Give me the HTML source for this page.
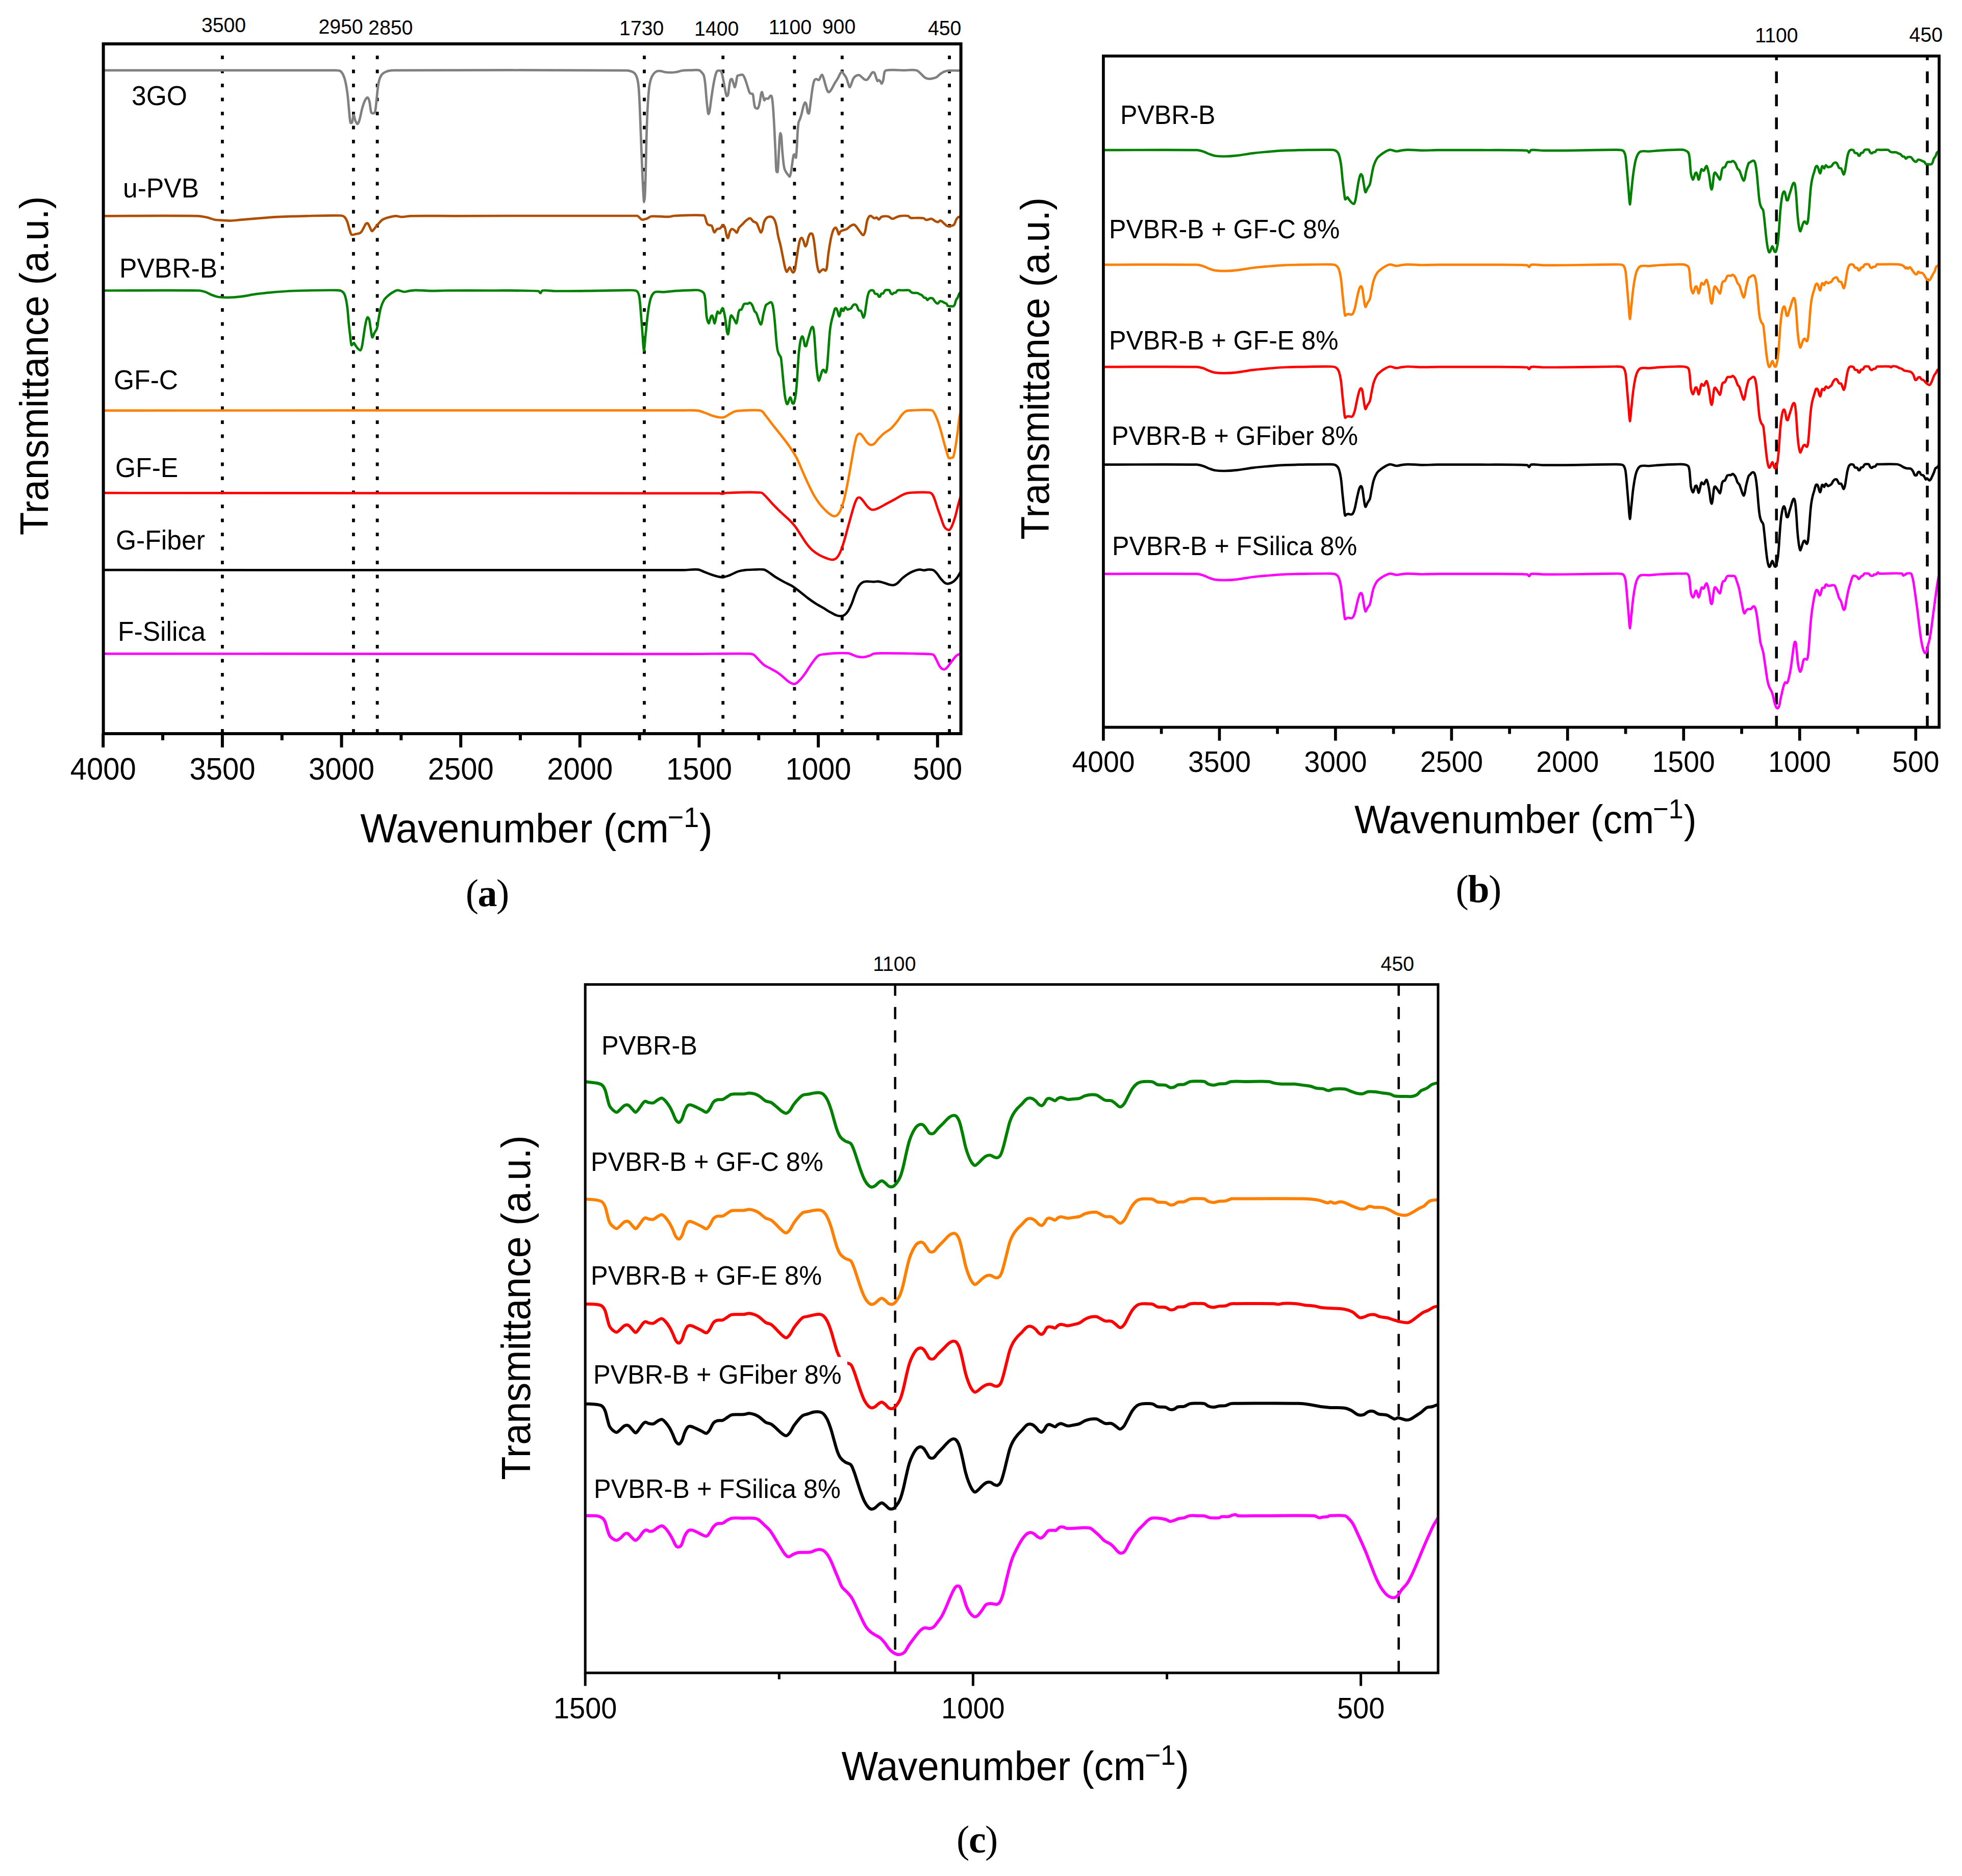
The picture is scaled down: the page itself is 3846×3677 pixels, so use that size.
<!DOCTYPE html>
<html><head><meta charset="utf-8"><title>FTIR</title><style>html,body{margin:0;padding:0;background:#fff}svg{display:block}</style></head><body>
<svg width="3846" height="3677" viewBox="0 0 3846 3677">
<rect width="3846" height="3677" fill="#fff"/>
<line x1="435.9" y1="108.9" x2="435.9" y2="1438.0" stroke="#000" stroke-width="5.8" stroke-dasharray="7 20.5"/>
<line x1="692.9" y1="108.9" x2="692.9" y2="1438.0" stroke="#000" stroke-width="5.8" stroke-dasharray="7 20.5"/>
<line x1="739.6" y1="108.9" x2="739.6" y2="1438.0" stroke="#000" stroke-width="5.8" stroke-dasharray="7 20.5"/>
<line x1="1263.0" y1="108.9" x2="1263.0" y2="1438.0" stroke="#000" stroke-width="5.8" stroke-dasharray="7 20.5"/>
<line x1="1417.2" y1="108.9" x2="1417.2" y2="1438.0" stroke="#000" stroke-width="5.8" stroke-dasharray="7 20.5"/>
<line x1="1557.4" y1="108.9" x2="1557.4" y2="1438.0" stroke="#000" stroke-width="5.8" stroke-dasharray="7 20.5"/>
<line x1="1650.8" y1="108.9" x2="1650.8" y2="1438.0" stroke="#000" stroke-width="5.8" stroke-dasharray="7 20.5"/>
<line x1="1861.1" y1="108.9" x2="1861.1" y2="1438.0" stroke="#000" stroke-width="5.8" stroke-dasharray="7 20.5"/>
<path d="M202.0,137.8C353.5,137.8 505.0,137.2 656.4,137.8C660.2,137.8 664.9,137.6 667.6,139.7C671.2,142.6 673.6,148.1 675.1,152.8C678.0,161.7 679.4,171.3 680.7,180.7C682.5,193.1 683.1,205.6 684.4,218.0C685.2,225.5 685.4,233.8 687.0,240.4C687.2,241.3 689.7,241.2 690.0,240.4C691.7,236.3 691.7,226.2 693.0,225.5C694.0,225.0 695.2,233.1 696.7,236.7C697.6,238.9 699.2,243.0 700.4,243.0C701.7,243.0 703.5,239.0 704.2,236.7C706.8,228.2 708.0,219.2 710.5,210.6C712.0,205.5 713.7,200.3 716.1,195.7C717.1,193.9 719.5,190.7 720.6,191.2C722.2,191.9 723.6,196.5 724.3,199.4C726.0,206.4 725.7,214.9 728.0,221.0C728.5,222.4 731.6,222.3 732.9,221.8C734.1,221.3 735.2,219.5 735.5,218.0C737.1,209.6 737.5,200.7 738.5,192.0C739.7,182.0 740.2,171.8 742.2,162.0C743.3,156.9 744.9,151.4 747.8,147.2C749.9,144.2 753.7,141.8 757.2,140.4C761.8,138.6 767.0,137.8 772.0,137.8C924.1,137.1 1076.4,137.4 1228.5,138.1C1231.7,138.1 1234.9,138.9 1237.8,140.0C1240.2,140.9 1242.8,142.2 1244.4,144.1C1246.5,146.7 1248.1,150.1 1249.0,153.4C1250.5,158.8 1251.3,164.6 1251.8,170.2C1252.8,180.7 1253.2,191.3 1253.7,201.9C1254.5,217.5 1255.0,233.0 1255.6,248.6C1256.2,264.1 1256.8,279.7 1257.4,295.2C1258.0,310.8 1258.6,326.3 1259.3,341.9C1259.9,354.9 1260.4,368.0 1261.2,381.0C1261.5,386.0 1262.1,396.0 1262.6,396.0C1263.1,396.0 1264.0,386.0 1264.3,381.0C1265.1,364.9 1265.4,348.7 1265.8,332.5C1266.3,313.9 1266.6,295.2 1267.1,276.6C1267.5,261.0 1268.0,245.5 1268.6,229.9C1269.1,218.1 1269.7,206.3 1270.5,194.5C1271.1,186.4 1271.6,178.2 1272.7,170.2C1273.4,164.9 1274.4,159.4 1276.1,154.4C1277.4,150.7 1279.3,147.1 1281.7,144.1C1283.3,142.1 1285.8,140.2 1288.2,139.4C1290.5,138.6 1293.2,139.1 1295.7,139.4C1298.2,139.7 1300.6,140.9 1303.1,141.3C1306.8,141.9 1310.6,142.2 1314.3,142.2C1318.0,142.2 1321.8,141.9 1325.5,141.3C1329.3,140.7 1332.9,139.0 1336.7,138.5C1342.9,137.7 1349.2,137.8 1355.4,137.6C1360.4,137.5 1365.6,136.7 1370.3,137.6C1372.2,138.0 1373.7,139.8 1375.0,141.3C1376.8,143.2 1378.8,145.3 1379.6,147.8C1381.3,153.1 1381.7,159.0 1382.4,164.6C1383.3,172.0 1383.6,179.5 1384.3,187.0C1385.0,195.1 1385.7,203.2 1386.7,211.3C1387.2,215.4 1387.6,221.7 1388.6,223.4C1389.0,224.1 1390.5,220.4 1390.8,218.7C1392.2,211.6 1392.8,204.2 1393.8,197.0C1395.0,188.5 1396.2,180.0 1397.6,171.5C1398.7,164.7 1399.9,157.9 1401.5,151.2C1402.4,147.3 1403.4,142.9 1405.3,139.7C1405.9,138.6 1407.8,138.4 1409.1,138.4C1410.5,138.4 1412.7,138.5 1413.4,139.7C1415.3,142.8 1415.9,147.3 1416.8,151.2C1418.3,157.9 1419.2,164.8 1420.6,171.5C1421.7,177.1 1422.6,183.9 1424.4,188.1C1424.7,188.9 1426.7,187.3 1427.0,186.3C1428.4,180.9 1428.5,174.7 1429.5,169.0C1430.2,164.7 1430.6,160.1 1432.0,156.3C1432.3,155.4 1434.1,154.4 1434.6,155.0C1436.1,156.9 1436.8,160.9 1437.9,163.9C1438.8,166.3 1439.8,171.4 1440.5,171.0C1441.5,170.5 1442.3,164.6 1443.0,161.4C1444.0,157.2 1443.9,152.1 1445.6,148.6C1446.2,147.4 1448.4,147.6 1449.9,147.3C1451.8,146.9 1454.3,145.7 1455.7,146.6C1457.7,147.9 1459.0,151.2 1460.1,153.7C1462.2,158.6 1463.4,163.9 1465.2,169.0C1466.8,173.7 1467.8,179.2 1470.3,183.0C1471.2,184.3 1474.8,182.9 1475.4,184.3C1477.3,188.4 1476.9,194.5 1477.9,199.6C1478.6,203.4 1478.7,208.1 1480.5,211.0C1481.3,212.3 1484.8,213.4 1485.6,212.3C1487.7,209.6 1488.4,203.9 1489.4,199.6C1490.5,194.6 1490.8,189.3 1491.9,184.3C1492.2,182.9 1493.2,180.1 1493.7,180.5C1494.5,181.3 1495.1,185.6 1495.8,188.1C1496.6,190.9 1497.2,195.4 1498.3,196.5C1498.9,197.1 1499.7,193.7 1500.9,193.2C1502.3,192.6 1504.7,194.0 1506.0,193.2C1507.6,192.3 1508.3,189.3 1509.8,188.1C1510.4,187.6 1512.0,187.4 1512.3,188.1C1513.6,191.3 1514.0,195.7 1514.4,199.6C1515.5,209.8 1516.1,220.0 1516.7,230.2C1517.5,242.9 1518.1,255.7 1518.7,268.4C1519.3,281.1 1519.9,293.9 1520.5,306.6C1521.0,316.4 1520.8,326.5 1522.0,335.9C1522.1,336.7 1524.2,338.0 1524.3,337.2C1525.6,328.2 1525.7,316.8 1526.3,306.6C1527.0,295.6 1527.3,284.5 1528.1,273.5C1528.4,269.4 1528.9,263.1 1529.7,261.3C1530.0,260.6 1531.2,264.2 1531.4,265.8C1532.4,274.2 1532.5,282.8 1533.2,291.3C1533.8,299.0 1534.4,306.7 1535.3,314.3C1535.9,319.8 1536.4,325.5 1537.8,330.8C1538.5,333.5 1540.1,336.1 1541.6,338.5C1542.7,340.3 1544.1,342.0 1545.5,343.6C1546.3,344.5 1547.5,346.7 1548.0,346.1C1549.2,344.6 1550.0,340.2 1550.6,337.2C1551.7,331.3 1552.2,325.3 1553.1,319.4C1553.9,314.3 1554.3,308.8 1555.7,304.1C1556.0,303.2 1557.8,302.3 1558.2,302.8C1559.3,304.0 1559.9,310.4 1560.2,309.2C1561.2,305.7 1561.5,295.6 1562.0,288.8C1562.6,280.3 1562.7,271.8 1563.3,263.3C1563.8,255.7 1564.1,247.9 1565.3,240.4C1565.8,237.7 1567.5,235.3 1568.4,232.7C1569.6,229.3 1570.6,225.9 1571.5,222.5C1572.7,217.9 1573.4,213.1 1574.8,208.5C1575.6,205.9 1576.9,201.7 1578.1,200.9C1578.8,200.5 1580.2,203.3 1580.6,204.7C1581.9,209.6 1581.9,215.1 1583.2,220.0C1583.5,221.1 1585.1,223.1 1585.5,222.5C1586.6,220.6 1587.0,215.7 1587.5,212.3C1588.5,205.5 1589.2,198.7 1590.1,191.9C1591.1,184.3 1592.0,176.6 1593.4,169.0C1594.1,165.1 1594.8,160.9 1596.4,157.5C1597.0,156.2 1598.8,155.1 1600.2,155.0C1601.8,154.9 1604.1,157.5 1605.3,156.8C1607.0,155.8 1607.4,152.1 1608.7,149.9C1609.4,148.7 1610.5,146.4 1611.2,146.6C1612.2,146.8 1613.2,149.5 1613.8,151.2C1615.5,156.2 1616.6,161.4 1618.1,166.5C1619.3,170.3 1620.2,174.4 1621.9,177.9C1622.5,179.1 1624.0,180.8 1625.0,180.5C1626.6,180.0 1628.4,177.3 1629.6,175.4C1632.0,171.8 1633.7,167.7 1635.9,163.9C1637.9,160.4 1640.3,157.2 1642.3,153.7C1644.2,150.4 1645.5,146.8 1647.4,143.5C1648.0,142.4 1649.0,140.3 1649.9,140.5C1651.2,140.8 1652.6,143.3 1653.8,144.8C1655.6,147.2 1657.6,149.7 1658.9,152.4C1660.6,156.0 1661.3,160.1 1662.7,163.9C1663.6,166.3 1664.6,171.0 1665.7,171.0C1666.8,171.0 1668.1,166.3 1669.1,163.9C1670.5,160.6 1671.1,156.8 1672.9,153.7C1674.1,151.7 1676.0,149.7 1678.0,148.6C1679.8,147.6 1682.4,146.9 1684.3,147.3C1686.2,147.7 1687.7,149.8 1689.4,151.2C1691.1,152.6 1692.6,154.7 1694.5,155.7C1696.0,156.4 1698.3,157.0 1699.6,156.3C1701.7,155.1 1703.1,152.1 1704.7,149.9C1706.5,147.4 1707.7,144.0 1709.8,142.2C1710.7,141.4 1713.0,141.3 1713.7,142.2C1715.6,144.7 1716.2,149.0 1717.5,152.4C1718.3,154.5 1718.8,157.8 1720.0,158.8C1720.5,159.3 1721.7,156.8 1722.6,156.8C1723.4,156.8 1724.4,158.0 1725.1,158.8C1726.4,160.3 1727.5,164.3 1728.4,163.9C1729.6,163.4 1730.9,158.9 1731.5,156.3C1732.7,151.3 1732.4,145.7 1734.0,141.0C1734.5,139.5 1736.3,138.0 1737.9,137.7C1742.3,136.7 1747.2,137.1 1751.9,137.1C1758.7,137.1 1765.5,137.9 1772.3,137.9C1777.4,137.9 1782.5,137.0 1787.6,137.1C1791.0,137.2 1794.8,137.1 1797.8,138.4C1800.7,139.7 1802.9,142.6 1805.4,144.8C1808.0,147.1 1810.1,150.1 1813.0,151.9C1815.2,153.3 1818.1,154.2 1820.7,154.5C1823.2,154.8 1825.8,154.2 1828.3,153.7C1830.9,153.1 1833.7,152.5 1836.0,151.2C1838.4,149.8 1840.1,147.2 1842.4,145.6C1845.2,143.6 1848.1,141.4 1851.3,140.2C1854.5,139.0 1858.1,138.6 1861.5,138.4C1868.8,138.0 1876.2,138.4 1883.5,138.4" fill="none" stroke="#808080" stroke-width="4.7" stroke-linejoin="round" stroke-linecap="butt" />
<path d="M202.0,423.3C263.9,423.3 325.9,422.4 387.8,423.3C394.1,423.4 400.3,424.9 406.4,426.3C411.4,427.4 416.2,429.8 421.3,430.7C426.2,431.6 431.3,431.6 436.3,431.9C441.3,432.2 446.2,432.8 451.2,432.6C458.7,432.4 466.1,431.3 473.6,430.7C484.8,429.7 496.0,428.7 507.2,427.8C519.6,426.8 532.1,425.7 544.5,425.1C563.1,424.2 581.8,423.7 600.4,423.3C622.8,422.8 645.3,422.0 667.6,422.5C670.2,422.6 673.3,423.4 675.1,425.1C677.6,427.4 679.4,431.1 680.7,434.5C682.8,439.9 683.6,445.8 685.5,451.3C686.5,454.3 687.2,458.6 689.3,459.9C691.2,461.1 694.8,459.3 697.5,458.7C700.6,458.0 704.4,457.9 706.8,456.1C709.4,454.2 710.7,450.4 712.4,447.5C714.0,444.7 715.0,441.4 716.9,439.0C717.7,438.0 719.7,436.9 720.6,437.5C722.2,438.5 723.1,441.7 724.3,443.8C726.0,446.9 727.3,451.9 729.2,453.1C730.2,453.7 731.8,450.7 732.9,449.4C735.5,446.4 737.7,443.1 740.4,440.1C743.3,436.8 746.1,433.1 749.7,430.7C753.0,428.5 757.1,427.4 760.9,426.3C765.8,424.9 770.8,423.5 775.8,423.3C779.5,423.1 783.2,425.1 787.0,425.1C793.2,425.1 799.4,423.4 805.7,423.3C833.8,422.8 861.9,423.3 890.0,423.3C1009.7,423.2 1129.7,422.1 1249.0,423.0C1250.7,423.0 1251.7,425.0 1253.0,426.0C1254.8,427.5 1256.3,430.1 1258.4,430.5C1261.2,431.0 1264.7,429.6 1267.7,428.6C1270.9,427.5 1273.6,424.3 1277.0,424.0C1287.9,423.1 1299.4,425.1 1310.6,424.9C1314.4,424.8 1318.0,423.2 1321.8,423.0C1341.0,422.2 1361.3,420.6 1379.6,422.1C1381.7,422.3 1382.2,425.9 1383.0,428.0C1384.3,431.2 1384.4,435.0 1386.0,438.0C1386.8,439.4 1388.5,440.5 1390.0,441.2C1391.5,441.9 1394.2,441.1 1395.1,442.4C1397.6,445.8 1398.0,453.7 1400.2,455.2C1401.4,456.0 1403.2,450.7 1405.3,449.3C1407.1,448.1 1410.0,448.7 1411.7,447.5C1413.8,446.0 1415.0,441.7 1416.8,441.2C1418.0,440.9 1420.0,443.4 1420.6,445.0C1422.5,450.1 1422.8,456.1 1424.4,461.5C1424.9,463.3 1426.4,467.4 1427.0,466.6C1428.5,464.8 1429.1,457.9 1430.8,453.9C1431.6,452.0 1433.0,449.2 1434.6,448.8C1436.0,448.4 1438.2,450.3 1439.7,451.4C1441.4,452.7 1443.2,456.5 1444.3,455.9C1446.1,454.8 1446.7,449.2 1448.6,446.3C1450.2,443.8 1452.9,442.0 1455.0,439.9C1457.5,437.3 1459.8,434.4 1462.6,432.2C1464.9,430.4 1468.0,427.6 1470.3,427.9C1472.6,428.2 1474.3,432.3 1476.6,434.0C1478.5,435.4 1481.6,435.5 1483.0,437.3C1485.4,440.4 1486.4,445.0 1488.1,448.8C1489.2,451.1 1490.2,455.5 1491.4,455.7C1492.4,455.9 1493.9,452.1 1494.5,450.1C1495.9,445.6 1496.0,440.6 1497.5,436.1C1498.5,433.1 1499.9,429.8 1502.1,427.7C1504.0,425.9 1507.3,424.6 1509.8,424.6C1511.9,424.6 1514.8,425.9 1516.1,427.7C1518.6,431.0 1520.1,435.7 1521.2,439.9C1523.1,446.9 1523.6,454.3 1525.1,461.5C1526.6,468.3 1528.7,475.1 1530.2,481.9C1532.1,490.4 1533.6,498.9 1535.3,507.4C1536.5,513.4 1537.5,519.4 1539.1,525.3C1539.8,527.9 1541.2,532.4 1542.4,532.9C1543.3,533.2 1544.4,529.5 1545.5,527.8C1546.3,526.5 1547.2,523.8 1548.0,524.0C1549.1,524.2 1550.0,527.4 1551.1,529.1C1552.2,530.8 1553.2,534.0 1554.4,534.2C1555.4,534.4 1557.2,532.0 1557.7,530.4C1559.3,524.7 1559.8,518.5 1560.7,512.5C1562.1,504.0 1563.1,495.5 1564.6,487.0C1565.7,481.0 1566.5,474.8 1568.4,469.2C1568.8,467.8 1570.6,465.8 1571.5,466.1C1572.8,466.6 1574.0,469.7 1574.8,471.7C1576.3,475.3 1577.1,481.3 1578.6,482.7C1579.3,483.4 1581.0,479.8 1581.6,478.1C1583.1,473.6 1583.4,468.6 1585.0,464.1C1585.8,461.8 1587.2,458.8 1588.8,457.7C1589.7,457.1 1592.1,457.9 1592.6,459.0C1594.5,463.4 1595.1,469.2 1595.9,474.3C1597.2,482.8 1597.9,491.3 1599.0,499.8C1600.2,508.3 1601.0,516.9 1602.8,525.3C1603.4,528.2 1604.6,532.6 1606.1,533.7C1606.9,534.3 1608.4,531.3 1609.7,530.4C1611.1,529.4 1612.8,527.8 1614.3,527.8C1615.6,527.8 1617.2,530.8 1618.1,530.4C1619.3,529.9 1620.3,527.1 1620.6,525.3C1622.0,517.8 1622.2,509.9 1623.2,502.3C1624.3,493.8 1625.5,485.3 1627.0,476.8C1628.0,470.8 1629.2,464.8 1630.8,459.0C1631.7,455.5 1632.8,451.8 1634.6,448.8C1635.4,447.5 1637.6,445.8 1638.5,446.3C1640.0,447.1 1640.8,450.4 1641.8,452.6C1642.8,454.8 1643.3,459.3 1644.3,459.5C1645.2,459.7 1646.0,455.3 1647.4,453.9C1648.7,452.6 1650.7,452.1 1652.5,451.4C1655.0,450.4 1657.8,450.1 1660.1,448.8C1662.9,447.1 1665.0,444.1 1667.8,442.4C1669.7,441.3 1672.3,440.0 1674.2,440.4C1676.1,440.8 1677.7,443.3 1679.2,445.0C1681.5,447.8 1683.3,451.1 1685.6,453.9C1687.6,456.4 1690.2,461.0 1692.0,461.0C1693.6,461.0 1695.1,456.5 1695.8,453.9C1697.6,447.3 1697.9,440.2 1699.6,433.5C1700.4,430.4 1701.7,427.0 1703.5,424.6C1704.3,423.6 1706.1,422.9 1707.3,423.3C1709.5,424.0 1711.4,427.1 1713.7,427.7C1715.2,428.1 1717.3,426.0 1718.7,426.4C1720.2,426.8 1721.3,430.4 1722.6,430.2C1724.3,430.0 1725.7,426.2 1727.7,425.1C1729.5,424.1 1731.9,423.9 1734.0,423.8C1736.5,423.7 1739.3,423.8 1741.7,424.6C1744.4,425.5 1746.7,428.7 1749.3,428.9C1751.8,429.1 1754.4,426.8 1757.0,425.9C1759.5,425.0 1762.0,423.6 1764.6,423.3C1769.6,422.7 1775.1,422.4 1779.9,423.3C1781.9,423.7 1783.0,426.7 1785.0,427.1C1789.0,427.9 1793.5,427.0 1797.8,427.1C1802.0,427.2 1806.5,426.8 1810.5,427.7C1812.4,428.1 1813.7,430.9 1815.6,431.0C1818.8,431.3 1822.6,428.5 1825.8,428.9C1828.5,429.3 1830.8,432.2 1833.4,433.5C1835.0,434.3 1836.9,435.5 1838.5,435.3C1840.3,435.1 1842.0,431.8 1843.6,432.2C1846.3,432.9 1848.7,436.5 1851.3,438.6C1853.0,440.0 1854.4,442.2 1856.4,442.9C1858.7,443.7 1861.6,443.4 1864.0,442.9C1866.2,442.4 1869.0,441.6 1870.4,439.9C1872.4,437.6 1872.7,433.8 1874.2,431.0C1875.2,429.1 1876.4,427.1 1878.0,425.9C1879.5,424.7 1881.7,424.5 1883.5,423.8" fill="none" stroke="#B04E00" stroke-width="4.7" stroke-linejoin="round" stroke-linecap="butt" />
<path d="M203.1,569.5C265.4,569.5 327.8,568.6 390.0,569.5C394.3,569.5 398.5,570.9 402.6,572.3C406.9,573.7 410.8,576.4 415.1,578.0C419.2,579.6 423.4,581.3 427.6,582.0C433.8,583.0 440.3,583.2 446.5,583.1C454.9,583.0 463.3,582.4 471.6,581.4C482.1,580.1 492.5,577.7 503.0,576.2C513.5,574.8 524.0,573.9 534.5,572.9C544.9,572.0 555.4,571.1 565.9,570.5C576.4,569.9 586.8,569.7 597.3,569.5C618.2,569.1 639.2,568.5 660.1,568.8C663.3,568.9 666.9,569.0 669.5,570.5C672.2,572.0 674.7,575.0 675.8,578.0C678.3,584.9 679.5,592.6 680.5,600.0C682.1,611.3 682.5,622.7 683.7,634.0C684.6,643.1 685.6,652.1 686.8,661.2C687.4,666.3 687.7,672.7 689.0,676.5C689.3,677.2 690.8,675.4 691.5,674.7C692.3,673.9 693.0,671.7 693.7,672.1C694.9,672.7 695.9,675.7 697.2,677.5C698.6,679.5 699.9,681.6 701.6,683.3C703.0,684.6 705.5,687.3 706.6,686.6C708.2,685.6 709.1,681.1 709.7,678.2C711.1,671.5 711.8,664.5 712.9,657.7C714.1,649.8 715.0,641.8 716.7,634.0C717.5,629.9 718.7,624.1 720.4,622.1C721.0,621.3 723.1,624.1 723.6,625.5C725.2,631.4 725.5,638.0 726.6,644.2C727.6,649.9 728.3,659.4 729.8,661.2C730.7,662.2 732.5,655.4 733.9,652.6C735.4,649.8 737.7,647.2 738.7,644.2C740.3,638.8 740.7,632.9 741.7,627.2C743.3,619.3 744.3,611.2 746.5,603.4C747.9,598.2 749.9,592.8 752.7,588.1C754.7,584.9 757.8,582.2 760.6,579.7C763.5,577.2 766.7,574.8 770.0,572.9C772.9,571.2 776.2,568.9 779.4,568.8C783.5,568.6 787.8,571.8 792.1,572.0C795.6,572.2 799.1,570.6 802.6,570.1C806.8,569.6 811.1,568.8 815.3,568.8C824.7,568.8 834.1,570.0 843.5,570.1C854.0,570.3 864.5,569.5 875.0,569.5C904.3,569.3 933.6,569.3 962.9,569.5C993.8,569.6 1025.2,568.9 1055.5,570.5C1057.3,570.6 1058.1,574.7 1059.3,574.6C1060.7,574.4 1061.3,569.8 1063.3,569.5C1071.1,568.4 1080.1,570.4 1088.5,570.5C1109.4,570.6 1130.4,570.4 1151.3,570.1C1177.5,569.8 1203.7,569.0 1229.8,568.8C1235.1,568.8 1240.6,568.5 1245.5,569.5C1247.4,569.8 1249.3,571.3 1250.3,572.9C1252.0,575.9 1252.9,579.6 1253.4,583.1C1255.0,594.3 1255.6,605.7 1256.5,617.0C1257.7,630.6 1258.6,644.2 1259.7,657.7C1260.5,667.7 1261.2,687.0 1262.2,687.6C1263.0,688.1 1264.1,670.0 1265.0,661.2C1266.5,647.6 1267.5,634.0 1269.2,620.4C1270.4,610.8 1271.7,601.1 1273.8,591.6C1274.8,586.9 1276.2,582.1 1278.5,578.0C1279.9,575.6 1282.2,572.9 1284.8,572.3C1290.0,571.0 1296.4,572.6 1302.1,572.3C1309.5,571.9 1316.8,570.6 1324.1,570.1C1334.5,569.5 1345.0,569.1 1355.4,568.8C1360.2,568.7 1365.0,568.1 1369.6,568.8C1372.3,569.2 1374.9,570.7 1377.2,572.1C1378.5,573.1 1379.9,574.6 1380.5,576.1C1381.6,579.2 1382.0,582.6 1382.3,585.9C1383.1,592.0 1383.3,598.0 1383.8,604.1C1384.2,609.6 1384.4,615.1 1385.1,620.6C1385.5,623.4 1386.2,626.2 1387.0,628.9C1387.6,630.6 1388.7,634.0 1389.4,633.8C1390.3,633.5 1391.0,629.4 1391.7,627.2C1392.6,624.7 1392.9,621.7 1394.1,619.6C1394.4,618.9 1396.1,618.4 1396.4,618.9C1397.6,620.9 1398.0,624.5 1398.8,627.2C1399.4,629.4 1400.2,634.1 1400.8,633.8C1401.6,633.5 1402.4,628.3 1403.0,625.5C1403.9,621.7 1404.4,617.8 1405.4,614.0C1405.7,612.8 1406.2,610.9 1406.8,610.7C1407.3,610.6 1407.8,612.8 1408.7,613.3C1409.4,613.8 1410.9,614.5 1411.5,614.0C1412.8,612.6 1413.2,609.5 1414.3,607.4C1414.9,606.2 1416.1,603.7 1416.6,604.1C1417.6,604.8 1418.4,608.5 1419.0,610.7C1420.0,614.5 1420.7,618.4 1421.3,622.3C1422.1,626.6 1422.6,631.0 1423.2,635.4C1423.9,640.4 1424.2,645.4 1425.1,650.3C1425.4,652.0 1426.5,655.6 1427.0,655.2C1427.7,654.5 1428.5,649.7 1428.8,647.0C1429.5,642.0 1429.7,637.0 1430.3,632.1C1430.8,628.0 1431.1,623.7 1432.2,619.9C1432.4,619.1 1433.5,618.0 1434.0,618.3C1435.1,618.8 1436.0,620.9 1436.8,622.3C1438.2,624.4 1439.4,626.7 1440.6,628.9C1441.6,630.5 1442.7,634.1 1443.4,633.8C1444.3,633.5 1444.9,629.5 1445.3,627.2C1446.3,622.3 1446.5,617.2 1447.7,612.4C1448.1,610.6 1448.9,608.6 1450.0,607.4C1450.7,606.7 1452.6,607.5 1453.3,606.8C1454.7,605.3 1455.2,602.8 1456.1,600.8C1456.9,599.2 1457.3,597.0 1458.5,595.9C1459.3,595.1 1461.0,595.3 1462.2,595.2C1463.5,595.1 1464.8,595.5 1466.0,595.2C1467.2,594.9 1468.2,593.3 1469.3,593.3C1470.4,593.3 1471.7,594.3 1472.6,595.2C1473.7,596.5 1474.6,598.2 1475.4,599.9C1476.9,603.2 1477.5,606.9 1479.2,610.1C1479.9,611.4 1481.7,612.0 1482.4,613.3C1483.9,616.1 1484.7,619.3 1485.7,622.3C1486.9,625.5 1487.7,628.9 1489.0,632.1C1489.6,633.5 1490.9,636.3 1491.5,636.1C1492.4,635.8 1493.3,632.4 1493.7,630.5C1494.8,626.2 1495.1,621.7 1496.1,617.3C1497.0,612.9 1498.1,608.4 1499.4,604.1C1500.0,601.8 1500.5,599.4 1501.7,597.5C1502.3,596.6 1503.6,596.4 1504.5,595.9C1505.8,595.0 1506.9,593.9 1508.3,593.3C1509.3,592.8 1510.7,592.1 1511.6,592.5C1512.6,593.0 1513.5,594.6 1513.9,595.9C1515.1,599.5 1515.7,603.5 1516.3,607.4C1517.3,614.5 1517.9,621.7 1518.6,628.9C1519.4,636.5 1519.9,644.2 1520.5,651.9C1521.1,659.1 1521.6,666.2 1522.4,673.4C1522.9,677.8 1523.3,682.2 1524.2,686.5C1524.9,689.3 1525.9,692.1 1527.1,694.7C1527.9,696.5 1529.8,697.8 1530.4,699.7C1531.6,703.9 1531.7,708.5 1532.2,712.9C1533.0,719.5 1533.5,726.1 1534.1,732.7C1534.9,740.9 1535.6,749.1 1536.5,757.4C1537.2,764.0 1537.8,770.6 1538.8,777.2C1539.4,781.1 1540.1,785.0 1541.2,788.7C1541.5,789.9 1542.4,791.9 1543.1,792.1C1543.6,792.2 1544.5,790.6 1544.9,789.7C1546.0,787.3 1546.3,784.6 1547.3,782.1C1547.8,781.0 1548.6,778.7 1549.2,778.8C1549.9,779.0 1550.6,781.6 1551.2,783.1C1552.1,785.5 1552.3,788.5 1553.5,790.4C1553.9,791.0 1555.5,791.3 1555.9,790.8C1556.9,789.4 1557.3,786.9 1557.8,784.8C1558.7,780.5 1559.5,776.0 1560.1,771.6C1560.9,764.5 1561.4,757.4 1562.0,750.2C1562.7,740.3 1563.2,730.4 1563.9,720.5C1564.5,711.7 1565.0,702.9 1565.7,694.2C1566.2,688.7 1566.8,683.2 1567.6,677.7C1568.2,673.2 1568.8,668.7 1570.0,664.4C1570.4,662.7 1571.4,660.3 1572.3,659.6C1572.8,659.2 1573.9,660.4 1574.2,661.2C1575.2,663.7 1575.5,666.6 1576.1,669.4C1576.7,672.4 1576.8,676.0 1577.9,678.3C1578.2,678.9 1580.0,678.9 1580.3,678.3C1581.6,676.0 1581.8,672.4 1582.6,669.4C1583.9,665.0 1585.1,660.6 1586.4,656.2C1587.5,652.4 1588.4,648.4 1589.7,644.7C1590.2,643.3 1591.1,641.3 1592.1,640.7C1592.5,640.4 1593.7,641.3 1593.9,642.0C1595.0,645.4 1595.4,649.2 1595.8,652.9C1596.7,661.1 1597.1,669.4 1597.7,677.7C1598.4,687.6 1598.8,697.5 1599.6,707.3C1600.1,713.9 1600.7,720.5 1601.5,727.1C1602.0,731.5 1602.5,735.9 1603.3,740.3C1603.7,742.3 1604.5,745.9 1605.2,746.2C1605.7,746.5 1606.6,743.4 1607.1,741.9C1608.2,738.7 1608.8,735.3 1609.9,732.0C1610.6,730.0 1611.1,727.8 1612.2,726.1C1612.7,725.4 1614.0,724.5 1614.6,724.8C1615.6,725.4 1616.0,727.7 1616.9,728.8C1617.4,729.3 1618.5,730.2 1618.9,729.8C1619.8,728.5 1620.4,725.9 1620.7,723.8C1621.7,717.3 1622.1,710.6 1622.6,704.0C1623.3,695.2 1623.8,686.5 1624.5,677.7C1625.1,669.4 1625.6,661.1 1626.4,652.9C1626.8,648.0 1627.4,643.0 1628.2,638.1C1628.9,634.3 1629.7,630.4 1630.6,626.6C1631.4,623.2 1632.5,620.0 1633.4,616.7C1634.5,612.8 1635.1,608.4 1636.7,605.1C1637.1,604.4 1639.0,604.0 1639.5,604.5C1640.7,605.6 1641.2,608.2 1641.9,610.1C1642.7,612.5 1642.9,615.0 1643.7,617.3C1644.1,618.3 1645.0,620.3 1645.4,620.0C1646.1,619.5 1646.7,616.7 1647.0,615.1C1647.7,612.3 1647.7,609.4 1648.5,606.8C1648.7,605.9 1649.3,604.5 1649.9,604.5C1650.4,604.5 1651.1,606.0 1651.7,606.8C1652.4,607.6 1653.2,609.7 1653.6,609.4C1654.3,609.1 1654.4,606.5 1655.0,605.1C1655.5,604.2 1656.2,602.6 1656.9,602.4C1657.4,602.3 1658.2,603.6 1658.8,604.2C1659.6,605.0 1660.2,606.5 1661.1,606.8C1662.1,607.0 1663.3,606.1 1664.4,605.8C1665.7,605.4 1667.3,605.3 1668.2,604.5C1669.6,603.2 1670.1,600.8 1671.5,599.2C1672.3,598.2 1673.6,597.1 1674.8,596.8C1675.9,596.6 1677.7,596.8 1678.5,597.6C1679.7,598.7 1680.1,600.8 1680.9,602.4C1681.8,604.4 1682.3,607.0 1683.7,608.5C1684.5,609.3 1686.7,608.6 1687.5,609.4C1688.7,610.8 1689.1,613.2 1689.8,615.1C1690.8,617.6 1691.7,622.3 1692.6,622.6C1693.4,622.8 1694.5,618.7 1695.0,616.7C1696.1,611.8 1696.5,606.8 1697.3,601.8C1698.3,595.8 1699.0,589.7 1700.1,583.7C1700.9,580.1 1701.6,576.4 1703.0,573.1C1703.5,571.7 1704.6,570.4 1705.8,569.6C1706.6,569.0 1708.0,568.9 1709.1,568.9C1710.2,569.0 1711.6,569.1 1712.3,569.9C1713.7,571.3 1713.8,574.3 1715.3,575.6C1716.4,576.6 1718.9,575.7 1720.0,576.6C1721.4,577.6 1721.6,580.5 1722.8,581.5C1723.3,582.0 1724.7,581.5 1725.2,580.9C1726.2,579.6 1726.3,577.1 1727.5,575.9C1728.4,575.1 1730.4,575.8 1731.3,575.0C1732.9,573.5 1733.4,570.3 1735.0,569.0C1736.2,568.1 1738.2,568.4 1739.7,568.4C1741.0,568.4 1742.7,568.2 1743.5,569.0C1744.7,570.2 1744.7,572.8 1745.9,574.3C1746.6,575.3 1748.1,576.6 1749.1,576.6C1750.3,576.5 1751.2,574.5 1752.4,574.0C1753.5,573.5 1755.2,574.0 1756.2,573.3C1757.6,572.4 1757.9,569.5 1759.5,569.0C1762.2,568.1 1765.7,569.0 1768.9,569.0C1773.4,569.0 1778.3,568.3 1782.5,569.0C1783.6,569.2 1783.9,570.9 1784.9,571.6C1786.1,572.6 1787.5,573.7 1789.1,574.0C1791.9,574.6 1795.1,573.8 1798.0,574.3C1799.7,574.6 1801.1,575.8 1802.7,576.6C1804.3,577.3 1806.1,577.8 1807.4,578.8C1808.9,580.0 1809.7,582.1 1811.2,583.1C1812.2,583.9 1813.9,583.4 1814.9,584.1C1816.3,585.1 1817.0,588.0 1818.2,588.1C1819.2,588.2 1820.1,585.3 1821.5,584.9C1823.4,584.2 1826.3,584.0 1828.1,584.9C1829.7,585.7 1830.5,588.1 1831.8,589.7C1833.1,591.2 1834.1,593.0 1835.6,594.0C1836.5,594.6 1838.0,595.1 1838.9,594.7C1840.2,594.0 1840.8,591.2 1842.2,590.5C1843.3,589.9 1845.1,590.4 1846.4,590.8C1847.9,591.3 1849.2,592.3 1850.6,593.1C1852.2,593.9 1854.1,594.2 1855.3,595.3C1856.6,596.4 1856.8,598.9 1858.2,599.6C1859.6,600.5 1861.9,600.2 1863.8,600.3C1865.4,600.4 1867.1,600.8 1868.5,600.3C1869.6,599.8 1870.8,598.6 1871.3,597.4C1872.6,594.5 1872.9,591.0 1874.1,588.1C1874.9,586.3 1876.5,584.9 1877.4,583.1C1878.7,580.5 1879.2,577.4 1880.7,575.0C1881.5,573.6 1883.1,572.7 1884.3,571.6" fill="none" stroke="#008000" stroke-width="4.7" stroke-linejoin="round" stroke-linecap="butt" />
<path d="M202.0,804.6C581.3,804.5 960.7,804.2 1340.0,804.3C1349.3,804.3 1358.8,803.8 1368.0,804.9C1372.8,805.4 1377.4,807.5 1382.0,809.1C1386.8,810.8 1391.3,813.2 1396.1,814.7C1400.7,816.1 1405.4,817.4 1410.1,818.0C1413.3,818.4 1416.9,818.4 1419.9,817.5C1423.4,816.4 1426.4,813.7 1429.7,811.9C1433.4,809.9 1437.0,807.5 1440.9,806.3C1444.4,805.2 1448.3,805.0 1452.1,804.9C1465.2,804.5 1479.2,802.7 1491.4,804.9C1495.1,805.5 1497.3,810.3 1499.8,813.3C1504.7,819.1 1509.1,825.5 1513.8,831.5C1519.3,838.5 1525.1,845.4 1530.6,852.5C1536.3,859.9 1542.1,867.2 1547.4,874.9C1552.4,882.2 1557.4,889.6 1561.5,897.4C1565.8,905.5 1569.0,914.2 1572.7,922.6C1576.4,931.0 1580.0,939.5 1583.9,947.8C1587.5,955.4 1591.0,963.0 1595.1,970.2C1598.4,976.1 1602.2,981.7 1606.3,987.1C1609.7,991.6 1613.6,995.7 1617.5,999.7C1620.1,1002.4 1622.9,1005.0 1625.9,1007.2C1628.5,1009.0 1631.4,1011.3 1634.3,1011.7C1636.5,1012.0 1639.6,1011.1 1641.3,1009.5C1644.3,1006.6 1646.7,1002.3 1648.4,998.3C1651.4,991.1 1653.5,983.4 1655.4,975.8C1658.2,964.7 1660.2,953.4 1662.4,942.2C1664.9,929.2 1667.1,916.1 1669.4,903.0C1671.3,892.7 1672.9,882.3 1675.0,872.1C1676.2,866.4 1677.2,860.6 1679.2,855.3C1680.0,853.3 1681.7,851.1 1683.4,850.3C1684.5,849.7 1686.5,850.3 1687.6,851.1C1689.8,852.9 1691.4,855.7 1693.2,858.1C1695.6,861.3 1697.4,865.1 1700.2,867.9C1702.1,869.8 1704.8,871.9 1707.2,872.1C1709.4,872.3 1712.3,870.8 1714.2,869.3C1717.0,867.1 1718.7,863.6 1721.2,860.9C1724.8,857.0 1728.4,853.1 1732.5,849.7C1736.9,846.1 1742.3,843.7 1746.5,839.9C1750.7,836.2 1754.2,831.7 1757.7,827.3C1761.7,822.3 1764.7,816.6 1768.9,811.9C1771.2,809.3 1774.1,806.6 1777.3,805.4C1780.7,804.1 1784.8,804.4 1788.5,804.3C1801.1,804.0 1814.9,802.0 1826.4,804.3C1829.9,805.0 1831.7,809.9 1833.4,813.3C1836.9,820.4 1839.4,828.1 1841.8,835.7C1845.0,845.8 1847.4,856.2 1850.2,866.5C1852.0,873.0 1853.8,879.6 1855.8,886.1C1857.0,890.1 1857.9,895.1 1860.0,897.9C1860.7,898.9 1862.8,897.7 1864.2,897.4C1865.6,897.1 1867.9,897.3 1868.4,896.0C1870.7,890.7 1871.5,883.9 1872.6,877.7C1874.3,868.4 1875.5,859.1 1876.8,849.7C1878.3,838.5 1879.3,827.2 1881.0,816.1C1881.5,812.8 1882.7,809.6 1883.5,806.3" fill="none" stroke="#FF8000" stroke-width="4.7" stroke-linejoin="round" stroke-linecap="butt" />
<path d="M202.0,966.2C581.3,966.4 960.7,966.7 1340.0,966.9C1363.4,966.9 1386.8,966.6 1410.1,966.9C1412.0,966.9 1413.8,968.1 1415.7,968.0C1418.5,967.8 1421.2,966.1 1424.1,966.0C1446.5,965.3 1469.5,963.9 1491.4,965.5C1494.8,965.7 1497.3,969.2 1499.8,971.6C1504.8,976.4 1509.0,982.1 1513.8,987.1C1519.3,992.8 1524.9,998.4 1530.6,1003.9C1536.1,1009.2 1542.0,1013.9 1547.4,1019.3C1551.4,1023.3 1555.3,1027.4 1558.7,1031.9C1562.8,1037.2 1566.2,1043.1 1569.9,1048.7C1573.6,1054.3 1577.0,1060.2 1581.1,1065.6C1584.5,1070.1 1588.1,1074.5 1592.3,1078.2C1596.5,1082.0 1601.4,1085.2 1606.3,1088.0C1610.7,1090.5 1615.5,1092.5 1620.3,1094.2C1623.9,1095.5 1627.8,1097.3 1631.5,1097.2C1634.4,1097.1 1637.8,1095.6 1639.9,1093.6C1643.0,1090.7 1645.2,1086.4 1647.0,1082.4C1649.9,1076.1 1651.9,1069.3 1654.0,1062.7C1656.6,1054.4 1658.7,1045.9 1661.0,1037.5C1663.3,1029.1 1665.6,1020.7 1668.0,1012.3C1670.3,1004.3 1672.3,996.3 1675.0,988.5C1676.5,984.3 1678.1,979.6 1680.6,976.4C1681.5,975.2 1684.1,974.7 1685.4,975.3C1687.8,976.4 1689.9,979.2 1691.8,981.5C1694.8,985.0 1697.1,989.3 1700.2,992.7C1702.2,994.9 1704.6,997.2 1707.2,998.3C1709.2,999.2 1712.0,999.3 1714.2,998.8C1717.6,998.1 1720.8,996.4 1724.0,994.9C1728.8,992.5 1733.4,989.7 1738.1,987.1C1743.7,984.1 1749.3,981.2 1754.9,978.1C1759.6,975.5 1764.1,972.6 1768.9,970.2C1771.6,968.9 1774.4,967.6 1777.3,966.9C1780.9,966.0 1784.7,965.6 1788.5,965.5C1799.7,965.2 1811.6,963.9 1822.2,965.5C1825.1,965.9 1827.8,968.9 1829.2,971.6C1833.0,978.9 1834.8,987.5 1837.6,995.5C1839.9,1002.0 1842.2,1008.6 1844.6,1015.1C1846.9,1021.2 1848.2,1028.1 1851.6,1033.3C1853.4,1036.0 1857.5,1039.1 1860.0,1038.9C1862.2,1038.7 1864.3,1034.6 1865.6,1031.9C1868.5,1025.7 1870.6,1018.9 1872.6,1012.3C1874.8,1004.9 1876.2,997.3 1878.2,989.9C1879.8,983.8 1881.7,977.7 1883.5,971.6" fill="none" stroke="#FF0000" stroke-width="4.7" stroke-linejoin="round" stroke-linecap="butt" />
<path d="M202.0,1117.2C581.3,1117.2 960.7,1117.6 1340.0,1117.3C1349.3,1117.3 1358.9,1115.5 1368.0,1116.4C1372.9,1116.9 1377.3,1119.8 1382.0,1121.5C1387.6,1123.6 1393.2,1126.0 1398.9,1127.7C1404.4,1129.3 1410.1,1131.3 1415.7,1131.3C1420.4,1131.3 1425.2,1129.3 1429.7,1127.7C1435.5,1125.6 1440.7,1122.1 1446.5,1120.1C1451.0,1118.6 1455.8,1117.8 1460.5,1117.3C1467.0,1116.6 1473.6,1116.6 1480.2,1116.4C1485.8,1116.3 1491.6,1115.5 1497.0,1116.4C1500.0,1116.9 1502.8,1118.9 1505.4,1120.6C1510.2,1123.6 1514.6,1127.4 1519.4,1130.5C1524.9,1134.0 1530.5,1137.2 1536.2,1140.3C1541.7,1143.3 1547.7,1145.4 1553.0,1148.7C1558.9,1152.4 1564.3,1157.0 1569.9,1161.3C1574.6,1164.9 1579.1,1168.9 1583.9,1172.5C1588.5,1175.9 1593.1,1179.2 1597.9,1182.3C1603.4,1185.8 1609.1,1188.8 1614.7,1192.1C1619.4,1194.9 1623.9,1197.9 1628.7,1200.5C1632.4,1202.5 1636.1,1204.7 1640.0,1206.1C1642.6,1207.0 1645.6,1207.6 1648.4,1207.5C1650.8,1207.4 1653.5,1206.7 1655.4,1205.3C1658.1,1203.4 1660.5,1200.6 1662.4,1197.7C1665.2,1193.4 1667.4,1188.5 1669.4,1183.7C1672.1,1177.3 1673.8,1170.5 1676.4,1164.1C1678.5,1158.9 1680.5,1153.4 1683.4,1148.7C1685.1,1145.9 1687.7,1143.3 1690.4,1141.7C1692.8,1140.3 1696.0,1139.9 1698.8,1139.7C1703.4,1139.4 1708.1,1140.3 1712.8,1140.3C1715.6,1140.3 1718.4,1139.4 1721.2,1139.7C1725.0,1140.1 1728.8,1141.2 1732.5,1142.2C1736.3,1143.2 1739.9,1145.0 1743.7,1145.9C1746.4,1146.5 1749.4,1147.2 1752.1,1146.7C1754.6,1146.2 1757.1,1144.7 1759.1,1143.1C1762.7,1140.3 1765.4,1136.3 1768.9,1133.3C1772.4,1130.3 1776.2,1127.4 1780.1,1124.9C1783.6,1122.7 1787.4,1120.7 1791.3,1119.2C1794.9,1117.8 1798.7,1116.7 1802.5,1116.4C1805.3,1116.2 1808.2,1117.8 1811.0,1117.8C1813.8,1117.8 1816.6,1116.5 1819.4,1116.4C1822.7,1116.3 1826.3,1116.1 1829.2,1117.3C1831.9,1118.5 1834.1,1121.2 1836.2,1123.5C1839.3,1127.0 1841.6,1131.2 1844.6,1134.7C1847.2,1137.7 1849.8,1141.2 1853.0,1143.1C1854.9,1144.2 1857.8,1144.3 1860.0,1143.9C1862.9,1143.4 1865.9,1142.0 1868.4,1140.3C1871.1,1138.5 1873.4,1135.9 1875.4,1133.3C1878.5,1129.2 1880.8,1124.4 1883.5,1120.0" fill="none" stroke="#000" stroke-width="4.7" stroke-linejoin="round" stroke-linecap="butt" />
<path d="M202.0,1281.3C581.3,1281.5 960.7,1281.8 1340.0,1281.8C1383.0,1281.8 1426.0,1280.9 1468.9,1281.3C1471.8,1281.3 1475.0,1281.7 1477.4,1283.2C1480.7,1285.2 1483.0,1288.8 1485.8,1291.6C1489.5,1295.4 1492.9,1299.6 1497.0,1302.9C1500.3,1305.5 1504.4,1307.2 1508.2,1309.3C1512.8,1311.9 1517.7,1314.1 1522.2,1316.9C1526.1,1319.4 1529.8,1322.4 1533.4,1325.3C1537.2,1328.4 1540.7,1332.1 1544.6,1335.1C1546.7,1336.8 1549.1,1338.2 1551.6,1339.3C1553.4,1340.1 1555.5,1341.1 1557.3,1340.7C1559.8,1340.2 1562.3,1338.3 1564.3,1336.5C1568.4,1332.7 1572.1,1328.4 1575.5,1323.9C1579.6,1318.6 1582.9,1312.6 1586.7,1307.1C1590.3,1301.9 1593.9,1296.5 1597.9,1291.6C1600.0,1289.0 1602.1,1286.1 1604.9,1284.6C1607.7,1283.1 1611.4,1282.8 1614.7,1282.4C1622.1,1281.4 1629.6,1280.7 1637.1,1280.4C1645.5,1280.0 1654.1,1279.7 1662.4,1280.4C1665.3,1280.6 1668.0,1282.2 1670.8,1283.2C1674.1,1284.4 1677.2,1286.2 1680.6,1286.9C1684.7,1287.8 1689.1,1288.3 1693.2,1288.0C1697.0,1287.7 1700.8,1286.4 1704.4,1285.2C1707.3,1284.2 1709.8,1281.8 1712.8,1281.3C1719.2,1280.2 1725.9,1280.4 1732.5,1280.4C1751.2,1280.3 1769.8,1280.7 1788.5,1281.0C1797.9,1281.2 1807.2,1281.3 1816.6,1281.8C1820.8,1282.0 1825.8,1281.4 1829.2,1283.2C1831.9,1284.6 1833.2,1288.7 1834.8,1291.6C1837.4,1296.2 1839.0,1301.3 1841.8,1305.7C1843.2,1307.9 1845.2,1310.2 1847.4,1311.3C1848.9,1312.1 1851.5,1312.1 1853.0,1311.3C1855.2,1310.2 1856.9,1307.7 1858.6,1305.7C1861.6,1302.1 1864.1,1298.1 1867.0,1294.5C1869.7,1291.1 1872.1,1287.2 1875.4,1284.6C1877.6,1282.8 1880.8,1282.4 1883.5,1281.3" fill="none" stroke="#FF00FF" stroke-width="4.7" stroke-linejoin="round" stroke-linecap="butt" />
<rect x="202.6" y="86.0" width="1681.0" height="1352.0" fill="none" stroke="#000" stroke-width="6"/>
<line x1="202.2" y1="1438.0" x2="202.2" y2="1465" stroke="#000" stroke-width="6"/>
<text transform="translate(202.2,1528.0) scale(1,1.04)" font-family="Liberation Sans" font-size="58" text-anchor="middle" >4000</text>
<line x1="435.9" y1="1438.0" x2="435.9" y2="1465" stroke="#000" stroke-width="6"/>
<text transform="translate(435.9,1528.0) scale(1,1.04)" font-family="Liberation Sans" font-size="58" text-anchor="middle" >3500</text>
<line x1="669.5" y1="1438.0" x2="669.5" y2="1465" stroke="#000" stroke-width="6"/>
<text transform="translate(669.5,1528.0) scale(1,1.04)" font-family="Liberation Sans" font-size="58" text-anchor="middle" >3000</text>
<line x1="903.2" y1="1438.0" x2="903.2" y2="1465" stroke="#000" stroke-width="6"/>
<text transform="translate(903.2,1528.0) scale(1,1.04)" font-family="Liberation Sans" font-size="58" text-anchor="middle" >2500</text>
<line x1="1136.8" y1="1438.0" x2="1136.8" y2="1465" stroke="#000" stroke-width="6"/>
<text transform="translate(1136.8,1528.0) scale(1,1.04)" font-family="Liberation Sans" font-size="58" text-anchor="middle" >2000</text>
<line x1="1370.5" y1="1438.0" x2="1370.5" y2="1465" stroke="#000" stroke-width="6"/>
<text transform="translate(1370.5,1528.0) scale(1,1.04)" font-family="Liberation Sans" font-size="58" text-anchor="middle" >1500</text>
<line x1="1604.1" y1="1438.0" x2="1604.1" y2="1465" stroke="#000" stroke-width="6"/>
<text transform="translate(1604.1,1528.0) scale(1,1.04)" font-family="Liberation Sans" font-size="58" text-anchor="middle" >1000</text>
<line x1="1837.8" y1="1438.0" x2="1837.8" y2="1465" stroke="#000" stroke-width="6"/>
<text transform="translate(1837.8,1528.0) scale(1,1.04)" font-family="Liberation Sans" font-size="58" text-anchor="middle" >500</text>
<line x1="319.0" y1="1438.0" x2="319.0" y2="1451" stroke="#000" stroke-width="6"/>
<line x1="552.7" y1="1438.0" x2="552.7" y2="1451" stroke="#000" stroke-width="6"/>
<line x1="786.3" y1="1438.0" x2="786.3" y2="1451" stroke="#000" stroke-width="6"/>
<line x1="1020.0" y1="1438.0" x2="1020.0" y2="1451" stroke="#000" stroke-width="6"/>
<line x1="1253.6" y1="1438.0" x2="1253.6" y2="1451" stroke="#000" stroke-width="6"/>
<line x1="1487.3" y1="1438.0" x2="1487.3" y2="1451" stroke="#000" stroke-width="6"/>
<line x1="1720.9" y1="1438.0" x2="1720.9" y2="1451" stroke="#000" stroke-width="6"/>
<text transform="translate(438.5,62.8) scale(1,1.04)" font-family="Liberation Sans" font-size="39.2" text-anchor="middle" >3500</text>
<text transform="translate(668.0,65.9) scale(1,1.04)" font-family="Liberation Sans" font-size="39.2" text-anchor="middle" >2950</text>
<text transform="translate(765.7,68.3) scale(1,1.04)" font-family="Liberation Sans" font-size="39.2" text-anchor="middle" >2850</text>
<text transform="translate(1257.7,68.9) scale(1,1.04)" font-family="Liberation Sans" font-size="39.2" text-anchor="middle" >1730</text>
<text transform="translate(1404.7,69.5) scale(1,1.04)" font-family="Liberation Sans" font-size="39.2" text-anchor="middle" >1400</text>
<text transform="translate(1549.0,67.4) scale(1,1.04)" font-family="Liberation Sans" font-size="39.2" text-anchor="middle" >1100</text>
<text transform="translate(1644.5,65.9) scale(1,1.04)" font-family="Liberation Sans" font-size="39.2" text-anchor="middle" >900</text>
<text transform="translate(1851.7,69.0) scale(1,1.04)" font-family="Liberation Sans" font-size="39.2" text-anchor="middle" >450</text>
<text transform="translate(258.0,206.0) scale(1,1.04)" font-family="Liberation Sans" font-size="51.6" text-anchor="start" >3GO</text>
<text transform="translate(241.0,386.7) scale(1,1.04)" font-family="Liberation Sans" font-size="51.6" text-anchor="start" >u-PVB</text>
<text transform="translate(234.0,543.8) scale(1,1.04)" font-family="Liberation Sans" font-size="51.6" text-anchor="start" >PVBR-B</text>
<text transform="translate(223.0,762.8) scale(1,1.04)" font-family="Liberation Sans" font-size="51.6" text-anchor="start" >GF-C</text>
<text transform="translate(226.0,935.2) scale(1,1.04)" font-family="Liberation Sans" font-size="51.6" text-anchor="start" >GF-E</text>
<text transform="translate(227.0,1076.8) scale(1,1.04)" font-family="Liberation Sans" font-size="51.6" text-anchor="start" >G-Fiber</text>
<text transform="translate(231.0,1255.6) scale(1,1.04)" font-family="Liberation Sans" font-size="51.6" text-anchor="start" >F-Silica</text>
<text transform="translate(706.3,1651.0) scale(1,1.04)" font-family="Liberation Sans" font-size="77" text-anchor="start" >Wavenumber (cm</text>
<text transform="translate(1308.7,1620.6) scale(1,1.04)" font-family="Liberation Sans" font-size="54.0" text-anchor="start" >−1</text>
<text transform="translate(1371.1,1651.0) scale(1,1.04)" font-family="Liberation Sans" font-size="77" text-anchor="start" >)</text>
<text transform="translate(94.0,717.0) rotate(-90) scale(1,1.04)" font-family="Liberation Sans" font-size="74.6" text-anchor="middle">Transmittance (a.u.)</text>
<text x="954.7" y="1775.7" font-family="Liberation Serif" font-size="76" letter-spacing="-1.5" text-anchor="middle">(<tspan font-weight="bold">a</tspan>)</text>
<line x1="3482.3" y1="109.8" x2="3482.3" y2="1425.5" stroke="#000" stroke-width="5.5" stroke-dasharray="23 22.1" stroke-dashoffset="14.8"/>
<line x1="3778.0" y1="109.8" x2="3778.0" y2="1425.5" stroke="#000" stroke-width="5.5" stroke-dasharray="23 22.1" stroke-dashoffset="14.8"/>
<path d="M2163.8,294.2C2224.4,294.2 2285.1,293.4 2345.7,294.2C2349.9,294.3 2354.0,295.5 2358.0,296.7C2362.2,298.0 2366.0,300.4 2370.2,301.9C2374.2,303.3 2378.2,304.9 2382.4,305.5C2388.4,306.4 2394.7,306.6 2400.8,306.5C2408.9,306.4 2417.1,305.8 2425.2,304.9C2435.4,303.7 2445.6,301.6 2455.8,300.3C2466.0,299.0 2476.2,298.2 2486.4,297.3C2496.6,296.4 2506.8,295.6 2517.0,295.1C2527.2,294.6 2537.4,294.4 2547.6,294.2C2568.0,293.9 2588.4,293.3 2608.7,293.6C2611.8,293.6 2615.3,293.7 2617.9,295.1C2620.4,296.5 2622.9,299.2 2624.0,301.9C2626.5,308.0 2627.6,315.0 2628.6,321.7C2630.1,331.8 2630.6,342.1 2631.7,352.3C2632.6,360.5 2633.6,368.6 2634.7,376.8C2635.3,381.4 2635.6,387.2 2636.9,390.6C2637.2,391.3 2638.6,389.6 2639.3,389.0C2640.1,388.3 2640.8,386.3 2641.4,386.6C2642.6,387.1 2643.6,389.9 2644.8,391.5C2646.2,393.3 2647.4,395.2 2649.1,396.7C2650.5,398.0 2652.9,400.3 2654.0,399.7C2655.5,398.8 2656.4,394.7 2657.0,392.1C2658.4,386.1 2659.1,379.8 2660.1,373.7C2661.3,366.6 2662.2,359.3 2663.8,352.3C2664.6,348.6 2665.8,343.4 2667.4,341.6C2668.0,340.9 2670.1,343.3 2670.5,344.7C2672.1,350.0 2672.4,355.9 2673.5,361.5C2674.5,366.6 2675.1,375.2 2676.6,376.8C2677.4,377.7 2679.2,371.6 2680.6,369.1C2682.1,366.5 2684.3,364.3 2685.2,361.5C2686.8,356.6 2687.1,351.3 2688.2,346.2C2689.7,339.1 2690.7,331.7 2692.8,324.8C2694.3,320.0 2696.2,315.2 2698.9,311.0C2700.8,308.0 2703.8,305.7 2706.6,303.4C2709.4,301.1 2712.5,299.0 2715.7,297.3C2718.6,295.7 2721.7,293.7 2724.9,293.6C2728.9,293.5 2733.1,296.3 2737.2,296.5C2740.6,296.7 2744.1,295.2 2747.5,294.8C2751.6,294.3 2755.7,293.6 2759.8,293.6C2769.0,293.6 2778.1,294.7 2787.3,294.8C2797.5,294.9 2807.7,294.3 2817.9,294.2C2846.4,294.1 2875.0,294.1 2903.5,294.2C2933.6,294.4 2964.1,293.7 2993.7,295.1C2995.4,295.2 2996.2,298.9 2997.4,298.8C2998.8,298.6 2999.4,294.4 3001.3,294.2C3008.9,293.2 3017.6,295.0 3025.8,295.1C3046.2,295.2 3066.6,295.0 3087.0,294.8C3112.5,294.5 3137.9,293.8 3163.4,293.6C3168.5,293.6 3173.8,293.3 3178.7,294.2C3180.5,294.5 3182.4,295.8 3183.3,297.3C3184.9,299.9 3185.9,303.3 3186.4,306.5C3187.9,316.5 3188.5,326.8 3189.4,337.0C3190.5,349.2 3191.4,361.5 3192.5,373.7C3193.3,382.7 3194.0,400.1 3194.9,400.6C3195.7,401.1 3196.8,384.7 3197.7,376.8C3199.1,364.6 3200.0,352.3 3201.7,340.1C3202.9,331.4 3204.2,322.6 3206.2,314.1C3207.2,309.9 3208.6,305.5 3210.8,301.9C3212.2,299.7 3214.4,297.3 3216.9,296.7C3222.1,295.5 3228.2,297.0 3233.8,296.7C3240.9,296.3 3248.1,295.2 3255.2,294.8C3265.4,294.2 3275.5,293.9 3285.7,293.6C3290.3,293.5 3295.0,293.0 3299.5,293.6C3302.1,294.0 3304.7,295.2 3306.8,296.6C3308.2,297.4 3309.5,298.8 3310.1,300.2C3311.2,302.9 3311.5,306.1 3311.9,309.0C3312.6,314.4 3312.8,319.9 3313.3,325.3C3313.7,330.3 3313.9,335.3 3314.6,340.2C3315.0,342.7 3315.7,345.3 3316.5,347.7C3317.0,349.3 3318.1,352.4 3318.8,352.1C3319.6,351.9 3320.4,348.2 3321.1,346.2C3321.9,343.9 3322.2,341.2 3323.3,339.3C3323.7,338.7 3325.3,338.2 3325.6,338.7C3326.8,340.5 3327.1,343.7 3327.9,346.2C3328.6,348.2 3329.3,352.4 3329.9,352.1C3330.7,351.9 3331.4,347.2 3332.0,344.7C3332.9,341.2 3333.4,337.7 3334.3,334.3C3334.6,333.3 3335.1,331.5 3335.7,331.4C3336.2,331.3 3336.7,333.2 3337.5,333.7C3338.3,334.2 3339.7,334.8 3340.3,334.3C3341.5,333.0 3341.9,330.2 3343.0,328.4C3343.6,327.3 3344.7,325.0 3345.3,325.3C3346.3,326.0 3347.0,329.3 3347.6,331.4C3348.5,334.8 3349.2,338.3 3349.9,341.8C3350.6,345.7 3351.1,349.7 3351.7,353.6C3352.4,358.1 3352.6,362.6 3353.5,367.0C3353.8,368.5 3354.9,371.8 3355.4,371.4C3356.1,370.8 3356.8,366.5 3357.2,364.0C3357.9,359.6 3358.0,355.0 3358.6,350.6C3359.0,346.9 3359.4,343.0 3360.4,339.6C3360.6,338.9 3361.7,337.9 3362.2,338.2C3363.2,338.6 3364.1,340.5 3365.0,341.8C3366.3,343.7 3367.4,345.7 3368.6,347.7C3369.6,349.2 3370.7,352.4 3371.4,352.1C3372.2,351.9 3372.8,348.2 3373.2,346.2C3374.2,341.8 3374.4,337.2 3375.5,332.8C3375.9,331.2 3376.7,329.4 3377.8,328.4C3378.5,327.7 3380.3,328.5 3381.0,327.8C3382.3,326.5 3382.8,324.2 3383.7,322.4C3384.5,320.9 3384.9,318.9 3386.0,318.0C3386.9,317.3 3388.5,317.5 3389.7,317.4C3390.9,317.3 3392.2,317.7 3393.3,317.4C3394.5,317.1 3395.5,315.6 3396.5,315.6C3397.6,315.6 3398.9,316.6 3399.7,317.4C3400.9,318.5 3401.8,320.1 3402.5,321.6C3403.9,324.5 3404.6,328.0 3406.2,330.8C3406.9,332.0 3408.7,332.5 3409.4,333.7C3410.8,336.1 3411.5,339.1 3412.6,341.8C3413.7,344.7 3414.5,347.8 3415.8,350.6C3416.4,351.9 3417.6,354.4 3418.2,354.2C3419.1,353.9 3419.9,350.9 3420.4,349.1C3421.4,345.3 3421.7,341.2 3422.6,337.3C3423.5,333.3 3424.6,329.3 3425.8,325.3C3426.5,323.3 3427.0,321.1 3428.1,319.4C3428.7,318.6 3430.0,318.5 3430.9,318.0C3432.1,317.2 3433.2,316.2 3434.5,315.6C3435.5,315.2 3436.9,314.6 3437.7,315.0C3438.7,315.4 3439.6,316.8 3440.0,318.0C3441.1,321.3 3441.8,324.9 3442.3,328.4C3443.3,334.8 3443.9,341.2 3444.6,347.7C3445.3,354.6 3445.8,361.5 3446.4,368.5C3447.0,374.9 3447.5,381.4 3448.2,387.8C3448.7,391.8 3449.1,395.8 3450.1,399.6C3450.7,402.2 3451.7,404.7 3452.8,407.0C3453.6,408.6 3455.5,409.8 3456.0,411.5C3457.2,415.2 3457.4,419.4 3457.8,423.4C3458.6,429.3 3459.1,435.3 3459.7,441.2C3460.5,448.6 3461.1,456.0 3462.0,463.4C3462.7,469.4 3463.3,475.4 3464.3,481.3C3464.8,484.8 3465.5,488.3 3466.6,491.7C3466.9,492.8 3467.7,494.5 3468.4,494.7C3468.9,494.8 3469.8,493.4 3470.2,492.6C3471.2,490.4 3471.6,488.0 3472.5,485.8C3473.0,484.7 3473.8,482.6 3474.3,482.7C3475.0,482.9 3475.7,485.3 3476.3,486.6C3477.1,488.8 3477.4,491.5 3478.6,493.2C3478.9,493.8 3480.5,494.0 3480.9,493.5C3481.8,492.3 3482.3,490.0 3482.7,488.2C3483.6,484.3 3484.4,480.3 3485.0,476.2C3485.8,469.9 3486.3,463.4 3486.8,457.0C3487.5,448.1 3488.0,439.1 3488.6,430.2C3489.2,422.3 3489.7,414.4 3490.5,406.5C3490.9,401.6 3491.5,396.6 3492.3,391.7C3492.9,387.7 3493.5,383.6 3494.6,379.7C3495.0,378.2 3495.9,376.0 3496.9,375.4C3497.3,375.0 3498.4,376.1 3498.7,376.8C3499.6,379.1 3499.9,381.7 3500.5,384.2C3501.2,386.9 3501.3,390.2 3502.3,392.3C3502.6,392.8 3504.3,392.8 3504.6,392.3C3505.8,390.1 3506.1,386.9 3506.9,384.2C3508.1,380.2 3509.4,376.3 3510.6,372.3C3511.6,368.9 3512.5,365.3 3513.8,362.0C3514.3,360.6 3515.2,358.9 3516.1,358.4C3516.5,358.1 3517.7,358.9 3517.9,359.5C3518.9,362.5 3519.4,366.0 3519.7,369.3C3520.6,376.7 3521.0,384.2 3521.6,391.7C3522.2,400.6 3522.7,409.5 3523.4,418.4C3523.9,424.3 3524.5,430.2 3525.2,436.1C3525.7,440.1 3526.2,444.2 3527.1,448.1C3527.4,449.9 3528.2,453.1 3528.9,453.4C3529.4,453.6 3530.2,450.9 3530.7,449.5C3531.8,446.6 3532.4,443.5 3533.5,440.6C3534.1,438.8 3534.7,436.8 3535.7,435.3C3536.2,434.6 3537.5,433.8 3538.0,434.1C3539.0,434.6 3539.4,436.7 3540.3,437.7C3540.8,438.2 3541.8,439.0 3542.2,438.6C3543.1,437.5 3543.7,435.1 3544.0,433.2C3544.9,427.3 3545.3,421.3 3545.8,415.4C3546.5,407.5 3547.0,399.6 3547.6,391.7C3548.2,384.2 3548.7,376.8 3549.5,369.3C3549.9,364.9 3550.5,360.4 3551.3,356.0C3551.9,352.5 3552.7,349.1 3553.6,345.6C3554.4,342.6 3555.4,339.7 3556.4,336.7C3557.4,333.2 3558.0,329.2 3559.6,326.3C3560.0,325.6 3561.7,325.2 3562.3,325.7C3563.4,326.7 3564.0,329.0 3564.6,330.8C3565.3,332.9 3565.6,335.2 3566.4,337.3C3566.8,338.2 3567.6,340.0 3568.1,339.7C3568.7,339.3 3569.2,336.8 3569.6,335.3C3570.2,332.8 3570.3,330.2 3571.0,327.8C3571.2,327.0 3571.9,325.7 3572.4,325.7C3572.9,325.7 3573.6,327.1 3574.2,327.8C3574.8,328.6 3575.6,330.4 3576.0,330.2C3576.6,329.9 3576.8,327.5 3577.4,326.3C3577.8,325.4 3578.5,324.1 3579.2,323.9C3579.8,323.8 3580.5,324.9 3581.0,325.4C3581.8,326.2 3582.4,327.5 3583.3,327.8C3584.3,328.0 3585.5,327.2 3586.6,326.9C3587.8,326.5 3589.3,326.5 3590.2,325.7C3591.6,324.6 3592.1,322.4 3593.4,321.0C3594.3,320.1 3595.4,319.1 3596.6,318.8C3597.7,318.6 3599.4,318.8 3600.3,319.5C3601.4,320.5 3601.8,322.4 3602.6,323.9C3603.5,325.7 3604.0,328.0 3605.3,329.3C3606.1,330.1 3608.2,329.4 3609.0,330.2C3610.1,331.4 3610.5,333.6 3611.2,335.3C3612.2,337.5 3613.1,341.8 3614.0,342.1C3614.7,342.3 3615.8,338.6 3616.3,336.7C3617.4,332.3 3617.8,327.8 3618.6,323.3C3619.5,317.9 3620.2,312.4 3621.3,307.0C3622.0,303.8 3622.8,300.5 3624.1,297.5C3624.6,296.2 3625.7,295.0 3626.8,294.3C3627.7,293.7 3628.9,293.6 3630.0,293.7C3631.1,293.7 3632.5,293.8 3633.2,294.6C3634.5,295.9 3634.7,298.6 3636.1,299.7C3637.2,300.6 3639.5,299.7 3640.7,300.6C3641.9,301.5 3642.2,304.2 3643.4,305.1C3643.9,305.5 3645.2,305.0 3645.7,304.5C3646.7,303.3 3646.8,301.0 3648.0,300.0C3648.8,299.2 3650.7,299.9 3651.6,299.1C3653.2,297.8 3653.7,294.9 3655.3,293.8C3656.4,293.0 3658.3,293.2 3659.9,293.2C3661.1,293.2 3662.7,293.1 3663.5,293.8C3664.7,294.8 3664.8,297.2 3665.8,298.5C3666.6,299.5 3668.0,300.6 3669.0,300.6C3670.1,300.5 3671.0,298.8 3672.2,298.3C3673.3,297.8 3674.9,298.3 3675.9,297.7C3677.2,296.8 3677.6,294.3 3679.1,293.8C3681.7,293.0 3685.2,293.8 3688.2,293.8C3692.7,293.8 3697.3,293.2 3701.5,293.8C3702.5,293.9 3702.9,295.5 3703.8,296.1C3705.0,297.0 3706.4,298.0 3707.9,298.3C3710.7,298.8 3713.8,298.1 3716.6,298.5C3718.2,298.8 3719.7,299.9 3721.2,300.6C3722.7,301.3 3724.4,301.7 3725.8,302.6C3727.2,303.6 3728.0,305.6 3729.4,306.5C3730.4,307.2 3732.1,306.7 3733.1,307.4C3734.3,308.2 3735.1,310.9 3736.3,311.0C3737.3,311.1 3738.2,308.5 3739.5,308.1C3741.4,307.5 3744.1,307.3 3745.9,308.1C3747.5,308.8 3748.3,311.0 3749.5,312.4C3750.7,313.8 3751.8,315.4 3753.2,316.3C3754.1,316.9 3755.6,317.3 3756.4,316.9C3757.7,316.3 3758.3,313.7 3759.6,313.1C3760.7,312.6 3762.4,313.0 3763.7,313.4C3765.2,313.8 3766.5,314.8 3767.8,315.4C3769.3,316.2 3771.2,316.5 3772.4,317.5C3773.6,318.4 3773.9,320.7 3775.2,321.4C3776.6,322.2 3778.8,321.8 3780.7,322.0C3782.2,322.0 3783.9,322.4 3785.2,322.0C3786.3,321.6 3787.4,320.4 3788.0,319.3C3789.3,316.8 3789.5,313.6 3790.7,311.0C3791.5,309.3 3793.1,308.1 3793.9,306.5C3795.2,304.2 3795.7,301.3 3797.1,299.1C3797.9,297.9 3799.4,297.1 3800.6,296.1" fill="none" stroke="#008000" stroke-width="4.7" stroke-linejoin="round" stroke-linecap="butt" />
<path d="M2163.8,518.9C2224.4,518.9 2285.1,518.1 2345.7,518.9C2349.9,519.0 2354.0,520.2 2358.0,521.4C2362.2,522.7 2366.0,525.1 2370.2,526.6C2374.2,528.0 2378.2,529.6 2382.4,530.2C2388.4,531.1 2394.7,531.3 2400.8,531.2C2408.9,531.1 2417.1,530.5 2425.2,529.6C2435.4,528.4 2445.6,526.3 2455.8,525.0C2466.0,523.7 2476.2,522.9 2486.4,522.0C2496.6,521.1 2506.8,520.3 2517.0,519.8C2527.2,519.3 2537.4,519.1 2547.6,518.9C2568.0,518.6 2588.4,518.0 2608.7,518.3C2611.8,518.3 2615.3,518.4 2617.9,519.8C2620.4,521.2 2622.9,523.9 2624.0,526.6C2626.5,532.7 2627.6,539.7 2628.6,546.4C2630.1,556.5 2630.6,566.8 2631.7,577.0C2632.7,586.2 2633.6,595.5 2634.7,604.7C2635.3,609.4 2635.4,615.6 2636.8,618.6C2637.2,619.4 2638.8,616.8 2640.0,616.2C2641.0,615.8 2642.1,615.6 2643.2,615.6C2645.3,615.7 2647.8,617.0 2649.6,616.5C2651.0,616.1 2652.3,614.2 2653.0,612.7C2654.4,609.9 2655.2,606.8 2656.0,603.7C2657.4,598.1 2658.3,592.4 2659.5,586.7C2660.4,582.4 2661.3,578.1 2662.4,573.8C2663.2,570.7 2663.8,567.6 2665.0,564.7C2665.6,563.3 2667.0,560.8 2667.9,561.0C2668.9,561.2 2670.1,564.0 2670.5,565.7C2672.0,572.4 2672.3,579.4 2673.5,586.2C2674.4,591.3 2675.1,599.9 2676.6,601.5C2677.4,602.4 2679.2,596.3 2680.6,593.8C2682.1,591.2 2684.3,589.0 2685.2,586.2C2686.8,581.3 2687.1,576.0 2688.2,570.9C2689.7,563.8 2690.7,556.4 2692.8,549.5C2694.3,544.7 2696.2,539.9 2698.9,535.7C2700.8,532.7 2703.8,530.4 2706.6,528.1C2709.4,525.8 2712.5,523.7 2715.7,522.0C2718.6,520.4 2721.7,518.4 2724.9,518.3C2728.9,518.2 2733.1,521.0 2737.2,521.2C2740.6,521.4 2744.1,519.9 2747.5,519.5C2751.6,519.0 2755.7,518.3 2759.8,518.3C2769.0,518.3 2778.1,519.4 2787.3,519.5C2797.5,519.6 2807.7,519.0 2817.9,518.9C2846.4,518.8 2875.0,518.8 2903.5,518.9C2933.6,519.1 2964.1,518.4 2993.7,519.8C2995.4,519.9 2996.2,523.6 2997.4,523.5C2998.8,523.3 2999.4,519.1 3001.3,518.9C3008.9,517.9 3017.6,519.7 3025.8,519.8C3046.2,519.9 3066.6,519.7 3087.0,519.5C3112.5,519.2 3137.9,518.5 3163.4,518.3C3168.5,518.3 3173.8,518.0 3178.7,518.9C3180.5,519.2 3182.4,520.5 3183.3,522.0C3184.9,524.6 3185.9,528.0 3186.4,531.2C3187.9,541.2 3188.5,551.5 3189.4,561.7C3190.5,573.9 3191.4,586.2 3192.5,598.4C3193.3,607.4 3194.0,624.8 3194.9,625.3C3195.7,625.8 3196.8,609.4 3197.7,601.5C3199.1,589.3 3200.0,577.0 3201.7,564.8C3202.9,556.1 3204.2,547.3 3206.2,538.8C3207.2,534.6 3208.6,530.2 3210.8,526.6C3212.2,524.4 3214.4,522.0 3216.9,521.4C3222.1,520.2 3228.2,521.7 3233.8,521.4C3240.9,521.0 3248.1,519.9 3255.2,519.5C3265.4,518.9 3275.5,518.6 3285.7,518.3C3290.3,518.2 3295.0,517.8 3299.5,518.3C3302.0,518.6 3304.6,519.5 3306.8,520.6C3308.2,521.3 3309.5,522.5 3310.1,523.9C3311.2,526.5 3311.5,529.6 3311.9,532.5C3312.6,537.9 3312.8,543.3 3313.3,548.7C3313.7,553.6 3313.9,558.5 3314.6,563.4C3315.0,565.9 3315.6,568.3 3316.5,570.7C3317.0,572.2 3318.1,575.1 3318.8,574.9C3319.6,574.6 3320.4,571.0 3321.1,569.0C3321.9,566.8 3322.2,564.0 3323.3,562.2C3323.7,561.6 3325.3,561.1 3325.6,561.6C3326.8,563.4 3327.1,566.7 3327.9,569.2C3328.6,571.1 3329.3,575.3 3329.9,575.1C3330.7,574.8 3331.4,570.2 3332.0,567.7C3332.9,564.2 3333.4,560.7 3334.3,557.3C3334.6,556.3 3335.1,554.5 3335.7,554.4C3336.2,554.4 3336.7,556.3 3337.5,556.8C3338.3,557.3 3339.7,558.0 3340.3,557.4C3341.5,556.2 3341.9,553.4 3343.0,551.6C3343.6,550.5 3344.7,548.2 3345.3,548.6C3346.3,549.3 3347.0,552.6 3347.6,554.7C3348.5,558.1 3349.2,561.6 3349.9,565.1C3350.6,569.0 3351.1,573.0 3351.7,577.0C3352.4,581.4 3352.6,586.0 3353.5,590.4C3353.8,592.0 3354.9,595.2 3355.4,594.8C3356.1,594.2 3356.8,589.9 3357.2,587.4C3357.9,583.0 3358.0,578.4 3358.6,574.0C3359.0,570.3 3359.4,566.4 3360.4,563.0C3360.6,562.3 3361.7,561.3 3362.2,561.5C3363.2,562.0 3364.1,563.8 3365.0,565.1C3366.3,567.0 3367.4,569.0 3368.6,571.0C3369.6,572.4 3370.7,575.6 3371.4,575.4C3372.2,575.1 3372.8,571.5 3373.2,569.5C3374.2,565.0 3374.4,560.4 3375.5,556.0C3375.9,554.4 3376.7,552.6 3377.8,551.5C3378.5,550.9 3380.3,551.6 3381.0,550.9C3382.3,549.6 3382.8,547.3 3383.7,545.5C3384.5,544.0 3384.9,542.0 3386.0,541.0C3386.9,540.3 3388.5,540.5 3389.7,540.4C3390.9,540.3 3392.2,540.7 3393.3,540.4C3394.5,540.1 3395.5,538.5 3396.5,538.6C3397.6,538.7 3398.9,539.8 3399.7,540.8C3400.9,542.1 3401.8,543.8 3402.5,545.4C3403.9,548.5 3404.6,552.1 3406.2,555.1C3406.9,556.5 3408.7,557.3 3409.4,558.7C3410.8,561.7 3411.5,565.1 3412.6,568.3C3413.7,571.7 3414.5,575.2 3415.8,578.6C3416.4,580.2 3417.5,583.4 3418.2,583.2C3419.1,583.0 3419.9,579.3 3420.4,577.3C3421.3,573.1 3421.7,568.7 3422.6,564.5C3423.6,560.1 3424.6,555.6 3425.8,551.2C3426.5,548.9 3427.0,546.3 3428.1,544.3C3428.6,543.5 3430.0,543.2 3430.9,542.7C3432.1,541.9 3433.2,540.9 3434.5,540.3C3435.5,539.9 3436.9,539.3 3437.7,539.7C3438.7,540.1 3439.6,541.5 3440.0,542.7C3441.1,546.0 3441.8,549.6 3442.3,553.1C3443.3,559.5 3443.9,565.9 3444.6,572.4C3445.3,579.3 3445.8,586.2 3446.4,593.2C3447.0,599.6 3447.5,606.1 3448.2,612.5C3448.7,616.5 3449.1,620.5 3450.1,624.3C3450.7,626.9 3451.7,629.4 3452.8,631.7C3453.6,633.3 3455.5,634.5 3456.0,636.2C3457.2,639.9 3457.4,644.1 3457.8,648.1C3458.6,654.0 3459.1,660.0 3459.7,665.9C3460.5,673.3 3461.1,680.7 3462.0,688.1C3462.7,694.1 3463.3,700.1 3464.3,706.0C3464.8,709.5 3465.5,713.0 3466.6,716.4C3466.9,717.5 3467.7,719.2 3468.4,719.4C3468.9,719.5 3469.8,718.1 3470.2,717.3C3471.2,715.2 3471.6,712.7 3472.5,710.6C3473.0,709.5 3473.8,707.5 3474.3,707.6C3475.0,707.8 3475.7,710.2 3476.3,711.5C3477.1,713.7 3477.4,716.4 3478.6,718.2C3478.9,718.8 3480.5,719.0 3480.9,718.6C3481.8,717.4 3482.3,715.1 3482.7,713.3C3483.6,709.4 3484.4,705.4 3485.0,701.4C3485.8,695.0 3486.3,688.6 3486.8,682.2C3487.5,673.3 3488.0,664.4 3488.6,655.5C3489.2,647.6 3489.7,639.7 3490.5,631.8C3490.9,626.9 3491.5,621.9 3492.3,617.0C3492.9,613.0 3493.5,609.0 3494.6,605.1C3495.0,603.6 3496.0,601.4 3496.9,600.8C3497.3,600.5 3498.4,601.8 3498.7,602.6C3499.6,605.0 3499.9,607.7 3500.5,610.3C3501.2,613.0 3501.3,616.4 3502.3,618.6C3502.6,619.2 3504.3,619.3 3504.6,618.7C3505.8,616.6 3506.1,613.2 3506.9,610.5C3508.1,606.5 3509.4,602.5 3510.6,598.5C3511.6,594.9 3512.5,591.3 3513.8,587.9C3514.3,586.5 3515.2,584.6 3516.1,584.1C3516.6,583.9 3517.7,584.9 3517.9,585.6C3518.9,588.7 3519.4,592.3 3519.7,595.7C3520.6,603.2 3521.0,610.8 3521.6,618.3C3522.2,627.3 3522.7,636.3 3523.4,645.3C3523.9,651.4 3524.5,657.4 3525.2,663.4C3525.7,667.5 3526.2,671.6 3527.1,675.6C3527.5,677.6 3528.2,680.8 3528.9,681.3C3529.4,681.6 3530.2,679.0 3530.7,677.8C3531.8,675.1 3532.4,672.3 3533.5,669.6C3534.1,667.9 3534.7,666.1 3535.7,664.8C3536.2,664.2 3537.5,663.6 3538.0,663.9C3539.0,664.5 3539.4,666.5 3540.3,667.6C3540.8,668.1 3541.8,668.9 3542.2,668.5C3543.1,667.5 3543.7,665.1 3544.0,663.3C3544.9,657.4 3545.3,651.4 3545.8,645.5C3546.5,637.6 3547.0,629.8 3547.6,621.9C3548.2,614.5 3548.7,607.0 3549.5,599.6C3549.9,595.2 3550.5,590.8 3551.3,586.4C3551.9,583.0 3552.7,579.5 3553.6,576.1C3554.4,573.2 3555.4,570.3 3556.4,567.3C3557.4,563.9 3558.0,560.0 3559.6,557.1C3560.0,556.3 3561.7,555.8 3562.3,556.3C3563.4,557.1 3564.0,559.2 3564.6,560.8C3565.4,562.8 3565.6,565.0 3566.4,566.9C3566.8,567.7 3567.7,569.4 3568.1,569.1C3568.7,568.6 3569.2,566.1 3569.6,564.6C3570.2,562.2 3570.3,559.5 3571.0,557.1C3571.2,556.4 3571.8,555.2 3572.4,555.1C3572.9,555.0 3573.6,556.1 3574.2,556.7C3574.8,557.3 3575.6,559.0 3576.0,558.8C3576.7,558.4 3576.8,556.1 3577.4,554.9C3577.8,554.0 3578.5,552.7 3579.2,552.5C3579.7,552.3 3580.5,553.2 3581.0,553.5C3581.8,554.1 3582.5,555.2 3583.3,555.2C3584.4,555.3 3585.5,554.2 3586.6,553.7C3587.8,553.1 3589.3,552.9 3590.2,552.0C3591.6,550.7 3592.1,548.4 3593.4,546.8C3594.3,545.8 3595.4,544.8 3596.6,544.3C3597.7,543.8 3599.3,543.4 3600.3,543.8C3601.3,544.4 3601.8,546.3 3602.6,547.5C3603.5,549.0 3604.1,551.0 3605.3,552.0C3606.2,552.7 3608.2,551.8 3609.0,552.5C3610.2,553.7 3610.5,556.0 3611.2,557.8C3612.2,560.1 3613.0,564.4 3614.0,564.8C3614.7,565.1 3615.8,561.5 3616.3,559.7C3617.4,555.5 3617.8,551.0 3618.6,546.6C3619.5,541.3 3620.2,535.9 3621.3,530.6C3622.0,527.5 3622.8,524.3 3624.1,521.5C3624.6,520.3 3625.7,519.2 3626.8,518.6C3627.7,518.1 3629.0,518.3 3630.0,518.4C3631.1,518.5 3632.5,518.5 3633.2,519.3C3634.5,520.6 3634.7,523.3 3636.1,524.4C3637.2,525.3 3639.5,524.4 3640.7,525.3C3641.9,526.2 3642.2,528.9 3643.4,529.8C3643.9,530.2 3645.2,529.7 3645.7,529.2C3646.7,528.0 3646.8,525.7 3648.0,524.7C3648.8,523.9 3650.7,524.6 3651.6,523.8C3653.2,522.5 3653.7,519.6 3655.3,518.5C3656.4,517.7 3658.3,517.9 3659.9,517.9C3661.1,517.9 3662.7,517.8 3663.5,518.5C3664.7,519.5 3664.8,521.9 3665.8,523.2C3666.6,524.2 3668.0,525.3 3669.0,525.3C3670.1,525.2 3671.0,523.5 3672.2,523.0C3673.3,522.5 3674.9,523.0 3675.9,522.4C3677.2,521.5 3678.0,519.8 3679.1,518.5C3679.1,518.4 3679.1,518.2 3679.3,518.2C3692.9,518.1 3706.8,517.5 3720.5,518.2C3723.8,518.4 3727.3,519.2 3730.2,520.6C3732.4,521.8 3734.0,525.2 3735.8,526.1C3736.4,526.3 3736.9,523.9 3737.4,524.0C3738.2,524.1 3739.0,526.6 3739.9,526.6C3740.9,526.6 3742.0,524.3 3743.1,524.0C3743.9,523.8 3744.9,524.6 3745.5,525.3C3747.1,527.0 3748.2,529.2 3749.6,531.1C3751.1,533.2 3752.5,535.7 3754.4,537.1C3755.2,537.7 3756.9,537.7 3757.7,537.1C3758.8,536.2 3759.0,533.2 3760.1,532.7C3760.9,532.3 3762.1,534.2 3763.3,534.5C3764.8,535.0 3766.9,534.2 3768.2,535.0C3769.8,536.0 3771.0,538.1 3772.2,539.8C3774.0,542.3 3775.0,545.5 3777.1,547.6C3778.2,548.8 3780.6,549.9 3781.9,549.5C3783.3,549.0 3784.2,546.6 3785.1,545.0C3786.6,542.5 3787.7,539.7 3789.2,537.1C3790.2,535.3 3791.6,533.8 3792.4,531.9C3793.7,528.9 3793.9,525.2 3795.6,522.7C3796.6,521.2 3798.9,520.9 3800.6,520.0" fill="none" stroke="#FF8000" stroke-width="4.7" stroke-linejoin="round" stroke-linecap="butt" />
<path d="M2163.8,719.1C2224.4,719.1 2285.1,718.3 2345.7,719.1C2349.9,719.2 2354.0,720.4 2358.0,721.6C2362.2,722.9 2366.0,725.3 2370.2,726.8C2374.2,728.2 2378.2,729.8 2382.4,730.4C2388.4,731.3 2394.7,731.5 2400.8,731.4C2408.9,731.3 2417.1,730.7 2425.2,729.8C2435.4,728.6 2445.6,726.5 2455.8,725.2C2466.0,723.9 2476.2,723.1 2486.4,722.2C2496.6,721.3 2506.8,720.5 2517.0,720.0C2527.2,719.5 2537.4,719.3 2547.6,719.1C2568.0,718.8 2588.4,718.2 2608.7,718.5C2611.8,718.5 2615.3,718.6 2617.9,720.0C2620.4,721.4 2622.9,724.1 2624.0,726.8C2626.5,732.9 2627.6,739.9 2628.6,746.6C2630.1,756.7 2630.6,767.0 2631.7,777.2C2632.7,786.4 2633.6,795.7 2634.7,804.9C2635.3,809.6 2635.4,815.8 2636.8,818.8C2637.2,819.6 2638.8,817.0 2640.0,816.4C2641.0,816.0 2642.1,815.8 2643.2,815.8C2645.3,815.9 2647.8,817.2 2649.6,816.7C2651.0,816.3 2652.3,814.4 2653.0,812.9C2654.4,810.1 2655.2,807.0 2656.0,803.9C2657.4,798.3 2658.3,792.6 2659.5,786.9C2660.4,782.6 2661.3,778.3 2662.4,774.0C2663.2,770.9 2663.8,767.8 2665.0,764.9C2665.6,763.5 2667.0,761.0 2667.9,761.2C2668.9,761.4 2670.1,764.2 2670.5,765.9C2672.0,772.6 2672.3,779.6 2673.5,786.4C2674.4,791.5 2675.1,800.1 2676.6,801.7C2677.4,802.6 2679.2,796.5 2680.6,794.0C2682.1,791.4 2684.3,789.2 2685.2,786.4C2686.8,781.5 2687.1,776.2 2688.2,771.1C2689.7,764.0 2690.7,756.6 2692.8,749.7C2694.3,744.9 2696.2,740.1 2698.9,735.9C2700.8,732.9 2703.8,730.6 2706.6,728.3C2709.4,726.0 2712.5,723.9 2715.7,722.2C2718.6,720.6 2721.7,718.6 2724.9,718.5C2728.9,718.4 2733.1,721.2 2737.2,721.4C2740.6,721.6 2744.1,720.1 2747.5,719.7C2751.6,719.2 2755.7,718.5 2759.8,718.5C2769.0,718.5 2778.1,719.6 2787.3,719.7C2797.5,719.8 2807.7,719.2 2817.9,719.1C2846.4,719.0 2875.0,719.0 2903.5,719.1C2933.6,719.3 2964.1,718.6 2993.7,720.0C2995.4,720.1 2996.2,723.8 2997.4,723.7C2998.8,723.5 2999.4,719.3 3001.3,719.1C3008.9,718.1 3017.6,719.9 3025.8,720.0C3046.2,720.1 3066.6,719.9 3087.0,719.7C3112.5,719.4 3137.9,718.7 3163.4,718.5C3168.5,718.5 3173.8,718.2 3178.7,719.1C3180.5,719.4 3182.4,720.7 3183.3,722.2C3184.9,724.8 3185.9,728.2 3186.4,731.4C3187.9,741.4 3188.5,751.7 3189.4,761.9C3190.5,774.1 3191.4,786.4 3192.5,798.6C3193.3,807.6 3194.0,825.0 3194.9,825.5C3195.7,826.0 3196.8,809.6 3197.7,801.7C3199.1,789.5 3200.0,777.2 3201.7,765.0C3202.9,756.3 3204.2,747.5 3206.2,739.0C3207.2,734.8 3208.6,730.4 3210.8,726.8C3212.2,724.6 3214.4,722.2 3216.9,721.6C3222.1,720.4 3228.2,721.9 3233.8,721.6C3240.9,721.2 3248.1,720.1 3255.2,719.7C3265.4,719.1 3275.5,718.8 3285.7,718.5C3290.3,718.4 3294.9,718.2 3299.5,718.5C3302.0,718.7 3304.6,719.1 3306.8,720.0C3308.1,720.5 3309.5,721.5 3310.1,722.8C3311.2,725.3 3311.5,728.4 3311.9,731.2C3312.6,736.5 3312.8,741.8 3313.3,747.2C3313.7,752.0 3313.9,756.9 3314.6,761.7C3315.0,764.1 3315.6,766.5 3316.5,768.7C3317.0,770.2 3318.1,772.9 3318.8,772.7C3319.6,772.3 3320.4,768.8 3321.1,766.8C3321.9,764.6 3322.2,761.9 3323.3,760.0C3323.7,759.4 3325.3,759.0 3325.6,759.6C3326.8,761.4 3327.1,764.6 3327.9,767.1C3328.6,769.1 3329.3,773.3 3329.9,773.1C3330.7,772.9 3331.4,768.2 3332.0,765.7C3332.9,762.3 3333.4,758.8 3334.3,755.4C3334.6,754.4 3335.1,752.7 3335.7,752.6C3336.2,752.5 3336.7,754.4 3337.5,755.0C3338.3,755.5 3339.7,756.2 3340.3,755.7C3341.5,754.5 3341.9,751.7 3343.0,749.9C3343.6,748.8 3344.7,746.5 3345.3,746.9C3346.3,747.6 3347.0,751.0 3347.6,753.0C3348.5,756.5 3349.2,760.0 3349.9,763.5C3350.6,767.5 3351.1,771.5 3351.7,775.4C3352.4,779.9 3352.6,784.5 3353.5,788.9C3353.8,790.5 3354.9,793.7 3355.4,793.4C3356.1,792.8 3356.8,788.5 3357.2,786.0C3357.9,781.5 3358.0,777.0 3358.6,772.5C3359.0,768.8 3359.4,765.0 3360.4,761.5C3360.6,760.8 3361.7,759.8 3362.2,760.0C3363.2,760.5 3364.1,762.4 3365.0,763.6C3366.3,765.5 3367.4,767.5 3368.6,769.4C3369.6,770.9 3370.7,774.1 3371.4,773.9C3372.2,773.6 3372.8,769.9 3373.2,767.9C3374.2,763.5 3374.4,758.8 3375.5,754.5C3375.9,752.9 3376.7,751.0 3377.8,750.0C3378.5,749.3 3380.3,750.0 3381.0,749.3C3382.3,748.0 3382.8,745.7 3383.7,744.0C3384.5,742.5 3384.9,740.4 3386.0,739.5C3386.9,738.7 3388.5,738.9 3389.7,738.8C3390.9,738.7 3392.2,739.1 3393.3,738.7C3394.5,738.4 3395.5,736.8 3396.5,736.9C3397.6,737.1 3398.9,738.4 3399.7,739.4C3400.9,740.8 3401.8,742.5 3402.5,744.2C3403.9,747.4 3404.6,751.0 3406.2,754.2C3406.9,755.7 3408.7,756.6 3409.4,758.0C3410.8,761.1 3411.5,764.6 3412.6,767.9C3413.7,771.4 3414.5,775.0 3415.8,778.4C3416.4,780.2 3417.5,783.5 3418.2,783.4C3419.0,783.2 3419.9,779.5 3420.4,777.4C3421.3,773.2 3421.7,768.9 3422.6,764.7C3423.6,760.2 3424.6,755.8 3425.8,751.4C3426.5,749.1 3427.0,746.5 3428.1,744.5C3428.7,743.6 3430.0,743.2 3430.9,742.6C3432.1,741.7 3433.2,740.5 3434.5,739.8C3435.5,739.2 3436.9,738.4 3437.7,738.7C3438.7,739.0 3439.6,740.4 3440.0,741.6C3441.1,744.8 3441.8,748.4 3442.3,751.8C3443.3,758.2 3443.9,764.6 3444.6,771.0C3445.3,777.9 3445.8,784.8 3446.4,791.7C3447.0,798.1 3447.5,804.5 3448.2,810.9C3448.7,814.9 3449.1,818.8 3450.1,822.7C3450.7,825.2 3451.6,827.6 3452.8,829.9C3453.6,831.5 3455.5,832.5 3456.0,834.2C3457.2,837.9 3457.4,842.1 3457.8,846.0C3458.6,851.9 3459.1,857.8 3459.7,863.7C3460.5,871.1 3461.1,878.4 3462.0,885.8C3462.7,891.7 3463.3,897.7 3464.3,903.5C3464.8,907.0 3465.5,910.5 3466.6,913.8C3466.9,914.9 3467.7,916.5 3468.4,916.7C3468.9,916.8 3469.8,915.6 3470.2,914.8C3471.2,912.9 3471.6,910.5 3472.5,908.5C3473.0,907.5 3473.8,905.6 3474.3,905.8C3475.1,906.1 3475.7,908.6 3476.3,910.1C3477.1,912.4 3477.4,915.1 3478.6,917.1C3478.9,917.7 3480.4,918.3 3480.9,917.8C3481.8,916.8 3482.3,914.5 3482.7,912.8C3483.6,909.0 3484.4,905.2 3485.0,901.3C3485.8,895.1 3486.3,888.7 3486.8,882.4C3487.5,873.6 3488.0,864.8 3488.6,856.0C3489.2,848.2 3489.7,840.4 3490.5,832.6C3490.9,827.8 3491.5,822.9 3492.3,818.1C3492.9,814.3 3493.5,810.3 3494.6,806.6C3495.0,805.2 3496.0,803.0 3496.9,802.7C3497.4,802.5 3498.4,804.2 3498.7,805.2C3499.6,807.8 3499.9,810.8 3500.5,813.6C3501.2,816.6 3501.3,820.1 3502.3,822.6C3502.6,823.3 3504.3,823.9 3504.6,823.3C3505.8,821.4 3506.1,818.0 3506.9,815.3C3508.1,811.4 3509.4,807.5 3510.6,803.6C3511.6,800.2 3512.5,796.7 3513.8,793.4C3514.3,792.1 3515.2,790.3 3516.1,789.9C3516.6,789.6 3517.7,790.6 3517.9,791.3C3518.9,794.4 3519.4,798.0 3519.7,801.4C3520.6,808.9 3521.0,816.4 3521.6,824.0C3522.2,833.0 3522.7,842.0 3523.4,851.0C3523.9,857.0 3524.5,863.0 3525.2,869.0C3525.7,873.1 3526.2,877.2 3527.1,881.2C3527.5,883.1 3528.1,886.2 3528.9,886.8C3529.3,887.2 3530.2,885.0 3530.7,883.9C3531.8,881.6 3532.4,879.1 3533.5,876.7C3534.1,875.3 3534.8,873.8 3535.7,872.8C3536.3,872.2 3537.4,871.6 3538.0,871.9C3539.0,872.3 3539.4,874.1 3540.3,874.9C3540.8,875.3 3541.9,875.9 3542.2,875.5C3543.1,874.3 3543.7,871.9 3544.0,870.1C3544.9,864.2 3545.3,858.1 3545.8,852.1C3546.5,844.2 3547.0,836.3 3547.6,828.4C3548.2,820.9 3548.7,813.4 3549.5,806.0C3549.9,801.5 3550.5,797.1 3551.3,792.6C3551.9,789.1 3552.7,785.6 3553.6,782.2C3554.4,779.1 3555.4,776.1 3556.4,773.1C3557.4,769.6 3558.0,765.5 3559.6,762.6C3560.0,761.9 3561.7,761.7 3562.3,762.2C3563.4,763.3 3564.0,765.7 3564.6,767.6C3565.3,769.8 3565.6,772.2 3566.4,774.4C3566.8,775.3 3567.7,777.1 3568.1,776.9C3568.7,776.4 3569.2,773.8 3569.6,772.2C3570.2,769.7 3570.3,767.0 3571.0,764.5C3571.2,763.7 3571.8,762.6 3572.4,762.3C3572.8,762.1 3573.6,762.8 3574.2,763.2C3574.9,763.6 3575.6,765.0 3576.0,764.7C3576.7,764.1 3576.8,761.8 3577.4,760.5C3577.9,759.5 3578.5,758.1 3579.2,757.7C3579.7,757.5 3580.5,758.4 3581.0,758.8C3581.8,759.3 3582.6,760.5 3583.3,760.5C3584.4,760.4 3585.5,759.1 3586.6,758.3C3587.8,757.3 3589.3,756.4 3590.2,755.1C3591.6,753.1 3592.2,750.4 3593.4,748.2C3594.3,746.7 3595.3,745.0 3596.6,744.0C3597.5,743.3 3599.3,742.9 3600.3,743.3C3601.3,743.8 3601.8,745.7 3602.6,746.9C3603.5,748.4 3604.1,750.4 3605.3,751.4C3606.2,752.1 3608.2,751.1 3609.0,751.8C3610.2,753.0 3610.5,755.3 3611.2,757.0C3612.2,759.4 3613.0,763.6 3614.0,764.0C3614.7,764.3 3615.8,760.8 3616.3,759.1C3617.4,754.9 3617.8,750.4 3618.6,746.1C3619.5,740.8 3620.2,735.5 3621.3,730.3C3622.0,727.3 3622.8,724.1 3624.1,721.3C3624.6,720.2 3625.7,719.1 3626.8,718.6C3627.7,718.2 3629.0,718.5 3630.0,718.6C3631.1,718.7 3632.5,718.7 3633.2,719.5C3634.5,720.8 3634.7,723.5 3636.1,724.6C3637.2,725.5 3639.5,724.6 3640.7,725.5C3641.9,726.4 3642.2,729.1 3643.4,730.0C3643.9,730.4 3645.2,729.9 3645.7,729.4C3646.7,728.2 3646.8,725.9 3648.0,724.9C3648.8,724.1 3650.7,724.8 3651.6,724.0C3653.2,722.7 3653.7,719.8 3655.3,718.7C3656.4,717.9 3658.3,718.1 3659.9,718.1C3661.1,718.1 3662.7,718.0 3663.5,718.7C3664.7,719.7 3664.8,722.1 3665.8,723.4C3666.6,724.4 3668.0,725.5 3669.0,725.5C3670.1,725.4 3671.0,723.7 3672.2,723.2C3673.3,722.7 3674.9,723.2 3675.9,722.6C3677.2,721.7 3677.8,719.5 3679.1,718.7C3680.0,718.1 3681.3,718.4 3682.5,718.4C3689.8,718.3 3697.1,718.0 3704.3,718.4C3705.2,718.5 3705.9,719.8 3706.7,719.8C3707.8,719.7 3708.8,718.1 3710.0,717.9C3712.3,717.6 3714.9,717.8 3717.2,718.4C3719.0,718.8 3720.4,720.3 3722.1,721.0C3724.2,721.9 3726.5,722.2 3728.5,723.2C3729.8,723.8 3730.6,725.2 3731.8,725.8C3733.2,726.5 3735.0,726.7 3736.6,727.0C3739.6,727.7 3743.0,727.6 3745.5,728.9C3747.6,729.9 3749.2,732.1 3750.4,734.1C3752.2,737.3 3752.7,741.9 3754.4,744.6C3754.8,745.2 3756.2,744.6 3756.9,744.1C3758.1,743.1 3758.8,740.9 3760.1,740.0C3760.9,739.3 3762.5,738.9 3763.3,739.4C3764.6,740.1 3765.2,742.3 3766.5,743.4C3767.7,744.3 3769.4,744.3 3770.6,745.2C3772.1,746.3 3773.2,748.0 3774.6,749.4C3775.9,750.6 3777.2,752.1 3778.7,753.1C3779.9,753.8 3781.6,754.9 3782.7,754.6C3783.8,754.3 3784.5,752.5 3785.1,751.2C3786.4,748.7 3787.3,746.0 3788.4,743.4C3789.4,740.7 3790.3,738.0 3791.6,735.5C3792.4,733.9 3793.9,732.6 3794.8,731.0C3796.0,729.1 3796.7,726.8 3798.1,725.0C3798.7,724.2 3799.8,723.8 3800.6,723.2" fill="none" stroke="#FF0000" stroke-width="4.7" stroke-linejoin="round" stroke-linecap="butt" />
<path d="M2163.8,910.7C2224.4,910.7 2285.1,909.9 2345.7,910.7C2349.9,910.8 2354.0,912.0 2358.0,913.2C2362.2,914.5 2366.0,916.9 2370.2,918.4C2374.2,919.8 2378.2,921.4 2382.4,922.0C2388.4,922.9 2394.7,923.1 2400.8,923.0C2408.9,922.9 2417.1,922.3 2425.2,921.4C2435.4,920.2 2445.6,918.1 2455.8,916.8C2466.0,915.5 2476.2,914.7 2486.4,913.8C2496.6,912.9 2506.8,912.1 2517.0,911.6C2527.2,911.1 2537.4,910.9 2547.6,910.7C2568.0,910.4 2588.4,909.8 2608.7,910.1C2611.8,910.1 2615.3,910.2 2617.9,911.6C2620.4,913.0 2622.9,915.7 2624.0,918.4C2626.5,924.5 2627.6,931.5 2628.6,938.2C2630.1,948.3 2630.6,958.6 2631.7,968.8C2632.7,978.0 2633.6,987.3 2634.7,996.5C2635.3,1001.2 2635.4,1007.4 2636.8,1010.4C2637.2,1011.2 2638.8,1008.6 2640.0,1008.0C2641.0,1007.6 2642.1,1007.4 2643.2,1007.4C2645.3,1007.5 2647.8,1008.8 2649.6,1008.3C2651.0,1007.9 2652.3,1006.0 2653.0,1004.5C2654.4,1001.7 2655.2,998.6 2656.0,995.5C2657.4,989.9 2658.3,984.2 2659.5,978.5C2660.4,974.2 2661.3,969.9 2662.4,965.6C2663.2,962.5 2663.8,959.4 2665.0,956.5C2665.6,955.1 2667.0,952.6 2667.9,952.8C2668.9,953.0 2670.1,955.8 2670.5,957.5C2672.0,964.2 2672.3,971.2 2673.5,978.0C2674.4,983.1 2675.1,991.7 2676.6,993.3C2677.4,994.2 2679.2,988.1 2680.6,985.6C2682.1,983.0 2684.3,980.8 2685.2,978.0C2686.8,973.1 2687.1,967.8 2688.2,962.7C2689.7,955.6 2690.7,948.2 2692.8,941.3C2694.3,936.5 2696.2,931.7 2698.9,927.5C2700.8,924.5 2703.8,922.2 2706.6,919.9C2709.4,917.6 2712.5,915.5 2715.7,913.8C2718.6,912.2 2721.7,910.2 2724.9,910.1C2728.9,910.0 2733.1,912.8 2737.2,913.0C2740.6,913.2 2744.1,911.7 2747.5,911.3C2751.6,910.8 2755.7,910.1 2759.8,910.1C2769.0,910.1 2778.1,911.2 2787.3,911.3C2797.5,911.4 2807.7,910.8 2817.9,910.7C2846.4,910.6 2875.0,910.6 2903.5,910.7C2933.6,910.9 2964.1,910.2 2993.7,911.6C2995.4,911.7 2996.2,915.4 2997.4,915.3C2998.8,915.1 2999.4,910.9 3001.3,910.7C3008.9,909.7 3017.6,911.5 3025.8,911.6C3046.2,911.7 3066.6,911.5 3087.0,911.3C3112.5,911.0 3137.9,910.3 3163.4,910.1C3168.5,910.1 3173.8,909.8 3178.7,910.7C3180.5,911.0 3182.4,912.3 3183.3,913.8C3184.9,916.4 3185.9,919.8 3186.4,923.0C3187.9,933.0 3188.5,943.3 3189.4,953.5C3190.5,965.7 3191.4,978.0 3192.5,990.2C3193.3,999.2 3194.0,1016.6 3194.9,1017.1C3195.7,1017.6 3196.8,1001.2 3197.7,993.3C3199.1,981.1 3200.0,968.8 3201.7,956.6C3202.9,947.9 3204.2,939.1 3206.2,930.6C3207.2,926.4 3208.6,922.0 3210.8,918.4C3212.2,916.2 3214.4,913.8 3216.9,913.2C3222.1,912.0 3228.2,913.5 3233.8,913.2C3240.9,912.8 3248.1,911.7 3255.2,911.3C3265.4,910.7 3275.5,910.4 3285.7,910.1C3290.3,910.0 3294.9,909.7 3299.5,910.1C3302.0,910.3 3304.6,910.8 3306.8,911.8C3308.1,912.4 3309.5,913.5 3310.1,914.8C3311.2,917.3 3311.5,920.4 3311.9,923.3C3312.6,928.6 3312.8,934.0 3313.3,939.3C3313.7,944.2 3313.9,949.1 3314.6,953.9C3315.0,956.3 3315.6,958.8 3316.5,961.0C3317.0,962.5 3318.1,965.3 3318.8,965.1C3319.6,964.7 3320.4,961.3 3321.1,959.3C3321.9,957.1 3322.2,954.4 3323.3,952.6C3323.7,952.0 3325.3,951.7 3325.6,952.2C3326.8,954.1 3327.1,957.3 3327.9,959.9C3328.6,961.9 3329.3,966.1 3329.9,965.9C3330.7,965.7 3331.4,961.1 3332.0,958.6C3332.9,955.3 3333.4,951.8 3334.3,948.4C3334.6,947.4 3335.2,945.7 3335.7,945.6C3336.2,945.6 3336.7,947.5 3337.5,948.1C3338.3,948.6 3339.7,949.4 3340.3,948.9C3341.5,947.8 3341.9,945.0 3343.0,943.2C3343.6,942.2 3344.8,940.0 3345.3,940.4C3346.3,941.1 3347.0,944.4 3347.6,946.6C3348.5,950.0 3349.2,953.6 3349.9,957.1C3350.6,961.1 3351.1,965.1 3351.7,969.1C3352.3,973.6 3352.6,978.2 3353.5,982.7C3353.9,984.3 3354.9,987.6 3355.4,987.2C3356.1,986.6 3356.8,982.2 3357.2,979.7C3357.9,975.2 3358.0,970.7 3358.6,966.2C3359.0,962.5 3359.4,958.6 3360.4,955.1C3360.6,954.4 3361.7,953.3 3362.2,953.6C3363.2,954.0 3364.1,955.8 3365.0,957.0C3366.3,958.8 3367.4,960.8 3368.6,962.7C3369.6,964.1 3370.7,967.2 3371.4,967.0C3372.2,966.7 3372.8,963.0 3373.2,961.0C3374.2,956.5 3374.4,951.8 3375.5,947.4C3375.9,945.8 3376.7,943.9 3377.8,942.8C3378.5,942.1 3380.3,942.8 3381.0,942.0C3382.3,940.7 3382.8,938.4 3383.7,936.5C3384.5,935.0 3384.9,933.0 3386.0,931.9C3386.9,931.2 3388.4,931.3 3389.7,931.1C3390.9,930.9 3392.2,931.2 3393.3,930.9C3394.5,930.5 3395.5,928.9 3396.5,928.9C3397.6,929.0 3398.9,930.3 3399.7,931.3C3400.9,932.6 3401.8,934.3 3402.5,935.9C3403.9,939.2 3404.6,942.8 3406.2,945.8C3406.9,947.2 3408.6,948.0 3409.4,949.4C3410.8,952.0 3411.5,955.1 3412.6,958.0C3413.7,961.1 3414.5,964.4 3415.8,967.4C3416.4,968.9 3417.6,971.7 3418.2,971.5C3419.1,971.1 3419.9,967.6 3420.4,965.5C3421.3,961.3 3421.7,957.0 3422.6,952.8C3423.6,948.3 3424.6,943.9 3425.8,939.5C3426.5,937.2 3427.0,934.7 3428.1,932.6C3428.7,931.5 3430.0,930.9 3430.9,930.0C3432.1,928.8 3433.1,927.0 3434.5,926.2C3435.4,925.7 3436.9,925.6 3437.7,926.1C3438.8,926.8 3439.6,928.3 3440.0,929.6C3441.1,933.1 3441.8,936.9 3442.3,940.6C3443.3,947.1 3443.9,953.8 3444.6,960.4C3445.3,967.4 3445.8,974.5 3446.4,981.6C3447.0,988.2 3447.5,994.8 3448.2,1001.3C3448.7,1005.4 3449.2,1009.6 3450.1,1013.6C3450.7,1016.3 3451.6,1019.0 3452.8,1021.6C3453.6,1023.3 3455.5,1024.6 3456.0,1026.4C3457.2,1030.3 3457.4,1034.5 3457.8,1038.6C3458.6,1044.6 3459.1,1050.6 3459.7,1056.6C3460.5,1064.1 3461.1,1071.6 3462.0,1079.1C3462.7,1085.2 3463.3,1091.2 3464.3,1097.3C3464.8,1100.8 3465.5,1104.5 3466.6,1107.9C3466.9,1109.1 3467.7,1110.9 3468.4,1111.2C3468.9,1111.3 3469.8,1109.9 3470.2,1109.1C3471.2,1107.0 3471.6,1104.5 3472.5,1102.4C3473.0,1101.3 3473.8,1099.2 3474.3,1099.4C3475.0,1099.6 3475.7,1102.0 3476.3,1103.3C3477.1,1105.5 3477.4,1108.2 3478.6,1110.0C3478.9,1110.6 3480.5,1110.8 3480.9,1110.3C3481.8,1109.2 3482.3,1106.8 3482.7,1105.0C3483.6,1101.1 3484.4,1097.1 3485.0,1093.1C3485.8,1086.8 3486.3,1080.4 3486.8,1074.0C3487.5,1065.0 3488.0,1056.1 3488.6,1047.2C3489.2,1039.3 3489.7,1031.4 3490.5,1023.5C3490.9,1018.6 3491.5,1013.7 3492.3,1008.7C3492.9,1004.8 3493.5,1000.7 3494.6,996.8C3495.0,995.3 3496.0,992.9 3496.9,992.5C3497.4,992.3 3498.4,994.2 3498.7,995.1C3499.6,997.9 3499.9,1000.8 3500.5,1003.7C3501.1,1006.7 3501.2,1010.3 3502.3,1012.9C3502.6,1013.5 3504.3,1014.0 3504.6,1013.4C3505.9,1011.3 3506.1,1007.8 3506.9,1005.0C3508.1,1000.8 3509.4,996.7 3510.6,992.5C3511.6,988.9 3512.5,985.1 3513.8,981.6C3514.3,980.1 3515.2,978.0 3516.1,977.6C3516.6,977.3 3517.7,978.7 3517.9,979.6C3518.9,982.9 3519.3,986.6 3519.7,990.2C3520.6,997.9 3521.0,1005.7 3521.6,1013.4C3522.2,1022.6 3522.7,1031.8 3523.4,1041.0C3523.9,1047.2 3524.5,1053.4 3525.2,1059.6C3525.7,1063.9 3526.3,1068.2 3527.1,1072.4C3527.5,1074.5 3528.1,1078.1 3528.9,1078.6C3529.4,1078.9 3530.2,1076.2 3530.7,1074.9C3531.8,1072.0 3532.4,1068.9 3533.5,1065.9C3534.1,1064.1 3534.7,1062.0 3535.7,1060.6C3536.2,1060.0 3537.6,1059.6 3538.0,1060.0C3539.1,1060.9 3539.4,1063.2 3540.3,1064.6C3540.7,1065.2 3541.8,1066.2 3542.2,1065.8C3543.1,1064.8 3543.7,1062.1 3544.0,1060.2C3544.9,1054.2 3545.3,1048.1 3545.8,1042.0C3546.5,1034.0 3547.0,1026.0 3547.6,1018.0C3548.2,1010.5 3548.7,1002.9 3549.5,995.4C3549.9,990.8 3550.5,986.3 3551.3,981.8C3551.9,978.1 3552.7,974.5 3553.6,971.0C3554.4,967.8 3555.4,964.7 3556.4,961.6C3557.4,957.9 3558.0,953.7 3559.6,950.6C3559.9,949.9 3561.7,949.5 3562.3,950.0C3563.4,951.1 3564.0,953.5 3564.6,955.4C3565.3,957.6 3565.6,960.0 3566.4,962.2C3566.8,963.1 3567.7,965.0 3568.1,964.7C3568.7,964.2 3569.2,961.6 3569.6,960.0C3570.2,957.5 3570.3,954.8 3571.0,952.4C3571.2,951.5 3571.8,950.2 3572.4,950.1C3572.9,950.1 3573.6,951.4 3574.2,952.1C3574.8,952.9 3575.6,954.7 3576.0,954.5C3576.6,954.2 3576.8,951.8 3577.4,950.6C3577.8,949.8 3578.6,948.4 3579.2,948.3C3579.8,948.2 3580.5,949.4 3581.0,950.1C3581.8,950.9 3582.4,952.5 3583.3,952.7C3584.3,952.9 3585.5,951.8 3586.6,951.2C3587.8,950.5 3589.3,949.8 3590.2,948.6C3591.6,947.0 3592.1,944.7 3593.4,943.0C3594.3,941.8 3595.4,940.5 3596.6,939.9C3597.6,939.4 3599.4,939.1 3600.3,939.6C3601.3,940.3 3601.8,942.1 3602.6,943.4C3603.5,945.0 3604.0,947.2 3605.3,948.1C3606.2,948.7 3608.1,947.4 3609.0,948.0C3610.1,948.9 3610.5,951.0 3611.2,952.5C3612.2,954.5 3613.1,958.5 3614.0,958.6C3614.8,958.7 3615.8,955.1 3616.3,953.2C3617.4,948.8 3617.8,944.3 3618.6,939.8C3619.5,934.4 3620.2,928.9 3621.3,923.5C3622.0,920.3 3622.8,917.0 3624.1,914.0C3624.6,912.7 3625.7,911.5 3626.8,910.8C3627.7,910.2 3628.9,910.1 3630.0,910.2C3631.1,910.2 3632.5,910.3 3633.2,911.1C3634.5,912.4 3634.7,915.1 3636.1,916.2C3637.2,917.1 3639.5,916.2 3640.7,917.1C3641.9,918.0 3642.2,920.7 3643.4,921.6C3643.9,922.0 3645.2,921.5 3645.7,921.0C3646.7,919.8 3646.8,917.5 3648.0,916.5C3648.8,915.7 3650.7,916.4 3651.6,915.6C3653.2,914.3 3653.7,911.4 3655.3,910.3C3656.4,909.5 3658.3,909.7 3659.9,909.7C3661.1,909.7 3662.7,909.6 3663.5,910.3C3664.7,911.3 3664.8,913.7 3665.8,915.0C3666.6,916.0 3668.0,917.1 3669.0,917.1C3670.1,917.0 3671.0,915.3 3672.2,914.8C3673.3,914.3 3674.9,914.8 3675.9,914.2C3677.2,913.3 3677.8,911.2 3679.1,910.3C3679.7,909.8 3680.8,910.0 3681.7,910.0C3694.1,909.9 3706.6,909.3 3718.8,910.0C3721.4,910.2 3723.8,911.5 3726.1,912.6C3728.1,913.5 3729.8,915.1 3731.8,916.0C3733.6,916.8 3735.5,917.5 3737.4,917.9C3740.1,918.4 3743.2,917.6 3745.5,918.6C3747.3,919.4 3748.5,921.4 3749.6,923.1C3751.2,925.7 3751.8,929.4 3753.6,931.5C3754.2,932.2 3756.2,932.1 3756.9,931.5C3758.2,930.2 3758.4,927.2 3759.7,925.7C3760.3,925.0 3761.9,924.5 3762.5,925.0C3763.9,926.0 3764.3,928.9 3765.7,930.2C3767.0,931.3 3769.4,931.0 3770.6,932.2C3772.5,934.2 3773.4,938.3 3775.0,939.6C3775.6,940.1 3776.3,937.3 3777.1,937.5C3778.6,937.9 3780.2,940.9 3781.9,941.5C3782.6,941.7 3783.8,940.8 3784.3,940.1C3785.7,938.2 3786.5,935.8 3787.6,933.6C3788.7,931.3 3789.8,928.9 3790.8,926.5C3792.0,923.7 3792.5,920.4 3794.0,917.9C3794.6,916.9 3796.3,916.8 3797.2,916.0C3798.5,914.8 3799.5,913.2 3800.6,911.8" fill="none" stroke="#000" stroke-width="4.7" stroke-linejoin="round" stroke-linecap="butt" />
<path d="M2163.8,1124.9C2224.4,1124.9 2285.1,1124.1 2345.7,1124.9C2349.9,1125.0 2354.0,1126.2 2358.0,1127.4C2362.2,1128.7 2366.0,1131.1 2370.2,1132.6C2374.2,1134.0 2378.2,1135.6 2382.4,1136.2C2388.4,1137.1 2394.7,1137.3 2400.8,1137.2C2408.9,1137.1 2417.1,1136.5 2425.2,1135.6C2435.4,1134.4 2445.6,1132.3 2455.8,1131.0C2466.0,1129.7 2476.2,1128.9 2486.4,1128.0C2496.6,1127.1 2506.8,1126.3 2517.0,1125.8C2527.2,1125.3 2537.4,1125.1 2547.6,1124.9C2568.0,1124.6 2588.4,1124.1 2608.7,1124.3C2611.8,1124.3 2615.2,1124.3 2617.9,1125.6C2620.3,1126.8 2622.9,1129.1 2624.0,1131.7C2626.4,1137.0 2627.6,1143.3 2628.6,1149.3C2630.1,1158.3 2630.6,1167.5 2631.7,1176.5C2632.7,1184.8 2633.6,1193.0 2634.7,1201.2C2635.3,1205.3 2635.4,1210.9 2636.8,1213.6C2637.2,1214.4 2638.8,1211.9 2640.0,1211.4C2641.0,1211.0 2642.1,1210.9 2643.2,1210.9C2645.3,1210.9 2647.7,1212.2 2649.6,1211.7C2651.0,1211.3 2652.2,1209.7 2653.0,1208.3C2654.4,1205.9 2655.2,1203.0 2656.0,1200.3C2657.4,1195.3 2658.3,1190.2 2659.5,1185.2C2660.4,1181.3 2661.3,1177.5 2662.4,1173.7C2663.2,1171.0 2663.8,1168.1 2665.0,1165.6C2665.6,1164.3 2667.0,1162.2 2667.9,1162.3C2668.9,1162.4 2670.1,1164.9 2670.5,1166.5C2672.0,1172.4 2672.3,1178.7 2673.5,1184.7C2674.4,1189.3 2675.1,1196.9 2676.6,1198.3C2677.5,1199.2 2679.2,1193.7 2680.6,1191.5C2682.1,1189.2 2684.3,1187.2 2685.2,1184.7C2686.8,1180.4 2687.1,1175.6 2688.2,1171.1C2689.7,1164.7 2690.7,1158.2 2692.8,1152.1C2694.3,1147.8 2696.3,1143.4 2698.9,1139.8C2700.9,1137.1 2703.8,1135.0 2706.6,1133.0C2709.4,1130.9 2712.5,1129.1 2715.7,1127.6C2718.6,1126.2 2721.8,1124.4 2724.9,1124.3C2728.9,1124.2 2733.1,1126.7 2737.2,1126.9C2740.6,1127.0 2744.1,1125.7 2747.5,1125.4C2751.6,1124.9 2755.7,1124.3 2759.8,1124.3C2769.0,1124.3 2778.1,1125.4 2787.3,1125.5C2797.5,1125.6 2807.7,1125.0 2817.9,1124.9C2846.4,1124.8 2875.0,1124.8 2903.5,1124.9C2933.6,1125.1 2964.1,1124.4 2993.7,1125.8C2995.4,1125.9 2996.2,1129.6 2997.4,1129.5C2998.8,1129.3 2999.4,1125.1 3001.3,1124.9C3008.9,1123.9 3017.6,1125.7 3025.8,1125.8C3046.2,1125.9 3066.6,1125.7 3087.0,1125.5C3112.5,1125.2 3137.9,1124.5 3163.4,1124.3C3168.5,1124.3 3173.8,1124.0 3178.7,1124.9C3180.5,1125.2 3182.4,1126.5 3183.3,1128.0C3184.9,1130.6 3185.9,1134.0 3186.4,1137.2C3187.9,1147.2 3188.5,1157.5 3189.4,1167.7C3190.5,1179.9 3191.4,1192.2 3192.5,1204.4C3193.3,1213.4 3194.0,1230.8 3194.9,1231.3C3195.7,1231.8 3196.8,1215.4 3197.7,1207.5C3199.1,1195.3 3200.0,1183.0 3201.7,1170.8C3202.9,1162.1 3204.2,1153.3 3206.2,1144.8C3207.2,1140.6 3208.6,1136.2 3210.8,1132.6C3212.2,1130.4 3214.4,1128.0 3216.9,1127.4C3222.1,1126.2 3228.2,1127.7 3233.8,1127.4C3240.9,1127.0 3248.1,1125.9 3255.2,1125.5C3265.4,1124.9 3275.5,1124.6 3285.7,1124.3C3290.3,1124.2 3294.9,1124.3 3299.5,1124.3C3301.9,1124.3 3304.7,1123.7 3306.8,1124.4C3308.2,1124.9 3309.4,1126.6 3310.1,1128.0C3311.1,1130.2 3311.5,1132.9 3311.9,1135.4C3312.6,1140.3 3312.8,1145.3 3313.3,1150.2C3313.7,1154.2 3313.9,1158.2 3314.6,1162.2C3315.0,1164.2 3315.6,1166.2 3316.5,1168.1C3317.0,1169.2 3318.1,1171.2 3318.8,1171.0C3319.6,1170.7 3320.5,1168.2 3321.1,1166.6C3322.0,1164.2 3322.3,1161.4 3323.3,1159.2C3323.7,1158.5 3324.8,1157.2 3325.2,1157.7C3326.2,1159.2 3326.6,1162.6 3327.5,1165.1C3328.2,1167.1 3329.0,1171.0 3329.7,1171.0C3330.5,1171.0 3331.4,1167.1 3332.0,1165.1C3333.0,1161.7 3333.3,1158.1 3334.3,1154.7C3334.7,1153.4 3335.5,1151.4 3336.1,1151.2C3336.7,1151.1 3337.2,1153.5 3338.0,1153.8C3338.6,1154.0 3339.8,1153.3 3340.3,1152.7C3341.5,1150.9 3341.9,1148.4 3343.0,1146.4C3343.6,1145.3 3344.7,1143.1 3345.3,1143.4C3346.2,1143.9 3347.0,1146.9 3347.6,1148.8C3348.6,1152.2 3349.2,1155.7 3349.9,1159.2C3350.6,1162.6 3351.1,1166.1 3351.7,1169.5C3352.4,1173.5 3352.6,1177.6 3353.5,1181.4C3353.7,1182.3 3354.7,1184.0 3355.1,1183.8C3355.7,1183.5 3356.5,1181.3 3356.7,1179.9C3357.7,1174.6 3357.8,1169.0 3358.6,1163.6C3359.0,1160.3 3359.5,1157.0 3360.4,1153.8C3360.7,1152.8 3361.5,1151.2 3362.2,1151.2C3363.1,1151.2 3364.2,1152.8 3365.0,1153.8C3366.4,1155.7 3367.3,1158.1 3368.6,1160.0C3369.4,1161.1 3370.8,1163.4 3371.4,1163.0C3372.3,1162.5 3372.8,1159.1 3373.2,1157.1C3374.1,1153.2 3374.5,1149.1 3375.5,1145.2C3376.0,1143.1 3376.6,1140.7 3377.8,1139.3C3378.4,1138.5 3380.3,1139.1 3381.0,1138.4C3382.3,1136.9 3382.6,1134.3 3383.7,1132.5C3384.5,1131.2 3385.2,1129.3 3386.5,1128.9C3388.4,1128.1 3391.0,1128.9 3393.3,1128.9C3395.2,1128.9 3397.1,1128.4 3398.8,1128.9C3399.9,1129.1 3401.1,1130.0 3401.6,1131.0C3403.2,1134.2 3404.1,1137.9 3405.2,1141.4C3406.5,1145.3 3407.9,1149.2 3408.9,1153.2C3410.2,1158.6 3411.1,1164.1 3412.1,1169.5C3413.0,1174.5 3413.9,1179.5 3414.8,1184.4C3415.7,1188.9 3416.4,1193.4 3417.6,1197.8C3418.0,1199.4 3418.9,1202.3 3419.7,1202.3C3420.5,1202.3 3421.2,1199.2 3422.2,1197.8C3423.1,1196.5 3424.1,1194.9 3425.4,1194.2C3426.4,1193.6 3427.8,1194.1 3429.0,1193.9C3430.3,1193.8 3431.7,1194.0 3432.7,1193.3C3433.9,1192.6 3434.4,1190.8 3435.4,1189.7C3436.1,1189.1 3437.0,1188.2 3437.7,1188.3C3438.5,1188.4 3439.6,1189.4 3440.0,1190.3C3441.1,1192.6 3441.8,1195.3 3442.3,1197.8C3443.3,1202.2 3443.9,1206.7 3444.6,1211.1C3445.5,1217.0 3446.1,1223.0 3446.9,1229.0C3447.6,1234.9 3448.4,1240.8 3449.2,1246.7C3449.8,1251.2 3450.1,1255.7 3451.0,1260.1C3451.6,1263.2 3452.9,1266.1 3453.7,1269.1C3454.7,1272.5 3455.8,1276.0 3456.5,1279.5C3457.6,1285.3 3458.3,1291.3 3459.2,1297.2C3460.2,1303.7 3461.0,1310.1 3462.0,1316.6C3462.9,1322.5 3463.6,1328.4 3464.7,1334.3C3465.4,1337.8 3466.4,1341.3 3467.5,1344.7C3468.2,1346.8 3469.2,1348.8 3470.2,1350.7C3471.2,1352.8 3472.6,1354.7 3473.4,1356.9C3474.6,1360.2 3475.4,1363.7 3476.3,1367.1C3477.1,1370.6 3477.6,1374.1 3478.6,1377.5C3479.2,1379.8 3479.9,1382.2 3480.9,1384.3C3481.4,1385.6 3482.1,1387.1 3483.1,1387.9C3483.7,1388.3 3484.9,1388.4 3485.4,1387.9C3486.5,1386.9 3487.3,1385.1 3487.7,1383.5C3488.8,1379.6 3489.2,1375.5 3490.0,1371.6C3490.7,1368.1 3491.5,1364.7 3492.3,1361.2C3493.2,1357.3 3494.1,1353.3 3495.0,1349.4C3495.7,1346.7 3496.3,1343.9 3497.3,1341.3C3497.8,1339.9 3498.6,1337.9 3499.6,1337.4C3500.3,1337.1 3501.6,1339.1 3502.3,1338.9C3503.3,1338.6 3504.2,1337.1 3504.6,1336.0C3505.7,1333.2 3506.2,1330.0 3506.9,1327.0C3507.7,1323.6 3508.6,1320.1 3509.2,1316.7C3510.1,1311.7 3510.8,1306.8 3511.5,1301.8C3512.3,1295.9 3513.0,1289.9 3513.8,1284.0C3514.4,1279.6 3514.9,1275.1 3515.6,1270.6C3516.2,1267.2 3516.6,1263.6 3517.5,1260.2C3517.7,1259.4 3518.4,1257.9 3518.8,1257.9C3519.3,1257.9 3520.1,1259.4 3520.2,1260.2C3521.1,1265.6 3521.5,1271.1 3522.0,1276.5C3522.7,1283.0 3523.1,1289.4 3523.9,1295.9C3524.3,1299.8 3524.9,1303.8 3525.7,1307.7C3526.1,1310.0 3526.7,1312.2 3527.5,1314.3C3527.8,1315.2 3528.4,1316.7 3528.9,1316.7C3529.5,1316.5 3530.4,1314.8 3530.7,1313.7C3531.7,1310.7 3532.3,1307.4 3533.0,1304.2C3533.8,1300.8 3534.1,1297.1 3535.3,1293.8C3535.7,1292.8 3536.7,1291.8 3537.6,1291.4C3538.2,1291.2 3539.1,1291.7 3539.9,1292.0C3540.5,1292.2 3541.3,1293.2 3541.7,1292.9C3542.5,1292.0 3543.2,1290.0 3543.5,1288.5C3544.5,1283.6 3544.9,1278.6 3545.4,1273.6C3546.1,1265.2 3546.6,1256.8 3547.2,1248.4C3547.8,1240.5 3548.4,1232.5 3549.0,1224.6C3549.6,1218.2 3550.1,1211.7 3550.9,1205.3C3551.5,1199.8 3552.3,1194.4 3553.1,1189.0C3554.0,1183.5 3554.8,1178.1 3555.9,1172.7C3556.7,1168.7 3557.4,1164.7 3558.6,1160.8C3559.1,1159.2 3559.9,1157.0 3560.9,1156.3C3561.4,1156.0 3562.8,1157.1 3563.2,1157.8C3564.3,1159.5 3564.6,1161.8 3565.5,1163.7C3566.0,1164.8 3567.0,1167.0 3567.5,1166.7C3568.3,1166.3 3569.1,1163.4 3569.6,1161.7C3570.5,1158.8 3570.6,1155.2 3571.9,1152.7C3572.3,1152.0 3573.7,1152.1 3574.6,1151.9C3575.2,1151.8 3576.2,1152.3 3576.5,1151.9C3577.5,1150.3 3577.6,1147.4 3578.8,1146.0C3579.2,1145.4 3580.5,1145.6 3581.0,1146.0C3581.7,1146.3 3581.7,1147.8 3582.4,1148.0C3583.9,1148.4 3585.8,1148.2 3587.4,1148.0C3589.1,1147.8 3590.8,1146.8 3592.5,1146.8C3593.9,1146.8 3595.8,1147.0 3596.6,1148.0C3598.1,1149.7 3598.5,1152.5 3599.4,1154.8C3600.3,1157.4 3601.2,1160.1 3602.1,1162.8C3603.1,1165.8 3603.7,1168.9 3604.8,1171.8C3605.6,1173.7 3607.2,1175.2 3608.0,1177.1C3609.0,1179.2 3609.7,1181.4 3610.3,1183.6C3611.2,1186.4 3611.7,1189.3 3612.6,1192.0C3613.0,1193.2 3613.8,1195.5 3614.4,1195.5C3615.1,1195.5 3616.4,1193.3 3616.7,1192.0C3617.9,1187.7 3618.2,1183.0 3619.0,1178.6C3619.9,1173.6 3620.8,1168.7 3621.8,1163.7C3622.6,1159.8 3623.5,1155.8 3624.5,1151.9C3625.5,1148.4 3626.7,1144.9 3627.7,1141.5C3628.6,1138.5 3629.3,1135.4 3630.5,1132.6C3631.0,1131.2 3631.7,1129.4 3632.8,1128.7C3633.5,1128.1 3635.0,1128.4 3636.0,1128.7C3637.6,1129.2 3639.4,1130.0 3640.7,1131.1C3641.8,1132.1 3642.3,1134.6 3643.4,1135.0C3644.0,1135.2 3645.0,1133.8 3645.7,1133.1C3646.7,1132.1 3647.3,1130.6 3648.4,1129.6C3649.3,1128.9 3650.8,1128.8 3651.6,1128.1C3652.9,1127.0 3653.5,1124.8 3654.8,1124.2C3656.2,1123.6 3658.2,1124.1 3659.9,1124.2C3661.1,1124.3 3662.5,1124.0 3663.5,1124.6C3664.8,1125.3 3665.4,1127.5 3666.7,1128.1C3668.3,1128.7 3670.6,1128.6 3672.2,1128.1C3672.9,1127.9 3672.9,1126.3 3673.6,1126.0C3674.7,1125.6 3676.6,1126.3 3677.7,1125.8C3678.7,1125.3 3679.1,1123.8 3680.0,1123.0C3680.5,1122.6 3681.3,1122.0 3681.8,1122.2C3682.4,1122.4 3682.4,1124.1 3683.2,1124.2C3687.6,1124.8 3692.7,1124.2 3697.4,1124.2C3707.6,1124.2 3718.4,1123.1 3728.0,1124.2C3729.5,1124.4 3729.7,1127.6 3730.8,1128.1C3731.4,1128.4 3732.2,1127.0 3733.1,1126.6C3733.9,1126.3 3735.1,1126.5 3735.8,1126.0C3736.3,1125.7 3736.1,1124.3 3736.7,1124.2C3739.5,1123.7 3743.6,1123.1 3745.9,1124.2C3747.4,1124.9 3747.6,1127.8 3748.2,1129.6C3749.1,1132.5 3749.9,1135.5 3750.4,1138.5C3751.2,1142.4 3751.7,1146.4 3752.3,1150.4C3753.2,1156.8 3754.1,1163.2 3755.0,1169.6C3756.1,1177.6 3757.2,1185.5 3758.2,1193.4C3759.4,1202.3 3760.3,1211.2 3761.4,1220.1C3762.3,1227.6 3763.2,1235.0 3764.2,1242.5C3765.0,1248.4 3765.8,1254.3 3766.9,1260.2C3767.7,1264.2 3768.6,1268.2 3769.7,1272.1C3770.3,1274.1 3770.9,1276.3 3772.0,1278.1C3772.5,1279.0 3773.6,1280.2 3774.3,1280.1C3775.1,1280.0 3776.2,1278.5 3776.5,1277.4C3777.9,1273.4 3778.3,1268.9 3779.3,1264.7C3780.3,1260.7 3781.7,1256.9 3782.5,1252.9C3783.6,1247.4 3784.4,1241.9 3785.2,1236.4C3786.4,1228.6 3787.4,1220.7 3788.4,1212.8C3789.5,1204.3 3790.5,1195.9 3791.7,1187.5C3792.7,1179.6 3793.8,1171.6 3794.9,1163.7C3795.9,1156.3 3796.9,1148.9 3798.1,1141.5C3798.8,1137.0 3799.8,1132.6 3800.6,1128.1" fill="none" stroke="#FF00FF" stroke-width="4.7" stroke-linejoin="round" stroke-linecap="butt" />
<rect x="2162.9" y="109.8" width="1638.2999999999997" height="1315.7" fill="none" stroke="#000" stroke-width="5.7"/>
<line x1="2162.9" y1="1425.5" x2="2162.9" y2="1451.7" stroke="#000" stroke-width="5.7"/>
<text transform="translate(2162.9,1513.0) scale(1,1.04)" font-family="Liberation Sans" font-size="55.3" text-anchor="middle" >4000</text>
<line x1="2390.4" y1="1425.5" x2="2390.4" y2="1451.7" stroke="#000" stroke-width="5.7"/>
<text transform="translate(2390.4,1513.0) scale(1,1.04)" font-family="Liberation Sans" font-size="55.3" text-anchor="middle" >3500</text>
<line x1="2617.9" y1="1425.5" x2="2617.9" y2="1451.7" stroke="#000" stroke-width="5.7"/>
<text transform="translate(2617.9,1513.0) scale(1,1.04)" font-family="Liberation Sans" font-size="55.3" text-anchor="middle" >3000</text>
<line x1="2845.4" y1="1425.5" x2="2845.4" y2="1451.7" stroke="#000" stroke-width="5.7"/>
<text transform="translate(2845.4,1513.0) scale(1,1.04)" font-family="Liberation Sans" font-size="55.3" text-anchor="middle" >2500</text>
<line x1="3072.8" y1="1425.5" x2="3072.8" y2="1451.7" stroke="#000" stroke-width="5.7"/>
<text transform="translate(3072.8,1513.0) scale(1,1.04)" font-family="Liberation Sans" font-size="55.3" text-anchor="middle" >2000</text>
<line x1="3300.3" y1="1425.5" x2="3300.3" y2="1451.7" stroke="#000" stroke-width="5.7"/>
<text transform="translate(3300.3,1513.0) scale(1,1.04)" font-family="Liberation Sans" font-size="55.3" text-anchor="middle" >1500</text>
<line x1="3527.8" y1="1425.5" x2="3527.8" y2="1451.7" stroke="#000" stroke-width="5.7"/>
<text transform="translate(3527.8,1513.0) scale(1,1.04)" font-family="Liberation Sans" font-size="55.3" text-anchor="middle" >1000</text>
<line x1="3755.3" y1="1425.5" x2="3755.3" y2="1451.7" stroke="#000" stroke-width="5.7"/>
<text transform="translate(3755.3,1513.0) scale(1,1.04)" font-family="Liberation Sans" font-size="55.3" text-anchor="middle" >500</text>
<line x1="2276.6" y1="1425.5" x2="2276.6" y2="1438.5" stroke="#000" stroke-width="5.7"/>
<line x1="2504.1" y1="1425.5" x2="2504.1" y2="1438.5" stroke="#000" stroke-width="5.7"/>
<line x1="2731.6" y1="1425.5" x2="2731.6" y2="1438.5" stroke="#000" stroke-width="5.7"/>
<line x1="2959.1" y1="1425.5" x2="2959.1" y2="1438.5" stroke="#000" stroke-width="5.7"/>
<line x1="3186.6" y1="1425.5" x2="3186.6" y2="1438.5" stroke="#000" stroke-width="5.7"/>
<line x1="3414.1" y1="1425.5" x2="3414.1" y2="1438.5" stroke="#000" stroke-width="5.7"/>
<line x1="3641.6" y1="1425.5" x2="3641.6" y2="1438.5" stroke="#000" stroke-width="5.7"/>
<text transform="translate(3482.5,83.0) scale(1,1.04)" font-family="Liberation Sans" font-size="39.2" text-anchor="middle" >1100</text>
<text transform="translate(3775.3,82.0) scale(1,1.04)" font-family="Liberation Sans" font-size="39.2" text-anchor="middle" >450</text>
<text transform="translate(2196.0,242.6) scale(1,1.04)" font-family="Liberation Sans" font-size="50.1" text-anchor="start" >PVBR-B</text>
<text transform="translate(2174.0,467.2) scale(1,1.04)" font-family="Liberation Sans" font-size="50.1" text-anchor="start" >PVBR-B + GF-C 8%</text>
<text transform="translate(2174.0,684.7) scale(1,1.04)" font-family="Liberation Sans" font-size="50.1" text-anchor="start" >PVBR-B + GF-E 8%</text>
<text transform="translate(2179.0,872.0) scale(1,1.04)" font-family="Liberation Sans" font-size="50.1" text-anchor="start" >PVBR-B + GFiber 8%</text>
<text transform="translate(2180.0,1088.4) scale(1,1.04)" font-family="Liberation Sans" font-size="50.1" text-anchor="start" >PVBR-B + FSilica 8%</text>
<text transform="translate(2655.0,1633.2) scale(1,1.04)" font-family="Liberation Sans" font-size="74.8" text-anchor="start" >Wavenumber (cm</text>
<text transform="translate(3240.2,1603.7) scale(1,1.04)" font-family="Liberation Sans" font-size="52.457142857142856" text-anchor="start" >−1</text>
<text transform="translate(3300.8,1633.2) scale(1,1.04)" font-family="Liberation Sans" font-size="74.8" text-anchor="start" >)</text>
<text transform="translate(2056.0,722.4) rotate(-90) scale(1,1.04)" font-family="Liberation Sans" font-size="75.3" text-anchor="middle">Transmittance (a.u.)</text>
<text x="2897.7" y="1767.6" font-family="Liberation Serif" font-size="76" letter-spacing="-1.5" text-anchor="middle">(<tspan font-weight="bold">b</tspan>)</text>
<line x1="1754.7" y1="1928" x2="1754.7" y2="3278.9" stroke="#000" stroke-width="4.6" stroke-dasharray="23.7 22.07"/>
<line x1="2741.8" y1="1928" x2="2741.8" y2="3278.9" stroke="#000" stroke-width="4.6" stroke-dasharray="23.7 22.07"/>
<path d="M1147.6,2120.3C1154.7,2121.1 1162.0,2121.4 1169.0,2122.8C1172.7,2123.5 1176.9,2124.3 1179.8,2126.5C1182.6,2128.6 1184.5,2132.3 1185.9,2135.6C1188.1,2140.9 1188.9,2146.8 1190.5,2152.4C1191.9,2157.5 1192.8,2163.0 1195.0,2167.7C1196.4,2170.6 1198.8,2173.2 1201.2,2175.4C1203.4,2177.3 1206.4,2180.2 1208.8,2180.0C1211.5,2179.7 1214.0,2176.0 1216.5,2173.9C1219.1,2171.6 1221.2,2168.3 1224.1,2166.8C1226.2,2165.7 1229.6,2165.2 1231.7,2166.2C1234.7,2167.6 1236.8,2171.4 1239.4,2173.9C1241.6,2176.0 1244.0,2180.2 1246.1,2180.0C1248.5,2179.7 1250.9,2175.0 1253.1,2172.3C1255.8,2168.9 1257.9,2164.8 1260.8,2161.6C1262.0,2160.3 1263.8,2158.7 1265.4,2158.6C1267.3,2158.5 1269.4,2160.6 1271.5,2161.0C1274.5,2161.6 1277.9,2162.4 1280.7,2161.6C1284.0,2160.6 1286.6,2157.2 1289.8,2155.5C1292.2,2154.2 1295.2,2151.9 1297.5,2152.4C1300.3,2153.0 1302.9,2156.2 1305.1,2158.6C1308.0,2161.8 1310.5,2165.5 1312.8,2169.3C1315.1,2173.2 1317.0,2177.4 1318.9,2181.5C1321.0,2186.1 1322.3,2191.2 1325.0,2195.3C1326.4,2197.3 1329.3,2200.3 1331.1,2199.8C1333.4,2199.2 1335.8,2195.1 1337.2,2192.2C1339.3,2187.9 1339.9,2182.8 1341.8,2178.4C1343.5,2174.5 1345.2,2170.0 1348.0,2167.1C1349.3,2165.7 1352.1,2165.3 1354.1,2165.6C1357.2,2166.0 1360.2,2167.9 1363.2,2169.3C1367.4,2171.2 1371.4,2173.4 1375.5,2175.4C1378.5,2176.9 1381.8,2180.3 1384.6,2180.0C1386.9,2179.8 1389.2,2176.3 1390.8,2173.9C1393.8,2169.6 1395.2,2164.0 1398.4,2160.1C1400.3,2157.9 1403.3,2156.3 1406.1,2155.5C1409.4,2154.6 1413.5,2155.9 1416.8,2154.9C1420.1,2153.9 1422.9,2151.2 1425.9,2149.4C1428.5,2147.9 1430.8,2145.5 1433.6,2144.8C1437.4,2143.8 1441.7,2144.3 1445.8,2144.2C1449.9,2144.1 1454.0,2144.5 1458.0,2144.2C1461.6,2143.9 1465.1,2142.4 1468.7,2142.4C1472.3,2142.4 1476.0,2143.1 1479.4,2144.2C1482.6,2145.2 1485.8,2146.7 1488.6,2148.5C1492.9,2151.3 1496.4,2155.6 1500.9,2158.0C1504.1,2159.7 1508.4,2159.3 1511.6,2161.0C1515.5,2163.1 1518.8,2166.5 1522.3,2169.3C1525.9,2172.3 1529.2,2175.8 1533.0,2178.4C1535.5,2180.1 1538.6,2182.4 1541.2,2182.1C1543.7,2181.9 1546.4,2179.1 1548.3,2176.9C1551.3,2173.3 1553.0,2168.5 1555.9,2164.7C1559.1,2160.4 1562.8,2156.2 1566.6,2152.4C1568.9,2150.1 1571.4,2147.6 1574.3,2146.3C1577.0,2145.1 1580.4,2145.4 1583.4,2144.8C1587.5,2144.1 1591.6,2143.0 1595.7,2142.4C1599.2,2141.9 1602.9,2141.2 1606.4,2141.7C1609.0,2142.0 1612.0,2143.0 1614.0,2144.8C1617.1,2147.6 1619.8,2151.6 1621.7,2155.5C1624.9,2161.8 1627.1,2168.7 1629.3,2175.4C1631.6,2182.4 1633.3,2189.7 1635.4,2196.8C1637.4,2203.5 1639.0,2210.2 1641.5,2216.7C1643.1,2220.9 1644.9,2225.4 1647.6,2228.9C1650.0,2232.0 1653.4,2234.4 1656.8,2236.5C1660.1,2238.5 1664.9,2238.5 1667.5,2241.1C1670.5,2244.1 1671.9,2249.2 1673.6,2253.4C1676.0,2259.4 1677.8,2265.6 1679.8,2271.7C1682.4,2279.3 1684.6,2287.1 1687.4,2294.6C1689.7,2300.8 1691.9,2307.2 1695.0,2313.0C1697.0,2316.9 1699.7,2320.7 1702.7,2323.7C1704.3,2325.3 1706.7,2326.6 1708.8,2326.8C1710.8,2326.9 1713.1,2325.8 1714.9,2324.6C1717.7,2322.7 1719.8,2319.6 1722.6,2317.6C1724.4,2316.3 1726.7,2314.4 1728.7,2314.5C1730.9,2314.7 1733.2,2317.0 1735.2,2318.5C1737.9,2320.6 1739.9,2324.0 1742.8,2325.3C1745.0,2326.3 1748.3,2326.4 1750.5,2325.6C1752.9,2324.7 1754.9,2322.2 1756.6,2320.1C1759.5,2316.3 1762.3,2312.2 1764.2,2307.8C1766.9,2301.5 1768.6,2294.7 1770.3,2288.0C1772.7,2278.9 1774.3,2269.6 1776.5,2260.4C1778.4,2252.2 1780.1,2244.0 1782.6,2236.0C1784.2,2230.8 1786.3,2225.6 1788.7,2220.7C1790.8,2216.4 1793.1,2211.9 1796.3,2208.4C1798.2,2206.3 1801.3,2204.5 1804.0,2203.9C1805.9,2203.5 1808.5,2204.2 1810.1,2205.4C1812.6,2207.2 1814.2,2210.4 1816.2,2213.0C1818.3,2215.7 1819.7,2219.7 1822.3,2221.3C1824.3,2222.5 1827.9,2222.4 1830.0,2221.3C1833.0,2219.7 1835.0,2215.7 1837.6,2213.0C1841.6,2208.9 1845.7,2204.9 1849.8,2200.8C1853.4,2197.2 1856.7,2193.2 1860.6,2190.1C1862.8,2188.4 1865.6,2186.9 1868.2,2186.4C1870.1,2186.0 1872.9,2186.3 1874.3,2187.6C1877.0,2190.1 1879.1,2194.0 1880.4,2197.7C1883.1,2205.1 1884.6,2213.0 1886.5,2220.7C1888.7,2229.8 1890.3,2239.1 1892.7,2248.2C1894.4,2254.4 1896.4,2260.5 1898.8,2266.5C1900.5,2270.7 1902.4,2275.1 1904.9,2278.8C1906.4,2281.0 1908.8,2284.0 1911.0,2284.3C1912.9,2284.5 1915.3,2281.9 1917.1,2280.3C1920.4,2277.5 1923.0,2273.9 1926.3,2271.1C1928.6,2269.0 1931.1,2266.8 1933.9,2265.6C1936.2,2264.6 1939.2,2264.0 1941.6,2264.4C1944.3,2264.8 1946.6,2267.2 1949.2,2268.1C1951.2,2268.8 1953.6,2269.7 1955.4,2269.0C1957.7,2268.1 1960.3,2265.9 1961.5,2263.5C1964.4,2257.9 1965.8,2251.3 1967.6,2245.1C1969.9,2237.0 1971.6,2228.8 1973.7,2220.7C1975.7,2213.0 1977.3,2205.2 1979.8,2197.7C1981.4,2193.0 1983.5,2188.3 1985.9,2184.0C1988.1,2180.2 1990.8,2176.6 1993.6,2173.3C1996.4,2170.0 1999.7,2167.2 2002.8,2164.1C2006.4,2160.5 2009.4,2155.8 2013.5,2153.4C2016.0,2152.0 2019.8,2152.0 2022.6,2152.8C2025.4,2153.6 2028.0,2156.0 2030.3,2158.0C2032.6,2160.0 2034.1,2162.9 2036.4,2164.7C2037.9,2165.9 2040.2,2167.5 2041.9,2167.2C2043.8,2166.8 2045.7,2164.4 2047.1,2162.6C2048.9,2160.3 2049.7,2157.0 2051.7,2154.9C2052.8,2153.7 2054.7,2152.8 2056.3,2152.8C2058.3,2152.8 2060.4,2154.1 2062.4,2154.9C2064.5,2155.7 2066.6,2157.7 2068.5,2157.4C2070.2,2157.2 2071.4,2154.4 2073.1,2153.4C2075.0,2152.3 2077.1,2151.1 2079.2,2150.9C2081.2,2150.8 2083.3,2151.9 2085.3,2152.5C2087.9,2153.2 2090.4,2154.7 2093.0,2154.9C2096.5,2155.2 2100.1,2154.3 2103.7,2154.0C2107.8,2153.6 2112.0,2153.8 2115.9,2152.8C2119.6,2151.8 2122.9,2149.1 2126.6,2147.9C2130.0,2146.8 2133.7,2145.9 2137.3,2145.7C2141.3,2145.4 2145.7,2145.4 2149.5,2146.4C2152.3,2147.1 2154.6,2149.4 2157.2,2150.9C2160.3,2152.7 2163.1,2155.5 2166.4,2156.5C2170.2,2157.7 2174.8,2156.2 2178.6,2157.4C2181.4,2158.3 2183.7,2160.8 2186.2,2162.6C2189.3,2164.9 2192.3,2169.3 2195.4,2169.6C2197.9,2169.8 2201.2,2166.5 2203.1,2164.1C2206.3,2160.1 2208.2,2154.9 2210.7,2150.3C2213.8,2144.7 2216.3,2138.7 2219.9,2133.5C2222.4,2129.8 2225.6,2126.2 2229.1,2123.7C2231.7,2121.9 2235.1,2121.0 2238.2,2120.4C2241.7,2119.7 2245.3,2119.8 2248.9,2119.8C2252.5,2119.9 2256.3,2119.7 2259.6,2120.7C2263.0,2121.7 2265.7,2125.1 2269.2,2126.0C2274.0,2127.2 2279.6,2125.8 2284.5,2126.9C2287.7,2127.6 2290.4,2130.7 2293.6,2131.5C2296.0,2132.1 2298.9,2131.7 2301.3,2130.9C2304.0,2130.0 2306.1,2127.1 2308.9,2126.3C2312.8,2125.2 2317.3,2126.4 2321.2,2125.4C2325.4,2124.3 2329.1,2120.8 2333.4,2119.9C2338.3,2118.8 2343.6,2119.3 2348.7,2119.3C2352.8,2119.3 2357.1,2118.9 2360.9,2119.9C2363.7,2120.7 2365.8,2123.7 2368.6,2124.8C2371.9,2126.1 2375.7,2126.9 2379.3,2126.9C2382.9,2126.8 2386.4,2125.0 2390.0,2124.5C2394.0,2124.0 2398.3,2124.7 2402.2,2123.9C2405.9,2123.2 2409.2,2120.3 2412.9,2119.9C2422.9,2118.9 2433.3,2119.9 2443.5,2119.9C2458.3,2119.9 2473.1,2119.2 2487.8,2119.9C2490.5,2120.0 2492.9,2121.7 2495.5,2122.3C2500.0,2123.3 2504.6,2124.2 2509.2,2124.5C2518.9,2125.1 2528.6,2124.3 2538.3,2124.8C2543.4,2125.1 2548.5,2126.2 2553.6,2126.9C2558.7,2127.6 2563.9,2127.9 2568.9,2129.0C2573.1,2129.9 2576.9,2132.2 2581.1,2133.0C2585.1,2133.8 2589.3,2133.1 2593.3,2133.9C2597.0,2134.6 2600.4,2137.5 2604.0,2137.6C2607.5,2137.7 2611.0,2134.9 2614.7,2134.6C2621.7,2133.9 2629.1,2133.7 2636.1,2134.6C2640.4,2135.2 2644.3,2137.7 2648.4,2139.1C2652.4,2140.5 2656.4,2142.3 2660.6,2143.1C2664.1,2143.8 2667.8,2144.2 2671.3,2143.7C2675.0,2143.1 2678.3,2140.3 2682.0,2139.8C2686.5,2139.1 2691.2,2139.7 2695.8,2140.1C2700.4,2140.5 2704.9,2141.5 2709.5,2142.2C2714.6,2142.9 2719.8,2143.1 2724.8,2144.3C2728.0,2145.1 2730.8,2147.8 2734.0,2148.3C2740.0,2149.3 2746.3,2148.8 2752.4,2148.9C2757.5,2149.0 2762.6,2149.5 2767.6,2148.9C2770.7,2148.6 2774.1,2147.8 2776.8,2146.2C2780.3,2144.1 2782.6,2139.9 2786.0,2137.6C2789.2,2135.5 2793.3,2134.9 2796.7,2133.0C2800.5,2130.8 2803.5,2127.3 2807.4,2125.4C2811.0,2123.7 2815.1,2123.3 2819.0,2122.3" fill="none" stroke="#008000" stroke-width="6" stroke-linejoin="round" stroke-linecap="butt" />
<path d="M1147.6,2350.3C1154.7,2350.9 1162.0,2351.0 1169.0,2352.1C1172.7,2352.7 1176.9,2353.4 1179.8,2355.4C1182.6,2357.4 1184.5,2361.1 1185.9,2364.3C1188.1,2369.6 1188.9,2375.5 1190.5,2381.0C1191.9,2386.1 1192.8,2391.5 1195.0,2396.1C1196.4,2399.0 1198.8,2401.6 1201.2,2403.6C1203.4,2405.5 1206.4,2408.3 1208.8,2408.0C1211.5,2407.7 1214.0,2404.1 1216.5,2401.9C1219.1,2399.7 1221.2,2396.4 1224.1,2394.9C1226.2,2393.8 1229.6,2393.3 1231.7,2394.3C1234.7,2395.7 1236.8,2399.5 1239.4,2402.1C1241.6,2404.2 1244.0,2408.5 1246.1,2408.2C1248.5,2407.9 1250.9,2403.2 1253.1,2400.6C1255.8,2397.1 1257.9,2393.1 1260.8,2389.9C1262.0,2388.6 1263.8,2387.0 1265.4,2386.9C1267.3,2386.8 1269.4,2388.9 1271.5,2389.4C1274.5,2390.0 1277.9,2390.8 1280.7,2390.0C1284.0,2389.0 1286.6,2385.7 1289.8,2384.0C1292.2,2382.7 1295.2,2380.4 1297.5,2380.9C1300.3,2381.5 1302.9,2384.7 1305.1,2387.2C1308.0,2390.4 1310.5,2394.1 1312.8,2397.9C1315.1,2401.8 1317.0,2406.0 1318.9,2410.1C1321.0,2414.7 1322.3,2419.9 1325.0,2424.0C1326.4,2426.0 1329.3,2429.0 1331.1,2428.5C1333.4,2427.9 1335.8,2423.7 1337.2,2420.9C1339.3,2416.6 1339.9,2411.5 1341.8,2407.1C1343.5,2403.1 1345.2,2398.6 1348.0,2395.7C1349.3,2394.3 1352.1,2393.9 1354.1,2394.2C1357.2,2394.7 1360.2,2396.5 1363.2,2397.9C1367.4,2399.8 1371.4,2401.9 1375.5,2403.9C1378.5,2405.4 1381.9,2408.8 1384.6,2408.5C1387.0,2408.3 1389.2,2404.7 1390.8,2402.4C1393.8,2398.1 1395.2,2392.5 1398.4,2388.6C1400.3,2386.3 1403.3,2384.7 1406.1,2383.9C1409.4,2383.0 1413.5,2384.3 1416.8,2383.3C1420.1,2382.3 1422.9,2379.6 1425.9,2377.8C1428.5,2376.2 1430.8,2373.9 1433.6,2373.1C1437.4,2372.1 1441.7,2372.6 1445.8,2372.5C1449.9,2372.4 1454.0,2372.8 1458.0,2372.4C1461.6,2372.1 1465.1,2370.5 1468.7,2370.6C1472.3,2370.7 1476.0,2371.7 1479.4,2372.9C1482.6,2374.0 1485.8,2375.6 1488.6,2377.6C1492.9,2380.6 1496.4,2385.0 1500.9,2387.6C1504.1,2389.5 1508.5,2389.4 1511.6,2391.4C1515.6,2393.9 1518.8,2397.8 1522.3,2401.2C1525.9,2404.6 1529.1,2408.6 1533.0,2411.8C1535.4,2413.8 1538.6,2416.8 1541.2,2416.6C1543.7,2416.4 1546.4,2412.9 1548.3,2410.5C1551.3,2406.5 1553.1,2401.5 1555.9,2397.3C1559.2,2392.5 1562.8,2387.9 1566.6,2383.6C1568.9,2381.0 1571.3,2378.1 1574.3,2376.5C1576.9,2375.1 1580.4,2375.4 1583.4,2374.8C1587.5,2374.0 1591.6,2373.0 1595.7,2372.4C1599.2,2371.9 1602.9,2371.2 1606.4,2371.7C1609.0,2372.0 1612.0,2373.0 1614.0,2374.8C1617.1,2377.6 1619.8,2381.6 1621.7,2385.5C1624.9,2391.8 1627.1,2398.7 1629.3,2405.4C1631.6,2412.4 1633.3,2419.7 1635.4,2426.8C1637.4,2433.5 1639.0,2440.2 1641.5,2446.7C1643.1,2450.9 1644.9,2455.4 1647.6,2458.9C1650.0,2462.0 1653.4,2464.4 1656.8,2466.5C1660.1,2468.5 1664.9,2468.5 1667.5,2471.1C1670.5,2474.1 1671.9,2479.2 1673.6,2483.4C1676.0,2489.4 1677.8,2495.6 1679.8,2501.7C1682.4,2509.3 1684.6,2517.1 1687.4,2524.6C1689.7,2530.8 1691.9,2537.2 1695.0,2543.0C1697.0,2546.9 1699.7,2550.7 1702.7,2553.7C1704.3,2555.3 1706.7,2556.6 1708.8,2556.8C1710.8,2557.0 1713.1,2555.8 1714.9,2554.6C1717.7,2552.8 1719.8,2549.7 1722.6,2547.7C1724.4,2546.4 1726.7,2544.5 1728.7,2544.7C1730.9,2544.8 1733.2,2547.2 1735.2,2548.7C1737.9,2550.8 1739.9,2554.2 1742.8,2555.6C1745.0,2556.6 1748.3,2556.8 1750.5,2555.9C1752.9,2555.1 1754.9,2552.6 1756.6,2550.5C1759.5,2546.7 1762.3,2542.6 1764.2,2538.3C1766.9,2532.0 1768.6,2525.2 1770.3,2518.5C1772.7,2509.4 1774.3,2500.1 1776.5,2491.0C1778.4,2482.8 1780.1,2474.6 1782.6,2466.6C1784.2,2461.4 1786.3,2456.3 1788.7,2451.4C1790.8,2447.1 1793.1,2442.6 1796.3,2439.1C1798.2,2437.0 1801.3,2435.2 1804.0,2434.7C1805.9,2434.3 1808.5,2435.2 1810.1,2436.5C1812.6,2438.5 1814.2,2441.7 1816.2,2444.4C1818.3,2447.2 1819.6,2451.3 1822.3,2453.0C1824.2,2454.2 1827.9,2454.2 1830.0,2453.1C1833.0,2451.5 1835.0,2447.4 1837.6,2444.7C1841.6,2440.5 1845.7,2436.4 1849.8,2432.3C1853.4,2428.6 1856.7,2424.5 1860.6,2421.3C1862.8,2419.6 1865.6,2418.0 1868.2,2417.5C1870.1,2417.2 1872.9,2417.6 1874.3,2419.0C1877.0,2421.6 1879.0,2425.7 1880.4,2429.4C1883.1,2436.9 1884.6,2444.9 1886.5,2452.7C1888.7,2461.9 1890.3,2471.4 1892.7,2480.5C1894.4,2486.8 1896.4,2493.1 1898.8,2499.1C1900.5,2503.5 1902.4,2507.9 1904.9,2511.7C1906.4,2514.0 1908.8,2517.1 1911.0,2517.6C1912.9,2517.9 1915.3,2515.4 1917.1,2514.0C1920.4,2511.4 1923.0,2508.1 1926.3,2505.5C1928.6,2503.6 1931.2,2501.6 1933.9,2500.6C1936.3,2499.7 1939.2,2499.2 1941.6,2499.7C1944.3,2500.2 1946.6,2502.5 1949.2,2503.5C1951.2,2504.1 1953.6,2505.1 1955.4,2504.4C1957.7,2503.6 1960.3,2501.4 1961.5,2499.0C1964.4,2493.5 1965.8,2486.9 1967.6,2480.7C1969.9,2472.7 1971.6,2464.5 1973.7,2456.4C1975.7,2448.7 1977.3,2440.9 1979.8,2433.5C1981.4,2428.8 1983.5,2424.1 1985.9,2419.9C1988.1,2416.1 1990.8,2412.6 1993.6,2409.3C1996.4,2406.0 1999.7,2403.2 2002.8,2400.2C2006.4,2396.7 2009.4,2392.0 2013.5,2389.6C2016.0,2388.2 2019.8,2388.2 2022.6,2388.8C2025.4,2389.5 2028.0,2391.6 2030.3,2393.5C2032.6,2395.3 2034.1,2398.1 2036.4,2399.8C2038.0,2400.9 2040.3,2402.4 2041.9,2402.0C2043.8,2401.6 2045.7,2399.2 2047.1,2397.4C2048.9,2395.1 2049.7,2391.8 2051.7,2389.7C2052.8,2388.5 2054.7,2387.7 2056.3,2387.6C2058.3,2387.5 2060.4,2388.6 2062.4,2389.2C2064.5,2389.9 2066.7,2391.7 2068.5,2391.4C2070.2,2391.1 2071.4,2388.4 2073.1,2387.4C2075.0,2386.3 2077.1,2385.1 2079.2,2384.9C2081.2,2384.7 2083.3,2385.6 2085.3,2386.0C2087.9,2386.5 2090.4,2387.7 2093.0,2387.7C2096.5,2387.8 2100.1,2386.7 2103.7,2386.2C2107.8,2385.6 2112.0,2385.6 2115.9,2384.5C2119.7,2383.3 2122.9,2380.5 2126.6,2379.1C2130.0,2377.8 2133.7,2376.9 2137.3,2376.5C2141.3,2375.9 2145.6,2375.4 2149.5,2376.0C2152.2,2376.5 2154.6,2378.5 2157.2,2379.8C2160.3,2381.3 2163.1,2383.7 2166.4,2384.4C2170.3,2385.4 2174.9,2383.8 2178.6,2385.0C2181.5,2385.8 2183.7,2388.5 2186.2,2390.4C2189.3,2392.7 2192.3,2397.2 2195.4,2397.6C2197.9,2397.9 2201.2,2394.7 2203.1,2392.4C2206.3,2388.5 2208.2,2383.4 2210.7,2378.9C2213.8,2373.4 2216.3,2367.5 2219.9,2362.4C2222.4,2358.9 2225.6,2355.4 2229.1,2353.0C2231.7,2351.2 2235.1,2350.5 2238.2,2350.0C2241.7,2349.5 2245.3,2349.7 2248.9,2349.8C2252.5,2349.9 2256.3,2349.7 2259.6,2350.7C2263.0,2351.7 2265.7,2355.1 2269.2,2356.0C2274.0,2357.2 2279.6,2355.8 2284.5,2356.9C2287.7,2357.6 2290.4,2360.7 2293.6,2361.5C2296.0,2362.1 2298.9,2361.7 2301.3,2360.9C2304.0,2360.0 2306.1,2357.1 2308.9,2356.3C2312.8,2355.2 2317.3,2356.4 2321.2,2355.4C2325.4,2354.3 2329.1,2350.8 2333.4,2349.9C2338.3,2348.8 2343.6,2349.3 2348.7,2349.3C2352.8,2349.3 2357.1,2348.9 2360.9,2349.9C2363.7,2350.7 2365.8,2353.7 2368.6,2354.8C2371.9,2356.1 2375.7,2356.9 2379.3,2356.9C2382.9,2356.8 2386.4,2355.0 2390.0,2354.5C2394.0,2354.0 2398.3,2354.7 2402.2,2353.9C2405.9,2353.2 2409.3,2351.3 2412.9,2349.9C2413.1,2349.8 2413.3,2349.6 2413.5,2349.6C2459.4,2349.5 2505.3,2348.9 2551.2,2349.6C2562.0,2349.8 2573.0,2350.4 2583.6,2352.1C2590.1,2353.1 2596.2,2356.8 2602.5,2357.7C2604.3,2358.0 2606.1,2355.5 2607.9,2355.6C2610.6,2355.7 2613.3,2358.3 2616.0,2358.3C2619.6,2358.3 2623.2,2355.9 2626.9,2355.6C2629.6,2355.4 2632.4,2356.0 2635.0,2356.9C2639.6,2358.5 2643.9,2361.0 2648.5,2362.9C2653.8,2365.1 2659.2,2367.8 2664.7,2369.1C2668.2,2369.9 2672.1,2369.9 2675.5,2369.1C2678.4,2368.4 2680.7,2364.9 2683.6,2364.5C2687.0,2364.0 2690.8,2366.1 2694.4,2366.4C2699.8,2366.9 2705.4,2365.9 2710.6,2366.9C2715.3,2367.7 2719.7,2369.9 2724.1,2371.8C2729.6,2374.2 2734.6,2378.1 2740.3,2379.9C2745.4,2381.5 2751.3,2382.3 2756.5,2381.8C2760.3,2381.4 2763.8,2379.0 2767.3,2377.2C2771.9,2374.8 2776.2,2371.6 2780.8,2369.1C2784.3,2367.1 2788.3,2366.0 2791.6,2363.7C2795.5,2361.0 2798.2,2356.1 2802.4,2354.2C2807.3,2352.0 2813.5,2352.4 2819.0,2351.5" fill="none" stroke="#FF8000" stroke-width="6" stroke-linejoin="round" stroke-linecap="butt" />
<path d="M1147.6,2555.9C1154.7,2556.2 1161.9,2556.0 1169.0,2556.8C1172.7,2557.2 1176.9,2557.7 1179.8,2559.7C1182.5,2561.6 1184.5,2565.2 1185.9,2568.4C1188.1,2573.5 1188.9,2579.4 1190.5,2584.8C1191.9,2589.8 1192.8,2595.2 1195.0,2599.8C1196.4,2602.6 1198.8,2605.1 1201.2,2607.1C1203.4,2608.8 1206.4,2611.4 1208.8,2611.1C1211.5,2610.8 1214.0,2607.2 1216.5,2605.1C1219.1,2602.9 1221.2,2599.5 1224.1,2598.1C1226.2,2597.0 1229.6,2596.6 1231.7,2597.6C1234.7,2599.0 1236.8,2602.8 1239.4,2605.4C1241.6,2607.5 1244.0,2611.8 1246.1,2611.6C1248.5,2611.3 1250.9,2606.6 1253.1,2603.9C1255.8,2600.5 1257.9,2596.5 1260.8,2593.3C1262.0,2592.0 1263.8,2590.5 1265.4,2590.4C1267.3,2590.3 1269.4,2592.4 1271.5,2592.9C1274.5,2593.5 1277.9,2594.4 1280.7,2593.6C1284.0,2592.6 1286.6,2589.3 1289.8,2587.6C1292.2,2586.3 1295.2,2584.1 1297.5,2584.6C1300.3,2585.2 1302.9,2588.5 1305.1,2590.9C1308.0,2594.1 1310.5,2597.9 1312.8,2601.7C1315.1,2605.6 1317.0,2609.8 1318.9,2613.9C1321.0,2618.5 1322.3,2623.7 1325.0,2627.8C1326.4,2629.9 1329.3,2632.8 1331.1,2632.4C1333.4,2631.8 1335.8,2627.6 1337.2,2624.8C1339.3,2620.5 1339.9,2615.4 1341.8,2610.9C1343.5,2607.0 1345.2,2602.5 1348.0,2599.6C1349.3,2598.2 1352.1,2597.8 1354.1,2598.1C1357.2,2598.5 1360.2,2600.4 1363.2,2601.7C1367.4,2603.6 1371.4,2605.7 1375.5,2607.8C1378.5,2609.3 1381.9,2612.6 1384.6,2612.3C1387.0,2612.1 1389.2,2608.6 1390.8,2606.2C1393.8,2601.9 1395.2,2596.3 1398.4,2592.4C1400.3,2590.1 1403.3,2588.5 1406.1,2587.7C1409.4,2586.8 1413.5,2588.1 1416.8,2587.1C1420.1,2586.0 1422.9,2583.4 1425.9,2581.5C1428.5,2580.0 1430.8,2577.6 1433.6,2576.9C1437.4,2575.9 1441.7,2576.3 1445.8,2576.2C1449.9,2576.1 1454.0,2576.5 1458.0,2576.2C1461.6,2575.9 1465.2,2574.2 1468.7,2574.3C1472.3,2574.4 1476.0,2575.5 1479.4,2576.8C1482.6,2578.0 1485.8,2579.7 1488.6,2581.7C1492.9,2584.8 1496.4,2589.3 1500.9,2592.1C1504.1,2594.0 1508.5,2594.0 1511.6,2596.0C1515.6,2598.7 1518.8,2602.7 1522.3,2606.1C1525.9,2609.7 1529.1,2613.8 1533.0,2617.0C1535.4,2619.1 1538.6,2622.3 1541.2,2622.1C1543.7,2621.9 1546.4,2618.4 1548.3,2616.0C1551.3,2612.0 1553.1,2607.0 1555.9,2602.8C1559.2,2598.1 1562.8,2593.5 1566.6,2589.2C1568.9,2586.6 1571.3,2583.7 1574.3,2582.1C1576.9,2580.7 1580.4,2580.8 1583.4,2580.1C1587.5,2579.2 1591.6,2577.9 1595.7,2577.2C1599.2,2576.6 1602.9,2575.7 1606.4,2576.1C1609.0,2576.4 1612.0,2577.3 1614.0,2579.1C1617.1,2581.8 1619.8,2585.8 1621.7,2589.6C1624.9,2595.9 1627.1,2602.7 1629.3,2609.4C1631.6,2616.4 1633.3,2623.6 1635.4,2630.7C1637.4,2637.3 1639.0,2644.1 1641.5,2650.5C1643.1,2654.7 1644.9,2659.1 1647.6,2662.6C1650.0,2665.6 1653.4,2668.0 1656.8,2670.0C1660.1,2672.0 1664.9,2671.9 1667.5,2674.4C1670.5,2677.4 1671.9,2682.4 1673.6,2686.6C1676.0,2692.6 1677.8,2698.8 1679.8,2704.8C1682.4,2712.4 1684.6,2720.1 1687.4,2727.6C1689.7,2733.8 1691.9,2740.1 1695.0,2745.9C1697.0,2749.7 1699.7,2753.4 1702.7,2756.4C1704.3,2758.0 1706.7,2759.2 1708.8,2759.4C1710.8,2759.6 1713.1,2758.6 1714.9,2757.5C1717.7,2755.8 1719.8,2752.8 1722.6,2750.9C1724.4,2749.7 1726.8,2748.0 1728.7,2748.2C1731.0,2748.5 1733.2,2750.9 1735.2,2752.6C1737.9,2754.8 1739.9,2758.3 1742.8,2759.8C1745.0,2761.0 1748.2,2761.3 1750.5,2760.6C1752.8,2759.8 1754.9,2757.5 1756.6,2755.4C1759.5,2751.8 1762.3,2747.8 1764.2,2743.6C1766.9,2737.4 1768.6,2730.7 1770.3,2724.1C1772.7,2715.1 1774.3,2705.9 1776.5,2696.9C1778.4,2688.9 1780.1,2680.7 1782.6,2672.9C1784.2,2667.7 1786.3,2662.7 1788.7,2657.9C1790.8,2653.7 1793.1,2649.3 1796.3,2646.0C1798.2,2644.0 1801.4,2642.3 1804.0,2642.0C1806.0,2641.8 1808.5,2643.1 1810.1,2644.5C1812.6,2646.8 1814.2,2650.3 1816.2,2653.2C1818.3,2656.3 1819.6,2660.6 1822.3,2662.6C1824.2,2663.9 1827.9,2664.3 1830.0,2663.2C1833.0,2661.8 1835.0,2657.7 1837.6,2655.0C1841.6,2650.9 1845.7,2647.0 1849.8,2643.0C1853.4,2639.4 1856.7,2635.4 1860.6,2632.4C1862.8,2630.7 1865.6,2629.2 1868.2,2628.8C1870.2,2628.5 1872.9,2628.9 1874.3,2630.3C1877.0,2632.9 1879.0,2636.9 1880.4,2640.6C1883.1,2648.1 1884.6,2656.1 1886.5,2663.9C1888.7,2673.2 1890.3,2682.6 1892.7,2691.7C1894.4,2698.0 1896.4,2704.2 1898.8,2710.3C1900.5,2714.6 1902.4,2719.1 1904.9,2722.9C1906.4,2725.2 1908.8,2728.1 1911.0,2728.7C1912.8,2729.1 1915.2,2726.9 1917.1,2725.7C1920.3,2723.5 1923.1,2720.5 1926.3,2718.2C1928.7,2716.6 1931.2,2715.1 1933.9,2714.2C1936.3,2713.4 1939.1,2712.9 1941.6,2713.3C1944.2,2713.6 1946.6,2715.7 1949.2,2716.4C1951.2,2716.9 1953.6,2717.7 1955.4,2717.0C1957.7,2716.0 1960.3,2713.8 1961.5,2711.4C1964.4,2705.8 1965.8,2699.2 1967.6,2692.9C1969.9,2684.9 1971.6,2676.6 1973.7,2668.5C1975.7,2660.8 1977.3,2652.9 1979.8,2645.4C1981.4,2640.7 1983.5,2636.0 1985.9,2631.6C1988.1,2627.8 1990.8,2624.2 1993.6,2620.9C1996.4,2617.5 1999.7,2614.7 2002.8,2611.6C2006.4,2608.0 2009.4,2603.1 2013.5,2600.8C2016.0,2599.3 2019.9,2599.5 2022.6,2600.3C2025.5,2601.2 2028.0,2603.7 2030.3,2605.8C2032.6,2607.9 2034.1,2610.9 2036.4,2612.8C2037.9,2614.1 2040.3,2615.8 2041.9,2615.4C2043.8,2615.0 2045.7,2612.5 2047.1,2610.6C2048.9,2608.2 2049.7,2604.9 2051.7,2602.7C2052.8,2601.5 2054.7,2600.6 2056.3,2600.4C2058.2,2600.2 2060.4,2600.9 2062.4,2601.3C2064.5,2601.7 2066.7,2603.3 2068.5,2602.9C2070.3,2602.4 2071.4,2599.7 2073.1,2598.6C2074.9,2597.3 2077.1,2596.0 2079.2,2595.7C2081.1,2595.4 2083.3,2596.4 2085.3,2596.8C2087.9,2597.3 2090.4,2598.6 2093.0,2598.5C2096.6,2598.4 2100.2,2597.2 2103.7,2596.3C2107.8,2595.4 2112.1,2594.7 2115.9,2593.0C2119.7,2591.3 2122.8,2587.9 2126.6,2585.9C2130.0,2584.1 2133.6,2582.4 2137.3,2581.5C2141.2,2580.7 2145.6,2580.3 2149.5,2580.8C2152.2,2581.3 2154.6,2583.3 2157.2,2584.5C2160.3,2586.1 2163.1,2588.4 2166.4,2589.2C2170.3,2590.1 2174.9,2588.5 2178.6,2589.6C2181.5,2590.5 2183.7,2593.1 2186.2,2595.0C2189.3,2597.3 2192.3,2601.8 2195.4,2602.2C2197.9,2602.5 2201.2,2599.4 2203.1,2597.1C2206.3,2593.3 2208.2,2588.2 2210.7,2583.7C2213.8,2578.3 2216.3,2572.5 2219.9,2567.5C2222.4,2564.0 2225.6,2560.5 2229.1,2558.2C2231.7,2556.5 2235.1,2555.9 2238.2,2555.4C2241.7,2554.9 2245.3,2555.3 2248.9,2555.4C2252.5,2555.5 2256.3,2555.3 2259.6,2556.3C2263.0,2557.3 2265.7,2560.7 2269.2,2561.6C2274.0,2562.8 2279.6,2561.4 2284.5,2562.5C2287.7,2563.2 2290.4,2566.3 2293.6,2567.1C2296.0,2567.7 2298.9,2567.3 2301.3,2566.5C2304.0,2565.6 2306.1,2562.7 2308.9,2561.9C2312.8,2560.8 2317.3,2562.0 2321.2,2561.0C2325.4,2559.9 2329.1,2556.4 2333.4,2555.5C2338.3,2554.4 2343.6,2554.9 2348.7,2554.9C2352.8,2554.9 2357.1,2554.5 2360.9,2555.5C2363.7,2556.3 2365.8,2559.3 2368.6,2560.4C2371.9,2561.7 2375.7,2562.5 2379.3,2562.5C2382.9,2562.4 2386.4,2560.6 2390.0,2560.1C2394.0,2559.6 2398.3,2560.3 2402.2,2559.5C2405.9,2558.8 2409.2,2556.2 2412.9,2555.5C2416.6,2554.8 2420.5,2555.2 2424.3,2555.2C2448.6,2555.1 2472.9,2554.8 2497.2,2555.2C2499.9,2555.2 2502.6,2556.7 2505.3,2556.6C2508.9,2556.5 2512.5,2554.8 2516.1,2554.7C2524.2,2554.4 2532.3,2554.6 2540.4,2555.2C2545.8,2555.6 2551.2,2557.2 2556.6,2557.9C2563.8,2558.8 2571.1,2559.0 2578.2,2560.1C2581.9,2560.7 2585.3,2562.3 2589.0,2562.8C2594.3,2563.6 2599.8,2563.7 2605.2,2564.1C2615.1,2564.8 2625.2,2564.5 2635.0,2566.0C2640.6,2566.9 2646.3,2568.7 2651.2,2571.4C2656.2,2574.1 2659.8,2579.9 2664.7,2582.2C2667.0,2583.3 2670.2,2582.4 2672.8,2581.7C2676.5,2580.8 2679.9,2578.2 2683.6,2577.4C2687.1,2576.6 2690.9,2576.2 2694.4,2576.8C2698.1,2577.4 2701.5,2580.0 2705.2,2580.9C2709.6,2582.0 2714.3,2581.8 2718.7,2582.8C2723.3,2583.9 2727.7,2585.7 2732.2,2587.1C2736.7,2588.4 2741.1,2590.0 2745.7,2590.9C2750.1,2591.8 2754.8,2592.9 2759.2,2592.5C2762.0,2592.3 2764.8,2590.5 2767.3,2589.0C2771.1,2586.7 2774.5,2583.6 2778.1,2580.9C2781.7,2578.2 2785.0,2575.1 2788.9,2572.8C2792.2,2570.8 2796.2,2569.9 2799.7,2568.2C2803.4,2566.3 2806.7,2563.6 2810.5,2562.0C2813.1,2560.9 2816.2,2560.7 2819.0,2560.1" fill="none" stroke="#FF0000" stroke-width="6" stroke-linejoin="round" stroke-linecap="butt" />
<rect x="1155" y="2659.6" width="505.9" height="64" fill="#fff"/>
<path d="M1147.6,2751.5C1154.7,2751.9 1162.0,2751.8 1169.0,2752.7C1172.7,2753.2 1176.9,2753.7 1179.8,2755.7C1182.5,2757.7 1184.5,2761.2 1185.9,2764.5C1188.1,2769.7 1188.9,2775.5 1190.5,2781.0C1191.9,2786.0 1192.8,2791.4 1195.0,2796.0C1196.4,2798.9 1198.8,2801.3 1201.2,2803.4C1203.4,2805.2 1206.4,2807.8 1208.8,2807.5C1211.5,2807.2 1214.0,2803.7 1216.5,2801.6C1219.1,2799.4 1221.2,2796.1 1224.1,2794.7C1226.3,2793.6 1229.6,2793.2 1231.7,2794.3C1234.7,2795.7 1236.8,2799.6 1239.4,2802.2C1241.6,2804.3 1243.9,2808.6 1246.1,2808.4C1248.5,2808.2 1250.9,2803.5 1253.1,2800.9C1255.8,2797.5 1257.9,2793.5 1260.8,2790.4C1262.0,2789.1 1263.8,2787.5 1265.4,2787.5C1267.4,2787.4 1269.4,2789.6 1271.5,2790.0C1274.5,2790.7 1277.9,2791.6 1280.7,2790.9C1284.0,2790.0 1286.6,2786.7 1289.8,2785.0C1292.2,2783.7 1295.2,2781.5 1297.5,2782.1C1300.3,2782.7 1302.9,2786.0 1305.1,2788.5C1308.0,2791.8 1310.5,2795.5 1312.8,2799.3C1315.1,2803.3 1317.0,2807.5 1318.9,2811.7C1321.0,2816.3 1322.3,2821.5 1325.0,2825.6C1326.4,2827.7 1329.3,2830.7 1331.1,2830.3C1333.4,2829.7 1335.8,2825.5 1337.2,2822.6C1339.3,2818.3 1339.9,2813.2 1341.8,2808.7C1343.5,2804.7 1345.2,2800.2 1348.0,2797.3C1349.3,2795.9 1352.1,2795.4 1354.1,2795.7C1357.2,2796.1 1360.2,2797.9 1363.2,2799.2C1367.4,2801.0 1371.4,2803.1 1375.5,2805.1C1378.5,2806.5 1381.9,2809.8 1384.6,2809.5C1387.0,2809.2 1389.2,2805.7 1390.8,2803.3C1393.8,2798.9 1395.2,2793.3 1398.4,2789.3C1400.3,2787.1 1403.3,2785.4 1406.1,2784.6C1409.4,2783.6 1413.5,2784.9 1416.8,2783.8C1420.1,2782.7 1422.9,2780.0 1425.9,2778.1C1428.5,2776.5 1430.8,2774.2 1433.6,2773.4C1437.4,2772.3 1441.7,2772.7 1445.8,2772.5C1449.9,2772.4 1454.0,2772.7 1458.0,2772.3C1461.6,2772.0 1465.1,2770.2 1468.7,2770.3C1472.3,2770.4 1476.0,2771.5 1479.4,2772.7C1482.6,2773.9 1485.8,2775.6 1488.6,2777.5C1492.9,2780.6 1496.4,2785.0 1500.9,2787.7C1504.1,2789.6 1508.4,2789.5 1511.6,2791.3C1515.5,2793.6 1518.8,2797.2 1522.3,2800.2C1525.9,2803.4 1529.1,2807.1 1533.0,2809.9C1535.4,2811.7 1538.7,2814.4 1541.2,2814.1C1543.8,2813.8 1546.4,2810.4 1548.3,2808.0C1551.3,2804.0 1553.1,2799.0 1555.9,2794.8C1559.2,2790.1 1562.8,2785.5 1566.6,2781.2C1568.9,2778.6 1571.4,2775.8 1574.3,2774.1C1577.0,2772.6 1580.4,2772.4 1583.4,2771.4C1587.5,2770.2 1591.5,2768.2 1595.7,2767.5C1599.2,2766.9 1603.0,2766.7 1606.4,2767.4C1609.1,2767.9 1612.1,2769.1 1614.0,2771.0C1617.2,2774.1 1619.7,2778.2 1621.7,2782.3C1624.8,2788.8 1627.1,2795.8 1629.3,2802.7C1631.6,2809.9 1633.3,2817.3 1635.4,2824.5C1637.4,2831.3 1639.1,2838.2 1641.5,2844.9C1643.1,2849.2 1644.9,2853.8 1647.6,2857.5C1650.0,2860.7 1653.4,2863.5 1656.8,2865.7C1660.0,2867.9 1664.9,2868.0 1667.5,2870.7C1670.5,2873.9 1671.9,2878.9 1673.6,2883.2C1676.0,2889.3 1677.8,2895.6 1679.8,2901.8C1682.4,2909.5 1684.6,2917.3 1687.4,2925.0C1689.7,2931.3 1691.9,2937.7 1695.0,2943.6C1697.0,2947.6 1699.7,2951.5 1702.7,2954.6C1704.3,2956.3 1706.7,2957.8 1708.8,2958.0C1710.8,2958.2 1713.1,2957.0 1714.9,2955.8C1717.7,2954.0 1719.8,2950.9 1722.6,2948.9C1724.4,2947.6 1726.7,2945.7 1728.7,2945.8C1730.9,2946.0 1733.2,2948.3 1735.2,2949.9C1737.9,2952.0 1739.9,2955.4 1742.8,2956.7C1745.0,2957.8 1748.3,2957.9 1750.5,2957.1C1752.9,2956.2 1754.9,2953.8 1756.6,2951.6C1759.5,2947.9 1762.3,2943.8 1764.2,2939.4C1766.9,2933.1 1768.6,2926.3 1770.3,2919.6C1772.7,2910.5 1774.3,2901.3 1776.5,2892.1C1778.4,2884.0 1780.1,2875.7 1782.6,2867.7C1784.2,2862.5 1786.3,2857.4 1788.7,2852.5C1790.8,2848.2 1793.1,2843.7 1796.3,2840.2C1798.2,2838.1 1801.4,2836.1 1804.0,2835.8C1806.0,2835.5 1808.5,2837.0 1810.1,2838.5C1812.6,2840.8 1814.2,2844.3 1816.2,2847.3C1818.3,2850.4 1819.6,2854.8 1822.3,2856.8C1824.2,2858.1 1828.0,2858.4 1830.0,2857.3C1833.1,2855.7 1835.0,2851.4 1837.6,2848.6C1841.6,2844.3 1845.7,2840.0 1849.8,2835.8C1853.4,2832.0 1856.7,2827.8 1860.6,2824.5C1862.8,2822.7 1865.6,2820.8 1868.2,2820.4C1870.1,2820.1 1872.9,2821.0 1874.3,2822.4C1877.0,2825.3 1879.0,2829.5 1880.4,2833.4C1883.1,2841.1 1884.6,2849.3 1886.5,2857.3C1888.7,2866.7 1890.3,2876.3 1892.7,2885.7C1894.4,2892.2 1896.4,2898.6 1898.8,2904.9C1900.5,2909.4 1902.4,2914.0 1904.9,2918.1C1906.4,2920.5 1908.8,2924.0 1911.0,2924.5C1912.8,2924.8 1915.3,2922.2 1917.1,2920.6C1920.4,2917.8 1923.0,2914.2 1926.3,2911.4C1928.6,2909.3 1931.1,2907.0 1933.9,2905.9C1936.2,2905.0 1939.2,2904.7 1941.6,2905.3C1944.3,2906.0 1946.5,2908.8 1949.2,2910.0C1951.1,2910.8 1953.6,2911.9 1955.4,2911.3C1957.7,2910.4 1960.3,2907.9 1961.5,2905.5C1964.3,2899.7 1965.8,2893.1 1967.6,2886.7C1969.9,2878.6 1971.6,2870.3 1973.7,2862.0C1975.7,2854.2 1977.3,2846.3 1979.8,2838.7C1981.4,2833.9 1983.5,2829.1 1985.9,2824.7C1988.1,2820.8 1990.8,2817.1 1993.6,2813.6C1996.4,2810.2 1999.7,2807.1 2002.8,2803.9C2006.4,2800.2 2009.3,2795.2 2013.5,2792.7C2015.9,2791.2 2019.9,2791.2 2022.6,2792.0C2025.5,2792.8 2028.0,2795.4 2030.3,2797.5C2032.6,2799.6 2034.1,2802.6 2036.4,2804.5C2037.9,2805.8 2040.3,2807.5 2041.9,2807.1C2043.8,2806.7 2045.7,2804.2 2047.1,2802.3C2048.9,2799.9 2049.7,2796.6 2051.7,2794.4C2052.8,2793.2 2054.7,2792.2 2056.3,2792.1C2058.3,2792.1 2060.4,2793.4 2062.4,2794.1C2064.5,2794.9 2066.6,2796.9 2068.5,2796.6C2070.2,2796.4 2071.4,2793.7 2073.1,2792.7C2075.0,2791.5 2077.1,2790.3 2079.2,2790.2C2081.2,2790.1 2083.3,2791.4 2085.3,2792.0C2087.9,2792.9 2090.4,2794.6 2093.0,2794.8C2096.5,2795.0 2100.2,2793.9 2103.7,2793.3C2107.8,2792.5 2112.0,2792.0 2115.9,2790.6C2119.7,2789.2 2122.9,2786.3 2126.6,2784.7C2130.0,2783.3 2133.7,2782.2 2137.3,2781.6C2141.3,2781.0 2145.6,2780.6 2149.5,2781.3C2152.2,2781.8 2154.6,2783.9 2157.2,2785.2C2160.3,2786.8 2163.1,2789.3 2166.4,2790.0C2170.3,2790.9 2174.8,2789.1 2178.6,2790.0C2181.4,2790.6 2183.7,2793.0 2186.2,2794.6C2189.3,2796.6 2192.4,2800.7 2195.4,2800.9C2198.0,2801.0 2201.2,2797.7 2203.1,2795.3C2206.3,2791.3 2208.2,2786.1 2210.7,2781.5C2213.8,2775.9 2216.3,2769.9 2219.9,2764.7C2222.4,2761.0 2225.6,2757.4 2229.1,2754.9C2231.7,2753.1 2235.1,2752.2 2238.2,2751.6C2241.7,2750.9 2245.3,2751.0 2248.9,2751.0C2252.5,2751.1 2256.3,2750.9 2259.6,2751.9C2263.0,2752.9 2265.7,2756.3 2269.2,2757.2C2274.0,2758.4 2279.6,2757.0 2284.5,2758.1C2287.7,2758.8 2290.4,2761.9 2293.6,2762.7C2296.0,2763.3 2298.9,2762.9 2301.3,2762.1C2304.0,2761.2 2306.1,2758.3 2308.9,2757.5C2312.8,2756.4 2317.3,2757.6 2321.2,2756.6C2325.4,2755.5 2329.1,2752.0 2333.4,2751.1C2338.3,2750.0 2343.6,2750.5 2348.7,2750.5C2352.8,2750.5 2357.1,2750.1 2360.9,2751.1C2363.7,2751.9 2365.8,2754.9 2368.6,2756.0C2371.9,2757.3 2375.7,2758.1 2379.3,2758.1C2382.9,2758.0 2386.4,2756.2 2390.0,2755.7C2394.0,2755.2 2398.3,2755.9 2402.2,2755.1C2405.9,2754.4 2409.2,2751.9 2412.9,2751.1C2415.7,2750.5 2418.7,2750.8 2421.6,2750.8C2463.0,2750.7 2504.4,2750.0 2545.8,2750.8C2553.9,2750.9 2562.0,2752.3 2570.1,2753.5C2576.4,2754.4 2582.7,2756.1 2589.0,2757.0C2595.3,2757.9 2601.6,2758.5 2607.9,2758.9C2616.9,2759.4 2626.1,2758.5 2635.0,2759.7C2639.7,2760.3 2644.3,2762.2 2648.5,2764.3C2653.3,2766.6 2657.2,2771.2 2662.0,2772.9C2665.3,2774.1 2669.5,2773.9 2672.8,2772.9C2676.2,2771.9 2678.8,2768.2 2682.2,2767.0C2685.1,2766.0 2688.7,2765.5 2691.7,2766.2C2695.5,2767.1 2698.7,2770.5 2702.5,2771.6C2707.7,2773.0 2713.6,2772.1 2718.7,2773.7C2723.9,2775.3 2728.5,2780.0 2733.6,2781.3C2735.7,2781.8 2738.0,2778.9 2740.3,2779.1C2745.7,2779.5 2751.1,2782.6 2756.5,2783.2C2759.2,2783.5 2762.1,2782.9 2764.6,2781.8C2768.4,2780.2 2771.8,2777.4 2775.4,2775.1C2779.0,2772.7 2782.7,2770.4 2786.2,2767.8C2789.9,2765.0 2793.0,2760.9 2797.0,2758.9C2800.2,2757.3 2804.3,2758.0 2807.8,2757.0C2811.6,2755.9 2815.3,2754.1 2819.0,2752.7" fill="none" stroke="#000" stroke-width="6" stroke-linejoin="round" stroke-linecap="butt" />
<path d="M1147.6,2970.8C1154.7,2970.9 1162.0,2970.2 1169.0,2971.1C1172.7,2971.6 1176.8,2972.8 1179.8,2974.8C1182.4,2976.5 1184.5,2979.5 1185.9,2982.4C1188.1,2987.1 1188.8,2992.6 1190.5,2997.7C1191.9,3001.8 1192.9,3006.3 1195.0,3010.0C1196.4,3012.4 1198.8,3014.5 1201.2,3016.1C1203.4,3017.6 1206.4,3019.3 1208.8,3019.1C1211.5,3018.8 1214.2,3016.4 1216.5,3014.6C1219.3,3012.4 1221.2,3008.8 1224.1,3006.9C1225.8,3005.8 1228.5,3004.7 1230.2,3005.4C1233.1,3006.7 1235.2,3010.6 1237.9,3013.0C1240.3,3015.2 1243.0,3019.1 1245.5,3019.1C1248.0,3019.1 1250.9,3015.4 1253.1,3013.0C1256.0,3009.8 1257.8,3005.4 1260.8,3002.3C1262.4,3000.6 1264.8,2998.9 1266.9,2998.7C1268.9,2998.6 1270.9,3001.2 1273.0,3001.4C1275.5,3001.7 1278.4,3001.2 1280.7,3000.2C1284.0,2998.7 1286.6,2995.6 1289.8,2993.8C1292.2,2992.4 1295.1,2990.3 1297.5,2990.7C1300.2,2991.1 1303.0,2994.0 1305.1,2996.2C1308.1,2999.4 1310.4,3003.2 1312.8,3006.9C1315.0,3010.3 1317.0,3014.0 1318.9,3017.6C1321.0,3021.6 1322.4,3026.4 1325.0,3029.8C1326.1,3031.3 1328.6,3032.5 1330.2,3032.3C1332.1,3032.0 1334.6,3030.2 1335.7,3028.3C1338.5,3023.3 1339.3,3016.9 1341.8,3011.5C1343.4,3007.9 1345.4,3004.1 1348.0,3001.4C1349.5,2999.9 1352.0,2998.7 1354.1,2998.7C1357.1,2998.7 1360.3,3000.2 1363.2,3001.4C1367.4,3003.2 1371.3,3005.9 1375.5,3007.8C1378.4,3009.1 1381.9,3011.4 1384.6,3010.9C1387.0,3010.4 1389.1,3007.1 1390.8,3004.8C1393.7,3001.0 1395.4,2996.2 1398.4,2992.5C1400.5,2990.0 1403.2,2987.5 1406.1,2986.4C1409.3,2985.2 1413.5,2986.7 1416.8,2985.5C1420.1,2984.3 1422.7,2981.1 1425.9,2979.4C1428.8,2977.8 1431.9,2976.1 1435.1,2975.7C1442.6,2974.8 1450.4,2975.7 1458.0,2975.7C1464.1,2975.7 1470.3,2975.2 1476.4,2975.7C1479.5,2975.9 1483.0,2976.3 1485.6,2977.9C1490.1,2980.6 1493.9,2984.9 1497.8,2988.6C1502.0,2992.5 1506.5,2996.3 1510.0,3000.8C1514.1,3006.0 1517.2,3012.0 1520.7,3017.6C1523.8,3022.7 1526.7,3027.9 1529.9,3032.9C1532.9,3037.6 1535.5,3042.6 1539.1,3046.7C1540.9,3048.8 1543.7,3051.3 1546.1,3051.3C1548.8,3051.3 1551.5,3048.0 1554.4,3046.7C1557.8,3045.2 1561.4,3043.6 1565.1,3043.0C1569.1,3042.3 1573.2,3042.8 1577.3,3042.7C1581.4,3042.5 1585.6,3042.9 1589.5,3042.1C1592.7,3041.5 1595.6,3039.4 1598.7,3038.4C1601.2,3037.6 1603.9,3036.8 1606.4,3036.9C1609.0,3037.0 1611.9,3037.6 1614.0,3039.0C1617.0,3040.9 1619.6,3043.8 1621.7,3046.7C1624.7,3050.9 1627.1,3055.7 1629.3,3060.4C1632.1,3066.4 1634.3,3072.7 1636.9,3078.8C1639.4,3084.9 1642.0,3091.0 1644.6,3097.1C1646.6,3101.7 1648.0,3106.8 1650.7,3110.9C1653.1,3114.4 1657.0,3116.9 1659.9,3120.1C1663.1,3123.6 1666.6,3126.9 1669.1,3130.8C1672.7,3136.5 1675.3,3143.0 1678.2,3149.1C1681.4,3155.7 1684.2,3162.4 1687.4,3169.0C1690.4,3175.2 1693.0,3181.6 1696.6,3187.3C1699.1,3191.2 1702.4,3194.8 1705.8,3198.0C1708.5,3200.5 1711.8,3202.2 1714.9,3204.2C1718.4,3206.4 1722.5,3207.9 1725.6,3210.5C1729.2,3213.5 1732.2,3217.4 1735.2,3221.1C1737.9,3224.5 1740.0,3228.5 1742.8,3231.8C1745.1,3234.4 1747.7,3236.8 1750.5,3238.8C1752.8,3240.4 1755.4,3241.9 1758.1,3242.5C1760.5,3243.1 1763.4,3243.2 1765.7,3242.5C1768.5,3241.7 1771.4,3240.1 1773.4,3237.9C1776.5,3234.5 1778.3,3229.7 1781.0,3225.7C1783.4,3222.0 1786.1,3218.5 1788.7,3215.0C1791.7,3210.9 1794.7,3206.7 1797.9,3202.8C1800.3,3199.9 1802.6,3196.8 1805.5,3194.5C1807.7,3192.7 1810.4,3190.9 1813.1,3190.5C1816.0,3190.1 1819.3,3192.3 1822.3,3192.0C1824.9,3191.8 1827.9,3190.7 1830.0,3189.0C1833.0,3186.6 1835.2,3183.0 1837.6,3179.8C1840.3,3176.3 1843.1,3172.9 1845.3,3169.1C1848.2,3164.2 1850.5,3159.0 1852.9,3153.8C1855.6,3147.8 1858.0,3141.6 1860.6,3135.5C1862.6,3130.9 1864.5,3126.2 1866.7,3121.7C1868.5,3118.0 1870.3,3114.1 1872.8,3111.0C1873.9,3109.7 1875.9,3108.6 1877.4,3108.6C1878.9,3108.6 1881.2,3109.6 1882.0,3111.0C1884.8,3116.0 1886.2,3122.1 1888.1,3127.8C1890.3,3134.4 1891.7,3141.2 1894.2,3147.7C1895.8,3151.9 1897.9,3156.1 1900.3,3159.9C1901.9,3162.4 1904.1,3164.7 1906.4,3166.7C1907.7,3167.8 1909.5,3169.2 1911.0,3169.1C1913.0,3169.0 1915.5,3167.6 1917.1,3166.1C1920.1,3163.3 1922.3,3159.6 1924.8,3156.3C1927.4,3152.8 1929.2,3148.3 1932.4,3145.6C1934.3,3143.9 1937.5,3143.4 1940.1,3143.1C1942.6,3142.8 1945.2,3143.4 1947.7,3143.7C1949.7,3143.9 1952.0,3145.1 1953.8,3144.6C1956.0,3143.9 1958.6,3142.2 1959.9,3140.1C1962.7,3135.6 1964.5,3130.1 1966.1,3124.8C1968.6,3116.3 1970.1,3107.5 1972.2,3098.8C1974.2,3090.6 1976.1,3082.4 1978.3,3074.3C1980.1,3067.6 1982.0,3060.9 1984.4,3054.4C1986.5,3048.7 1989.3,3043.1 1992.0,3037.6C1994.9,3031.9 1997.8,3026.2 2001.2,3020.8C2003.9,3016.5 2006.9,3012.1 2010.4,3008.6C2012.5,3006.5 2015.3,3004.5 2018.0,3004.0C2020.4,3003.5 2023.4,3004.4 2025.7,3005.5C2028.5,3006.9 2030.6,3009.9 2033.3,3011.6C2035.4,3012.9 2038.0,3015.0 2040.1,3014.7C2042.6,3014.3 2045.0,3011.5 2047.1,3009.5C2049.9,3006.7 2051.5,3002.2 2054.7,3000.3C2057.1,2998.8 2060.8,2999.6 2063.9,2999.4C2065.9,2999.3 2068.2,3000.2 2070.0,2999.4C2072.8,2998.1 2074.8,2994.4 2077.7,2993.3C2079.9,2992.4 2082.9,2992.9 2085.3,2993.3C2086.9,2993.6 2088.2,2995.2 2089.9,2995.4C2095.4,2995.9 2101.1,2995.6 2106.7,2995.4C2112.3,2995.2 2117.9,2994.2 2123.5,2994.2C2128.1,2994.2 2133.1,2993.9 2137.3,2995.4C2140.8,2996.6 2143.5,2999.9 2146.5,3002.4C2149.7,3005.0 2152.7,3007.8 2155.7,3010.7C2158.8,3013.7 2161.4,3017.4 2164.8,3019.9C2168.0,3022.3 2172.2,3023.2 2175.5,3025.4C2178.3,3027.3 2180.8,3029.7 2183.2,3032.1C2185.9,3034.8 2188.0,3038.2 2190.8,3040.7C2192.5,3042.3 2194.8,3044.3 2196.9,3044.3C2199.4,3044.3 2202.8,3042.7 2204.6,3040.7C2207.9,3036.9 2209.6,3031.4 2212.2,3026.9C2215.2,3021.7 2218.1,3016.5 2221.4,3011.6C2224.2,3007.4 2227.3,3003.2 2230.6,2999.4C2233.9,2995.6 2237.7,2992.3 2241.3,2988.7C2244.4,2985.6 2247.1,2982.2 2250.5,2979.5C2252.7,2977.8 2255.4,2976.1 2258.1,2975.5C2261.5,2974.8 2265.3,2975.2 2268.8,2975.5C2274.1,2976.0 2279.4,2976.7 2284.5,2978.0C2287.7,2978.8 2290.5,2981.6 2293.6,2982.0C2296.1,2982.3 2298.8,2980.9 2301.3,2980.1C2304.4,2979.1 2307.3,2977.3 2310.5,2976.5C2314.0,2975.6 2317.7,2975.8 2321.2,2974.9C2324.9,2973.9 2328.2,2971.4 2331.9,2970.9C2337.4,2970.1 2343.1,2970.8 2348.7,2970.9C2352.8,2971.0 2356.9,2970.6 2360.9,2971.3C2364.6,2971.9 2367.9,2974.4 2371.6,2974.9C2377.6,2975.6 2384.0,2975.4 2390.0,2974.9C2391.7,2974.7 2393.0,2973.0 2394.6,2972.8C2399.1,2972.2 2403.8,2973.1 2408.3,2972.5C2411.0,2972.1 2413.4,2970.4 2416.0,2969.7C2418.0,2969.2 2420.1,2968.6 2422.1,2968.8C2423.7,2969.0 2425.0,2970.8 2426.7,2970.9C2442.4,2971.5 2458.3,2970.9 2474.1,2970.9C2508.2,2970.9 2542.6,2969.7 2576.5,2970.9C2579.8,2971.0 2582.5,2974.4 2585.7,2974.9C2588.1,2975.3 2590.7,2973.7 2593.3,2973.4C2596.3,2973.0 2599.6,2973.4 2602.5,2972.8C2603.7,2972.6 2604.4,2971.0 2605.6,2970.9C2615.6,2970.3 2626.4,2969.5 2636.1,2970.9C2639.1,2971.3 2641.5,2974.3 2643.8,2976.5C2646.6,2979.2 2649.3,2982.3 2651.4,2985.6C2653.9,2989.4 2655.6,2993.8 2657.6,2997.9C2660.7,3004.5 2663.7,3011.1 2666.7,3017.7C2670.3,3025.8 2674.0,3034.0 2677.4,3042.2C2681.1,3051.3 2684.5,3060.5 2688.1,3069.7C2691.1,3077.4 2693.9,3085.2 2697.3,3092.7C2700.1,3098.9 2703.0,3105.2 2706.5,3111.0C2709.1,3115.3 2712.3,3119.5 2715.7,3123.2C2717.9,3125.6 2720.5,3127.9 2723.3,3129.4C2725.6,3130.6 2728.5,3131.6 2731.0,3131.5C2733.6,3131.4 2736.7,3130.5 2738.6,3128.7C2742.3,3125.2 2744.5,3119.8 2747.8,3115.6C2751.1,3111.4 2755.5,3107.8 2758.5,3103.4C2762.1,3098.1 2764.8,3092.3 2767.6,3086.5C2771.4,3078.5 2774.8,3070.3 2778.3,3062.1C2782.0,3053.5 2785.4,3044.7 2789.1,3036.1C2792.6,3027.9 2796.1,3019.7 2799.8,3011.6C2803.3,3003.9 2806.6,2996.2 2810.5,2988.7C2813.0,2983.9 2816.2,2979.5 2819.0,2974.9" fill="none" stroke="#FF00FF" stroke-width="6" stroke-linejoin="round" stroke-linecap="butt" />
<rect x="1147.2" y="1929.6" width="1671.8" height="1349.3000000000002" fill="none" stroke="#000" stroke-width="5"/>
<line x1="1147.2" y1="3278.9" x2="1147.2" y2="3304.4" stroke="#000" stroke-width="5"/>
<text transform="translate(1147.2,3367.7) scale(1,1.04)" font-family="Liberation Sans" font-size="56" text-anchor="middle" >1500</text>
<line x1="1907.4" y1="3278.9" x2="1907.4" y2="3304.4" stroke="#000" stroke-width="5"/>
<text transform="translate(1907.4,3367.7) scale(1,1.04)" font-family="Liberation Sans" font-size="56" text-anchor="middle" >1000</text>
<line x1="2667.6" y1="3278.9" x2="2667.6" y2="3304.4" stroke="#000" stroke-width="5"/>
<text transform="translate(2667.6,3367.7) scale(1,1.04)" font-family="Liberation Sans" font-size="56" text-anchor="middle" >500</text>
<line x1="1527.3" y1="3278.9" x2="1527.3" y2="3291.4" stroke="#000" stroke-width="5"/>
<line x1="2287.5" y1="3278.9" x2="2287.5" y2="3291.4" stroke="#000" stroke-width="5"/>
<text transform="translate(1753.3,1903.3) scale(1,1.04)" font-family="Liberation Sans" font-size="39.2" text-anchor="middle" >1100</text>
<text transform="translate(2739.3,1903.3) scale(1,1.04)" font-family="Liberation Sans" font-size="39.2" text-anchor="middle" >450</text>
<text transform="translate(1179.0,2067.0) scale(1,1.04)" font-family="Liberation Sans" font-size="50.5" text-anchor="start" >PVBR-B</text>
<text transform="translate(1158.0,2294.8) scale(1,1.04)" font-family="Liberation Sans" font-size="50.5" text-anchor="start" >PVBR-B + GF-C 8%</text>
<text transform="translate(1158.0,2517.5) scale(1,1.04)" font-family="Liberation Sans" font-size="50.5" text-anchor="start" >PVBR-B + GF-E 8%</text>
<text transform="translate(1163.0,2712.0) scale(1,1.04)" font-family="Liberation Sans" font-size="50.5" text-anchor="start" >PVBR-B + GFiber 8%</text>
<text transform="translate(1164.0,2936.0) scale(1,1.04)" font-family="Liberation Sans" font-size="50.5" text-anchor="start" >PVBR-B + FSilica 8%</text>
<text transform="translate(1649.4,3489.2) scale(1,1.04)" font-family="Liberation Sans" font-size="76" text-anchor="start" >Wavenumber (cm</text>
<text transform="translate(2244.0,3459.2) scale(1,1.04)" font-family="Liberation Sans" font-size="53.298701298701296" text-anchor="start" >−1</text>
<text transform="translate(2305.6,3489.2) scale(1,1.04)" font-family="Liberation Sans" font-size="76" text-anchor="start" >)</text>
<text transform="translate(1038.9,2563.0) rotate(-90) scale(1,1.04)" font-family="Liberation Sans" font-size="75.8" text-anchor="middle">Transmittance (a.u.)</text>
<text x="1915.0" y="3631.4" font-family="Liberation Serif" font-size="76" letter-spacing="-1.5" text-anchor="middle">(<tspan font-weight="bold">c</tspan>)</text>
</svg>
</body></html>
